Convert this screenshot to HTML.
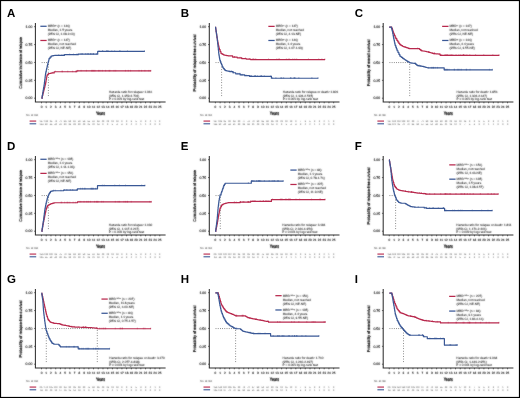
<!DOCTYPE html>
<html><head><meta charset="utf-8"><title>Figure</title>
<style>
html,body{margin:0;padding:0;background:#fff;}
body{width:520px;height:398px;overflow:hidden;font-family:"Liberation Sans",sans-serif;}
svg{display:block;}
</style></head><body>
<svg width="520" height="398" viewBox="0 0 520 398" font-family="Liberation Sans, sans-serif" text-rendering="geometricPrecision">
<defs><filter id="nf"><feOffset dx="0" dy="0"/></filter><filter id="tb" x="-5%" y="-20%" width="110%" height="140%"><feConvolveMatrix order="3" kernelMatrix="1 2 1 2 20 2 1 2 1" divisor="32" edgeMode="none" preserveAlpha="false"/></filter></defs>
<rect x="0" y="0" width="520" height="398" fill="#fff"/>
<text x="6.9" y="16.85" font-size="11.5" font-weight="bold" fill="#000" filter="url(#nf)">A</text>
<line x1="34.1" y1="98.2" x2="35.4" y2="98.2" stroke="#303030" stroke-width="0.7"/>
<line x1="34.1" y1="80.33" x2="35.4" y2="80.33" stroke="#303030" stroke-width="0.7"/>
<line x1="34.1" y1="62.45" x2="35.4" y2="62.45" stroke="#303030" stroke-width="0.7"/>
<line x1="34.1" y1="44.58" x2="35.4" y2="44.58" stroke="#303030" stroke-width="0.7"/>
<line x1="34.1" y1="26.7" x2="35.4" y2="26.7" stroke="#303030" stroke-width="0.7"/>
<path d="M35.4 23 V101.9 H165.6" fill="none" stroke="#303030" stroke-width="1.05"/>
<line x1="41.5" y1="101.9" x2="41.5" y2="103.3" stroke="#303030" stroke-width="0.7"/>
<line x1="46.23" y1="101.9" x2="46.23" y2="103.3" stroke="#303030" stroke-width="0.7"/>
<line x1="50.96" y1="101.9" x2="50.96" y2="103.3" stroke="#303030" stroke-width="0.7"/>
<line x1="55.69" y1="101.9" x2="55.69" y2="103.3" stroke="#303030" stroke-width="0.7"/>
<line x1="60.42" y1="101.9" x2="60.42" y2="103.3" stroke="#303030" stroke-width="0.7"/>
<line x1="65.15" y1="101.9" x2="65.15" y2="103.3" stroke="#303030" stroke-width="0.7"/>
<line x1="69.88" y1="101.9" x2="69.88" y2="103.3" stroke="#303030" stroke-width="0.7"/>
<line x1="74.61" y1="101.9" x2="74.61" y2="103.3" stroke="#303030" stroke-width="0.7"/>
<line x1="79.34" y1="101.9" x2="79.34" y2="103.3" stroke="#303030" stroke-width="0.7"/>
<line x1="84.07" y1="101.9" x2="84.07" y2="103.3" stroke="#303030" stroke-width="0.7"/>
<line x1="88.8" y1="101.9" x2="88.8" y2="103.3" stroke="#303030" stroke-width="0.7"/>
<line x1="93.53" y1="101.9" x2="93.53" y2="103.3" stroke="#303030" stroke-width="0.7"/>
<line x1="98.26" y1="101.9" x2="98.26" y2="103.3" stroke="#303030" stroke-width="0.7"/>
<line x1="102.99" y1="101.9" x2="102.99" y2="103.3" stroke="#303030" stroke-width="0.7"/>
<line x1="107.72" y1="101.9" x2="107.72" y2="103.3" stroke="#303030" stroke-width="0.7"/>
<line x1="112.45" y1="101.9" x2="112.45" y2="103.3" stroke="#303030" stroke-width="0.7"/>
<line x1="117.18" y1="101.9" x2="117.18" y2="103.3" stroke="#303030" stroke-width="0.7"/>
<line x1="121.91" y1="101.9" x2="121.91" y2="103.3" stroke="#303030" stroke-width="0.7"/>
<line x1="126.64" y1="101.9" x2="126.64" y2="103.3" stroke="#303030" stroke-width="0.7"/>
<line x1="131.37" y1="101.9" x2="131.37" y2="103.3" stroke="#303030" stroke-width="0.7"/>
<line x1="136.1" y1="101.9" x2="136.1" y2="103.3" stroke="#303030" stroke-width="0.7"/>
<line x1="140.83" y1="101.9" x2="140.83" y2="103.3" stroke="#303030" stroke-width="0.7"/>
<line x1="145.56" y1="101.9" x2="145.56" y2="103.3" stroke="#303030" stroke-width="0.7"/>
<line x1="150.29" y1="101.9" x2="150.29" y2="103.3" stroke="#303030" stroke-width="0.7"/>
<line x1="155.02" y1="101.9" x2="155.02" y2="103.3" stroke="#303030" stroke-width="0.7"/>
<line x1="159.75" y1="101.9" x2="159.75" y2="103.3" stroke="#303030" stroke-width="0.7"/>
<rect x="29.6" y="120.35" width="6.6" height="1.5" fill="#b8294d" fill-opacity="0.75"/>
<rect x="29.6" y="122.95" width="6.6" height="1.5" fill="#3a5896" fill-opacity="0.75"/>
<line x1="41.7" y1="62.55" x2="48.4" y2="62.55" stroke="#444" stroke-width="0.75" stroke-dasharray="0.8 1.4"/>
<line x1="48.4" y1="64.05" x2="48.4" y2="97.4" stroke="#444" stroke-width="0.75" stroke-dasharray="0.8 1.8"/>
<path d="M41.7 98.45 L42.06 98.45 L42.06 96.95 L42.42 96.95 L42.42 95.45 L42.78 95.45 L42.78 93.95 L43.14 93.95 L43.14 92.45 L43.5 92.45 L43.5 90.95 L43.92 90.95 L43.92 89.29 L44.34 89.29 L44.34 87.63 L44.76 87.63 L44.76 85.97 L45.18 85.97 L45.18 84.31 L45.6 84.31 L45.6 82.65 L45.88 82.65 L45.88 81.13 L46.16 81.13 L46.16 79.61 L46.44 79.61 L46.44 78.09 L46.72 78.09 L46.72 76.57 L47 76.57 L47 75.05 L47.7 75.05 L47.7 74.35 L48.4 74.35 L48.4 73.65 L49.25 73.65 L49.25 73.48 L50.1 73.48 L50.1 73.3 L50.95 73.3 L50.95 73.12 L51.8 73.12 L51.8 72.95 L54.2 72.95 L54.2 71.75 L76.8 71.75 L76.8 70.95 L151.1 70.95" fill="none" stroke="#b8294d" stroke-width="1.2" stroke-linejoin="round" />
<path d="M52.67 71.9v1.5M55.31 70.7v1.5M62.14 70.7v1.5M62.28 70.7v1.5M67.76 70.7v1.5M72.63 70.7v1.5M75.53 70.7v1.5M76.37 70.7v1.5M77.81 69.9v1.5M81.1 69.9v1.5M86.38 69.9v1.5M91.76 69.9v1.5M92.18 69.9v1.5M93.19 69.9v1.5M94.02 69.9v1.5M95.02 69.9v1.5M98.54 69.9v1.5M99.89 69.9v1.5M102.34 69.9v1.5M105.61 69.9v1.5M109.05 69.9v1.5M109.9 69.9v1.5M114.02 69.9v1.5M115.72 69.9v1.5M125.46 69.9v1.5M128.29 69.9v1.5M130.57 69.9v1.5M138.99 69.9v1.5M141.55 69.9v1.5M144.86 69.9v1.5M148.89 69.9v1.5M150.8 69.9v1.5" stroke="#b8294d" stroke-width="0.5" fill="none"/>
<path d="M41.7 98.45 L41.98 98.45 L41.98 96.85 L42.26 96.85 L42.26 95.25 L42.53 95.25 L42.53 93.65 L42.81 93.65 L42.81 92.05 L43.09 92.05 L43.09 90.45 L43.37 90.45 L43.37 88.85 L43.64 88.85 L43.64 87.25 L43.92 87.25 L43.92 85.65 L44.2 85.65 L44.2 84.05 L44.4 84.05 L44.4 82.46 L44.6 82.46 L44.6 80.88 L44.8 80.88 L44.8 79.29 L45 79.29 L45 77.71 L45.2 77.71 L45.2 76.12 L45.4 76.12 L45.4 74.54 L45.6 74.54 L45.6 72.95 L45.95 72.95 L45.95 71.4 L46.3 71.4 L46.3 69.85 L46.65 69.85 L46.65 68.3 L47 68.3 L47 66.75 L47.33 66.75 L47.33 65.35 L47.67 65.35 L47.67 63.95 L48 63.95 L48 62.55 L48.37 62.55 L48.37 61.15 L48.73 61.15 L48.73 59.75 L49.1 59.75 L49.1 58.35 L50.1 58.35 L50.1 57.2 L51.1 57.2 L51.1 56.05 L51.98 56.05 L51.98 55.88 L52.85 55.88 L52.85 55.7 L53.73 55.7 L53.73 55.52 L54.6 55.52 L54.6 55.35 L64.5 55.35 L64.5 54.65 L78.3 54.65 L78.3 54.15 L97.7 54.15 L97.7 51.45 L144.8 51.45" fill="none" stroke="#3a5896" stroke-width="1.2" stroke-linejoin="round" />
<path d="M58.73 54.3v1.5M61.89 54.3v1.5M63.78 54.3v1.5M69.68 53.6v1.5M73.47 53.6v1.5M76.71 53.6v1.5M77.81 53.6v1.5M81.13 53.1v1.5M82.4 53.1v1.5M85.64 53.1v1.5M87.38 53.1v1.5M88.53 53.1v1.5M90.43 53.1v1.5M91.05 53.1v1.5M93.17 53.1v1.5M93.48 53.1v1.5M96.47 53.1v1.5M99.07 50.4v1.5M102.58 50.4v1.5M102.71 50.4v1.5M106.59 50.4v1.5M106.88 50.4v1.5M107.97 50.4v1.5M107.98 50.4v1.5M111.82 50.4v1.5M114.67 50.4v1.5M119.66 50.4v1.5M120.09 50.4v1.5M127.48 50.4v1.5M144.5 50.4v1.5" stroke="#3a5896" stroke-width="0.5" fill="none"/>
<rect x="40.35" y="25.65" width="6.3" height="1.25" fill="#3a5896"/>
<rect x="40.35" y="39.85" width="6.3" height="1.25" fill="#b8294d"/>
<text x="180.8" y="16.85" font-size="11.5" font-weight="bold" fill="#000" filter="url(#nf)">B</text>
<line x1="208" y1="98.2" x2="209.3" y2="98.2" stroke="#303030" stroke-width="0.7"/>
<line x1="208" y1="80.33" x2="209.3" y2="80.33" stroke="#303030" stroke-width="0.7"/>
<line x1="208" y1="62.45" x2="209.3" y2="62.45" stroke="#303030" stroke-width="0.7"/>
<line x1="208" y1="44.58" x2="209.3" y2="44.58" stroke="#303030" stroke-width="0.7"/>
<line x1="208" y1="26.7" x2="209.3" y2="26.7" stroke="#303030" stroke-width="0.7"/>
<path d="M209.3 23 V101.9 H339.5" fill="none" stroke="#303030" stroke-width="1.05"/>
<line x1="215.4" y1="101.9" x2="215.4" y2="103.3" stroke="#303030" stroke-width="0.7"/>
<line x1="220.13" y1="101.9" x2="220.13" y2="103.3" stroke="#303030" stroke-width="0.7"/>
<line x1="224.86" y1="101.9" x2="224.86" y2="103.3" stroke="#303030" stroke-width="0.7"/>
<line x1="229.59" y1="101.9" x2="229.59" y2="103.3" stroke="#303030" stroke-width="0.7"/>
<line x1="234.32" y1="101.9" x2="234.32" y2="103.3" stroke="#303030" stroke-width="0.7"/>
<line x1="239.05" y1="101.9" x2="239.05" y2="103.3" stroke="#303030" stroke-width="0.7"/>
<line x1="243.78" y1="101.9" x2="243.78" y2="103.3" stroke="#303030" stroke-width="0.7"/>
<line x1="248.51" y1="101.9" x2="248.51" y2="103.3" stroke="#303030" stroke-width="0.7"/>
<line x1="253.24" y1="101.9" x2="253.24" y2="103.3" stroke="#303030" stroke-width="0.7"/>
<line x1="257.97" y1="101.9" x2="257.97" y2="103.3" stroke="#303030" stroke-width="0.7"/>
<line x1="262.7" y1="101.9" x2="262.7" y2="103.3" stroke="#303030" stroke-width="0.7"/>
<line x1="267.43" y1="101.9" x2="267.43" y2="103.3" stroke="#303030" stroke-width="0.7"/>
<line x1="272.16" y1="101.9" x2="272.16" y2="103.3" stroke="#303030" stroke-width="0.7"/>
<line x1="276.89" y1="101.9" x2="276.89" y2="103.3" stroke="#303030" stroke-width="0.7"/>
<line x1="281.62" y1="101.9" x2="281.62" y2="103.3" stroke="#303030" stroke-width="0.7"/>
<line x1="286.35" y1="101.9" x2="286.35" y2="103.3" stroke="#303030" stroke-width="0.7"/>
<line x1="291.08" y1="101.9" x2="291.08" y2="103.3" stroke="#303030" stroke-width="0.7"/>
<line x1="295.81" y1="101.9" x2="295.81" y2="103.3" stroke="#303030" stroke-width="0.7"/>
<line x1="300.54" y1="101.9" x2="300.54" y2="103.3" stroke="#303030" stroke-width="0.7"/>
<line x1="305.27" y1="101.9" x2="305.27" y2="103.3" stroke="#303030" stroke-width="0.7"/>
<line x1="310" y1="101.9" x2="310" y2="103.3" stroke="#303030" stroke-width="0.7"/>
<line x1="314.73" y1="101.9" x2="314.73" y2="103.3" stroke="#303030" stroke-width="0.7"/>
<line x1="319.46" y1="101.9" x2="319.46" y2="103.3" stroke="#303030" stroke-width="0.7"/>
<line x1="324.19" y1="101.9" x2="324.19" y2="103.3" stroke="#303030" stroke-width="0.7"/>
<line x1="328.92" y1="101.9" x2="328.92" y2="103.3" stroke="#303030" stroke-width="0.7"/>
<line x1="333.65" y1="101.9" x2="333.65" y2="103.3" stroke="#303030" stroke-width="0.7"/>
<rect x="203.5" y="120.35" width="6.6" height="1.5" fill="#b8294d" fill-opacity="0.75"/>
<rect x="203.5" y="122.95" width="6.6" height="1.5" fill="#3a5896" fill-opacity="0.75"/>
<line x1="215.6" y1="62.55" x2="221.6" y2="62.55" stroke="#444" stroke-width="0.75" stroke-dasharray="0.8 1.4"/>
<line x1="221.6" y1="64.05" x2="221.6" y2="97.4" stroke="#444" stroke-width="0.75" stroke-dasharray="0.8 1.8"/>
<path d="M215.4 27.05 L215.62 27.05 L215.62 28.55 L215.85 28.55 L215.85 30.05 L216.07 30.05 L216.07 31.55 L216.3 31.55 L216.3 33.05 L216.53 33.05 L216.53 34.55 L216.75 34.55 L216.75 36.05 L216.97 36.05 L216.97 37.55 L217.2 37.55 L217.2 39.05 L217.47 39.05 L217.47 40.55 L217.75 40.55 L217.75 42.05 L218.03 42.05 L218.03 43.55 L218.3 43.55 L218.3 45.05 L218.67 45.05 L218.67 46.58 L219.03 46.58 L219.03 48.12 L219.4 48.12 L219.4 49.65 L220.15 49.65 L220.15 51.5 L220.9 51.5 L220.9 53.35 L221.8 53.35 L221.8 53.88 L222.7 53.88 L222.7 54.42 L223.6 54.42 L223.6 54.95 L224.35 54.95 L224.35 55.1 L225.1 55.1 L225.1 55.25 L225.85 55.25 L225.85 55.4 L226.6 55.4 L226.6 55.55 L227.35 55.55 L227.35 55.7 L228.1 55.7 L228.1 55.85 L232.6 55.85 L232.6 57.05 L237.2 57.05 L237.2 57.85 L241.7 57.85 L241.7 58.55 L246.2 58.55 L246.2 59.05 L250.5 59.05 L250.5 59.55 L325.1 59.55" fill="none" stroke="#b8294d" stroke-width="1.2" stroke-linejoin="round" />
<path d="M234.21 56v1.5M234.64 56v1.5M240.01 56.8v1.5M241.77 57.5v1.5M245.45 57.5v1.5M249.35 58v1.5M252.21 58.5v1.5M253.19 58.5v1.5M253.41 58.5v1.5M254.94 58.5v1.5M255.84 58.5v1.5M268.56 58.5v1.5M276.84 58.5v1.5M279.04 58.5v1.5M279.13 58.5v1.5M286.35 58.5v1.5M288.31 58.5v1.5M289.62 58.5v1.5M292.77 58.5v1.5M294.8 58.5v1.5M296.67 58.5v1.5M308.46 58.5v1.5M318.73 58.5v1.5M321.91 58.5v1.5M324.8 58.5v1.5" stroke="#b8294d" stroke-width="0.5" fill="none"/>
<path d="M215.4 27.05 L215.62 27.05 L215.62 28.55 L215.85 28.55 L215.85 30.05 L216.07 30.05 L216.07 31.55 L216.3 31.55 L216.3 33.05 L216.53 33.05 L216.53 34.55 L216.75 34.55 L216.75 36.05 L216.97 36.05 L216.97 37.55 L217.2 37.55 L217.2 39.05 L217.35 39.05 L217.35 40.55 L217.5 40.55 L217.5 42.05 L217.65 42.05 L217.65 43.55 L217.8 43.55 L217.8 45.05 L217.97 45.05 L217.97 46.57 L218.13 46.57 L218.13 48.08 L218.3 48.08 L218.3 49.6 L218.47 49.6 L218.47 51.12 L218.63 51.12 L218.63 52.63 L218.8 52.63 L218.8 54.15 L219.05 54.15 L219.05 55.65 L219.3 55.65 L219.3 57.15 L219.55 57.15 L219.55 58.65 L219.8 58.65 L219.8 60.15 L220.35 60.15 L220.35 61.7 L220.9 61.7 L220.9 63.25 L221.53 63.25 L221.53 64.75 L222.17 64.75 L222.17 66.25 L222.8 66.25 L222.8 67.75 L223.57 67.75 L223.57 68.65 L224.33 68.65 L224.33 69.55 L225.1 69.55 L225.1 70.45 L225.85 70.45 L225.85 70.63 L226.6 70.63 L226.6 70.82 L227.35 70.82 L227.35 71 L228.1 71 L228.1 71.18 L228.85 71.18 L228.85 71.37 L229.6 71.37 L229.6 71.55 L233 71.55 L233 72.75 L235.7 72.75 L235.7 73.85 L240.2 73.85 L240.2 74.95 L244.7 74.95 L244.7 75.65 L249.5 75.65 L249.5 76.35 L271.4 76.35 L271.4 78.25 L318.3 78.25" fill="none" stroke="#3a5896" stroke-width="1.2" stroke-linejoin="round" />
<path d="M229.64 70.5v1.5M230.91 70.5v1.5M231.62 70.5v1.5M233.21 71.7v1.5M233.6 71.7v1.5M237.77 72.8v1.5M239.79 72.8v1.5M241.46 73.9v1.5M242.57 73.9v1.5M246.06 74.6v1.5M250.83 75.3v1.5M250.85 75.3v1.5M251.38 75.3v1.5M254.61 75.3v1.5M255.18 75.3v1.5M255.47 75.3v1.5M257.4 75.3v1.5M260.38 75.3v1.5M261.43 75.3v1.5M261.63 75.3v1.5M264.28 75.3v1.5M270.88 75.3v1.5M272.63 77.2v1.5M275.9 77.2v1.5M280.87 77.2v1.5M281.72 77.2v1.5M283.64 77.2v1.5M290.44 77.2v1.5M291.03 77.2v1.5M294 77.2v1.5M294.36 77.2v1.5M295.14 77.2v1.5M298.83 77.2v1.5M311.88 77.2v1.5M318 77.2v1.5" stroke="#3a5896" stroke-width="0.5" fill="none"/>
<rect x="268.35" y="25.75" width="6.3" height="1.25" fill="#b8294d"/>
<rect x="268.35" y="39.85" width="6.3" height="1.25" fill="#3a5896"/>
<text x="354.7" y="16.85" font-size="11.5" font-weight="bold" fill="#000" filter="url(#nf)">C</text>
<line x1="381.9" y1="98.2" x2="383.2" y2="98.2" stroke="#303030" stroke-width="0.7"/>
<line x1="381.9" y1="80.33" x2="383.2" y2="80.33" stroke="#303030" stroke-width="0.7"/>
<line x1="381.9" y1="62.45" x2="383.2" y2="62.45" stroke="#303030" stroke-width="0.7"/>
<line x1="381.9" y1="44.58" x2="383.2" y2="44.58" stroke="#303030" stroke-width="0.7"/>
<line x1="381.9" y1="26.7" x2="383.2" y2="26.7" stroke="#303030" stroke-width="0.7"/>
<path d="M383.2 23 V101.9 H513.4" fill="none" stroke="#303030" stroke-width="1.05"/>
<line x1="389.3" y1="101.9" x2="389.3" y2="103.3" stroke="#303030" stroke-width="0.7"/>
<line x1="394.03" y1="101.9" x2="394.03" y2="103.3" stroke="#303030" stroke-width="0.7"/>
<line x1="398.76" y1="101.9" x2="398.76" y2="103.3" stroke="#303030" stroke-width="0.7"/>
<line x1="403.49" y1="101.9" x2="403.49" y2="103.3" stroke="#303030" stroke-width="0.7"/>
<line x1="408.22" y1="101.9" x2="408.22" y2="103.3" stroke="#303030" stroke-width="0.7"/>
<line x1="412.95" y1="101.9" x2="412.95" y2="103.3" stroke="#303030" stroke-width="0.7"/>
<line x1="417.68" y1="101.9" x2="417.68" y2="103.3" stroke="#303030" stroke-width="0.7"/>
<line x1="422.41" y1="101.9" x2="422.41" y2="103.3" stroke="#303030" stroke-width="0.7"/>
<line x1="427.14" y1="101.9" x2="427.14" y2="103.3" stroke="#303030" stroke-width="0.7"/>
<line x1="431.87" y1="101.9" x2="431.87" y2="103.3" stroke="#303030" stroke-width="0.7"/>
<line x1="436.6" y1="101.9" x2="436.6" y2="103.3" stroke="#303030" stroke-width="0.7"/>
<line x1="441.33" y1="101.9" x2="441.33" y2="103.3" stroke="#303030" stroke-width="0.7"/>
<line x1="446.06" y1="101.9" x2="446.06" y2="103.3" stroke="#303030" stroke-width="0.7"/>
<line x1="450.79" y1="101.9" x2="450.79" y2="103.3" stroke="#303030" stroke-width="0.7"/>
<line x1="455.52" y1="101.9" x2="455.52" y2="103.3" stroke="#303030" stroke-width="0.7"/>
<line x1="460.25" y1="101.9" x2="460.25" y2="103.3" stroke="#303030" stroke-width="0.7"/>
<line x1="464.98" y1="101.9" x2="464.98" y2="103.3" stroke="#303030" stroke-width="0.7"/>
<line x1="469.71" y1="101.9" x2="469.71" y2="103.3" stroke="#303030" stroke-width="0.7"/>
<line x1="474.44" y1="101.9" x2="474.44" y2="103.3" stroke="#303030" stroke-width="0.7"/>
<line x1="479.17" y1="101.9" x2="479.17" y2="103.3" stroke="#303030" stroke-width="0.7"/>
<line x1="483.9" y1="101.9" x2="483.9" y2="103.3" stroke="#303030" stroke-width="0.7"/>
<line x1="488.63" y1="101.9" x2="488.63" y2="103.3" stroke="#303030" stroke-width="0.7"/>
<line x1="493.36" y1="101.9" x2="493.36" y2="103.3" stroke="#303030" stroke-width="0.7"/>
<line x1="498.09" y1="101.9" x2="498.09" y2="103.3" stroke="#303030" stroke-width="0.7"/>
<line x1="502.82" y1="101.9" x2="502.82" y2="103.3" stroke="#303030" stroke-width="0.7"/>
<line x1="507.55" y1="101.9" x2="507.55" y2="103.3" stroke="#303030" stroke-width="0.7"/>
<rect x="377.4" y="120.35" width="6.6" height="1.5" fill="#b8294d" fill-opacity="0.75"/>
<rect x="377.4" y="122.95" width="6.6" height="1.5" fill="#3a5896" fill-opacity="0.75"/>
<line x1="389.5" y1="62.55" x2="409.7" y2="62.55" stroke="#444" stroke-width="0.75" stroke-dasharray="0.8 1.4"/>
<line x1="409.7" y1="64.05" x2="409.7" y2="97.4" stroke="#444" stroke-width="0.75" stroke-dasharray="0.8 1.8"/>
<path d="M389.2 27.05 L391.1 27.05 L391.75 27.05 L391.75 28.45 L392.4 28.45 L392.4 29.85 L392.83 29.85 L392.83 31.18 L393.27 31.18 L393.27 32.52 L393.7 32.52 L393.7 33.85 L394.4 33.85 L394.4 35.45 L395.1 35.45 L395.1 37.05 L395.8 37.05 L395.8 38.65 L396.8 38.65 L396.8 40.3 L397.8 40.3 L397.8 41.95 L398.8 41.95 L398.8 43.3 L399.8 43.3 L399.8 44.65 L400.7 44.65 L400.7 45.18 L401.6 45.18 L401.6 45.72 L402.5 45.72 L402.5 46.25 L403.3 46.25 L403.3 46.53 L404.1 46.53 L404.1 46.81 L404.9 46.81 L404.9 47.09 L405.7 47.09 L405.7 47.37 L406.5 47.37 L406.5 47.65 L407.4 47.65 L407.4 47.98 L408.3 47.98 L408.3 48.32 L409.2 48.32 L409.2 48.65 L418.6 48.65 L419.5 48.65 L419.5 49.35 L420.4 49.35 L420.4 50.05 L421.3 50.05 L421.3 50.75 L422.12 50.75 L422.12 50.87 L422.94 50.87 L422.94 50.99 L423.76 50.99 L423.76 51.11 L424.58 51.11 L424.58 51.23 L425.4 51.23 L425.4 51.35 L426.17 51.35 L426.17 51.55 L426.94 51.55 L426.94 51.75 L427.71 51.75 L427.71 51.95 L428.49 51.95 L428.49 52.15 L429.26 52.15 L429.26 52.35 L430.03 52.35 L430.03 52.55 L430.8 52.55 L430.8 52.75 L431.7 52.75 L431.7 53.05 L432.6 53.05 L432.6 53.35 L433.5 53.35 L433.5 53.65 L434.26 53.65 L434.26 53.71 L435.01 53.71 L435.01 53.76 L435.77 53.76 L435.77 53.82 L436.53 53.82 L436.53 53.88 L437.29 53.88 L437.29 53.94 L438.04 53.94 L438.04 53.99 L438.8 53.99 L438.8 54.05 L440.2 54.05 L440.2 55.35 L499.3 55.35" fill="none" stroke="#b8294d" stroke-width="1.2" stroke-linejoin="round" />
<path d="M405.19 46.04v1.5M408.77 47.27v1.5M417.66 47.6v1.5M421.43 49.7v1.5M421.69 49.7v1.5M428.63 51.1v1.5M428.86 51.1v1.5M432.68 52.3v1.5M434.35 52.66v1.5M434.61 52.66v1.5M434.66 52.66v1.5M439.14 53v1.5M441.62 54.3v1.5M444.84 54.3v1.5M445.71 54.3v1.5M446.31 54.3v1.5M447.14 54.3v1.5M447.58 54.3v1.5M449.07 54.3v1.5M450.9 54.3v1.5M451.29 54.3v1.5M452.78 54.3v1.5M456.05 54.3v1.5M458.9 54.3v1.5M460.75 54.3v1.5M462.98 54.3v1.5M463.44 54.3v1.5M463.51 54.3v1.5M464.82 54.3v1.5M466.86 54.3v1.5M469.82 54.3v1.5M475.59 54.3v1.5M483.78 54.3v1.5M492.84 54.3v1.5M499 54.3v1.5" stroke="#b8294d" stroke-width="0.5" fill="none"/>
<path d="M389.2 27.05 L391.1 27.05 L391.53 27.05 L391.53 28.65 L391.97 28.65 L391.97 30.25 L392.4 30.25 L392.4 31.85 L392.72 31.85 L392.72 33.55 L393.05 33.55 L393.05 35.25 L393.38 35.25 L393.38 36.95 L393.7 36.95 L393.7 38.65 L394.05 38.65 L394.05 40.33 L394.4 40.33 L394.4 42 L394.75 42 L394.75 43.68 L395.1 43.68 L395.1 45.35 L395.77 45.35 L395.77 47.15 L396.43 47.15 L396.43 48.95 L397.1 48.95 L397.1 50.75 L398 50.75 L398 52.52 L398.9 52.52 L398.9 54.28 L399.8 54.28 L399.8 56.05 L400.7 56.05 L400.7 56.75 L401.6 56.75 L401.6 57.45 L402.5 57.45 L402.5 58.15 L403.3 58.15 L403.3 58.69 L404.1 58.69 L404.1 59.23 L404.9 59.23 L404.9 59.77 L405.7 59.77 L405.7 60.31 L406.5 60.31 L406.5 60.85 L407.35 60.85 L407.35 61.35 L408.2 61.35 L408.2 61.85 L409.05 61.85 L409.05 62.35 L409.9 62.35 L409.9 62.85 L410.68 62.85 L410.68 62.95 L411.47 62.95 L411.47 63.05 L412.25 63.05 L412.25 63.15 L413.03 63.15 L413.03 63.25 L413.82 63.25 L413.82 63.35 L414.6 63.35 L414.6 63.45 L415.5 63.45 L415.5 64.15 L416.4 64.15 L416.4 64.85 L417.3 64.85 L417.3 65.55 L418.07 65.55 L418.07 65.68 L418.84 65.68 L418.84 65.81 L419.61 65.81 L419.61 65.94 L420.39 65.94 L420.39 66.06 L421.16 66.06 L421.16 66.19 L421.93 66.19 L421.93 66.32 L422.7 66.32 L422.7 66.45 L423.47 66.45 L423.47 66.66 L424.24 66.66 L424.24 66.88 L425.01 66.88 L425.01 67.09 L425.79 67.09 L425.79 67.31 L426.56 67.31 L426.56 67.52 L427.33 67.52 L427.33 67.74 L428.1 67.74 L428.1 67.95 L444.2 67.95 L444.2 69.85 L492.7 69.85" fill="none" stroke="#3a5896" stroke-width="1.2" stroke-linejoin="round" />
<path d="M415.12 62.4v1.5M416.53 63.8v1.5M418.99 64.76v1.5M419.16 64.76v1.5M420.61 65.01v1.5M428.47 66.9v1.5M431.35 66.9v1.5M432.22 66.9v1.5M433.39 66.9v1.5M433.45 66.9v1.5M435.23 66.9v1.5M437.52 66.9v1.5M444.3 68.8v1.5M445.01 68.8v1.5M445.83 68.8v1.5M446.62 68.8v1.5M447.52 68.8v1.5M449.02 68.8v1.5M454.15 68.8v1.5M454.5 68.8v1.5M457.36 68.8v1.5M458.46 68.8v1.5M459.88 68.8v1.5M461.44 68.8v1.5M466.15 68.8v1.5M466.59 68.8v1.5M470.02 68.8v1.5M489.41 68.8v1.5M492.4 68.8v1.5" stroke="#3a5896" stroke-width="0.5" fill="none"/>
<rect x="442.15" y="25.75" width="6.3" height="1.25" fill="#b8294d"/>
<rect x="442.15" y="39.85" width="6.3" height="1.25" fill="#3a5896"/>
<text x="6.9" y="149.85" font-size="11.5" font-weight="bold" fill="#000" filter="url(#nf)">D</text>
<line x1="34.1" y1="231.2" x2="35.4" y2="231.2" stroke="#303030" stroke-width="0.7"/>
<line x1="34.1" y1="213.32" x2="35.4" y2="213.32" stroke="#303030" stroke-width="0.7"/>
<line x1="34.1" y1="195.45" x2="35.4" y2="195.45" stroke="#303030" stroke-width="0.7"/>
<line x1="34.1" y1="177.57" x2="35.4" y2="177.57" stroke="#303030" stroke-width="0.7"/>
<line x1="34.1" y1="159.7" x2="35.4" y2="159.7" stroke="#303030" stroke-width="0.7"/>
<path d="M35.4 156 V234.9 H165.6" fill="none" stroke="#303030" stroke-width="1.05"/>
<line x1="41.5" y1="234.9" x2="41.5" y2="236.3" stroke="#303030" stroke-width="0.7"/>
<line x1="46.23" y1="234.9" x2="46.23" y2="236.3" stroke="#303030" stroke-width="0.7"/>
<line x1="50.96" y1="234.9" x2="50.96" y2="236.3" stroke="#303030" stroke-width="0.7"/>
<line x1="55.69" y1="234.9" x2="55.69" y2="236.3" stroke="#303030" stroke-width="0.7"/>
<line x1="60.42" y1="234.9" x2="60.42" y2="236.3" stroke="#303030" stroke-width="0.7"/>
<line x1="65.15" y1="234.9" x2="65.15" y2="236.3" stroke="#303030" stroke-width="0.7"/>
<line x1="69.88" y1="234.9" x2="69.88" y2="236.3" stroke="#303030" stroke-width="0.7"/>
<line x1="74.61" y1="234.9" x2="74.61" y2="236.3" stroke="#303030" stroke-width="0.7"/>
<line x1="79.34" y1="234.9" x2="79.34" y2="236.3" stroke="#303030" stroke-width="0.7"/>
<line x1="84.07" y1="234.9" x2="84.07" y2="236.3" stroke="#303030" stroke-width="0.7"/>
<line x1="88.8" y1="234.9" x2="88.8" y2="236.3" stroke="#303030" stroke-width="0.7"/>
<line x1="93.53" y1="234.9" x2="93.53" y2="236.3" stroke="#303030" stroke-width="0.7"/>
<line x1="98.26" y1="234.9" x2="98.26" y2="236.3" stroke="#303030" stroke-width="0.7"/>
<line x1="102.99" y1="234.9" x2="102.99" y2="236.3" stroke="#303030" stroke-width="0.7"/>
<line x1="107.72" y1="234.9" x2="107.72" y2="236.3" stroke="#303030" stroke-width="0.7"/>
<line x1="112.45" y1="234.9" x2="112.45" y2="236.3" stroke="#303030" stroke-width="0.7"/>
<line x1="117.18" y1="234.9" x2="117.18" y2="236.3" stroke="#303030" stroke-width="0.7"/>
<line x1="121.91" y1="234.9" x2="121.91" y2="236.3" stroke="#303030" stroke-width="0.7"/>
<line x1="126.64" y1="234.9" x2="126.64" y2="236.3" stroke="#303030" stroke-width="0.7"/>
<line x1="131.37" y1="234.9" x2="131.37" y2="236.3" stroke="#303030" stroke-width="0.7"/>
<line x1="136.1" y1="234.9" x2="136.1" y2="236.3" stroke="#303030" stroke-width="0.7"/>
<line x1="140.83" y1="234.9" x2="140.83" y2="236.3" stroke="#303030" stroke-width="0.7"/>
<line x1="145.56" y1="234.9" x2="145.56" y2="236.3" stroke="#303030" stroke-width="0.7"/>
<line x1="150.29" y1="234.9" x2="150.29" y2="236.3" stroke="#303030" stroke-width="0.7"/>
<line x1="155.02" y1="234.9" x2="155.02" y2="236.3" stroke="#303030" stroke-width="0.7"/>
<line x1="159.75" y1="234.9" x2="159.75" y2="236.3" stroke="#303030" stroke-width="0.7"/>
<rect x="29.6" y="253.35" width="6.6" height="1.5" fill="#b8294d" fill-opacity="0.75"/>
<rect x="29.6" y="255.95" width="6.6" height="1.5" fill="#3a5896" fill-opacity="0.75"/>
<line x1="41.7" y1="195.55" x2="48.4" y2="195.55" stroke="#444" stroke-width="0.75" stroke-dasharray="0.8 1.4"/>
<line x1="48.4" y1="197.05" x2="48.4" y2="230.4" stroke="#444" stroke-width="0.75" stroke-dasharray="0.8 1.8"/>
<path d="M41.7 231.45 L42 231.45 L42 229.73 L42.3 229.73 L42.3 228.02 L42.6 228.02 L42.6 226.3 L42.9 226.3 L42.9 224.58 L43.2 224.58 L43.2 222.87 L43.5 222.87 L43.5 221.15 L43.85 221.15 L43.85 219.43 L44.2 219.43 L44.2 217.7 L44.55 217.7 L44.55 215.97 L44.9 215.97 L44.9 214.25 L45.25 214.25 L45.25 212.7 L45.6 212.7 L45.6 211.15 L45.95 211.15 L45.95 209.6 L46.3 209.6 L46.3 208.05 L47 208.05 L47 206.65 L47.7 206.65 L47.7 205.25 L48.63 205.25 L48.63 204.78 L49.57 204.78 L49.57 204.32 L50.5 204.32 L50.5 203.85 L51.32 203.85 L51.32 203.63 L52.14 203.63 L52.14 203.41 L52.96 203.41 L52.96 203.19 L53.78 203.19 L53.78 202.97 L54.6 202.97 L54.6 202.75 L77.4 202.75 L77.4 201.95 L151.6 201.95" fill="none" stroke="#b8294d" stroke-width="1.2" stroke-linejoin="round" />
<path d="M61.11 201.7v1.5M61.82 201.7v1.5M64.71 201.7v1.5M67.02 201.7v1.5M67.92 201.7v1.5M69.84 201.7v1.5M73.11 201.7v1.5M75.3 201.7v1.5M79.13 200.9v1.5M80.77 200.9v1.5M84.01 200.9v1.5M86.78 200.9v1.5M88.3 200.9v1.5M90.38 200.9v1.5M94.68 200.9v1.5M96.82 200.9v1.5M96.97 200.9v1.5M98.07 200.9v1.5M101.64 200.9v1.5M103.27 200.9v1.5M115.3 200.9v1.5M118.14 200.9v1.5M119.61 200.9v1.5M123.94 200.9v1.5M125.54 200.9v1.5M127.08 200.9v1.5M127.63 200.9v1.5M131.24 200.9v1.5M149.78 200.9v1.5M151.3 200.9v1.5" stroke="#b8294d" stroke-width="0.5" fill="none"/>
<path d="M41.7 231.45 L41.96 231.45 L41.96 229.78 L42.21 229.78 L42.21 228.11 L42.47 228.11 L42.47 226.44 L42.73 226.44 L42.73 224.76 L42.99 224.76 L42.99 223.09 L43.24 223.09 L43.24 221.42 L43.5 221.42 L43.5 219.75 L43.7 219.75 L43.7 218.16 L43.9 218.16 L43.9 216.58 L44.1 216.58 L44.1 214.99 L44.3 214.99 L44.3 213.41 L44.5 213.41 L44.5 211.82 L44.7 211.82 L44.7 210.24 L44.9 210.24 L44.9 208.65 L45.25 208.65 L45.25 206.93 L45.6 206.93 L45.6 205.2 L45.95 205.2 L45.95 203.47 L46.3 203.47 L46.3 201.75 L46.77 201.75 L46.77 199.92 L47.23 199.92 L47.23 198.08 L47.7 198.08 L47.7 196.25 L48.4 196.25 L48.4 194.85 L49.1 194.85 L49.1 193.45 L49.8 193.45 L49.8 192.4 L50.5 192.4 L50.5 191.35 L51.4 191.35 L51.4 191.15 L52.3 191.15 L52.3 190.95 L53.2 190.95 L53.2 190.75 L63.6 190.75 L63.6 190.05 L77.4 190.05 L77.4 188.85 L97.5 188.85 L97.5 185.65 L145.2 185.65" fill="none" stroke="#3a5896" stroke-width="1.2" stroke-linejoin="round" />
<path d="M53.57 189.7v1.5M55.24 189.7v1.5M60.94 189.7v1.5M64.32 189v1.5M66.83 189v1.5M70.29 189v1.5M72.7 189v1.5M76.86 189v1.5M80.63 187.8v1.5M82.5 187.8v1.5M84.41 187.8v1.5M85.21 187.8v1.5M90.88 187.8v1.5M91.65 187.8v1.5M92.03 187.8v1.5M92.93 187.8v1.5M93.22 187.8v1.5M95.58 187.8v1.5M102.35 184.6v1.5M104.22 184.6v1.5M114.74 184.6v1.5M119.4 184.6v1.5M125.51 184.6v1.5M141.66 184.6v1.5M144.9 184.6v1.5" stroke="#3a5896" stroke-width="0.5" fill="none"/>
<rect x="40.35" y="158.65" width="6.3" height="1.25" fill="#3a5896"/>
<rect x="40.35" y="172.75" width="6.3" height="1.25" fill="#b8294d"/>
<text x="180.8" y="149.85" font-size="11.5" font-weight="bold" fill="#000" filter="url(#nf)">E</text>
<line x1="208" y1="231.2" x2="209.3" y2="231.2" stroke="#303030" stroke-width="0.7"/>
<line x1="208" y1="213.32" x2="209.3" y2="213.32" stroke="#303030" stroke-width="0.7"/>
<line x1="208" y1="195.45" x2="209.3" y2="195.45" stroke="#303030" stroke-width="0.7"/>
<line x1="208" y1="177.57" x2="209.3" y2="177.57" stroke="#303030" stroke-width="0.7"/>
<line x1="208" y1="159.7" x2="209.3" y2="159.7" stroke="#303030" stroke-width="0.7"/>
<path d="M209.3 156 V234.9 H339.5" fill="none" stroke="#303030" stroke-width="1.05"/>
<line x1="215.4" y1="234.9" x2="215.4" y2="236.3" stroke="#303030" stroke-width="0.7"/>
<line x1="220.13" y1="234.9" x2="220.13" y2="236.3" stroke="#303030" stroke-width="0.7"/>
<line x1="224.86" y1="234.9" x2="224.86" y2="236.3" stroke="#303030" stroke-width="0.7"/>
<line x1="229.59" y1="234.9" x2="229.59" y2="236.3" stroke="#303030" stroke-width="0.7"/>
<line x1="234.32" y1="234.9" x2="234.32" y2="236.3" stroke="#303030" stroke-width="0.7"/>
<line x1="239.05" y1="234.9" x2="239.05" y2="236.3" stroke="#303030" stroke-width="0.7"/>
<line x1="243.78" y1="234.9" x2="243.78" y2="236.3" stroke="#303030" stroke-width="0.7"/>
<line x1="248.51" y1="234.9" x2="248.51" y2="236.3" stroke="#303030" stroke-width="0.7"/>
<line x1="253.24" y1="234.9" x2="253.24" y2="236.3" stroke="#303030" stroke-width="0.7"/>
<line x1="257.97" y1="234.9" x2="257.97" y2="236.3" stroke="#303030" stroke-width="0.7"/>
<line x1="262.7" y1="234.9" x2="262.7" y2="236.3" stroke="#303030" stroke-width="0.7"/>
<line x1="267.43" y1="234.9" x2="267.43" y2="236.3" stroke="#303030" stroke-width="0.7"/>
<line x1="272.16" y1="234.9" x2="272.16" y2="236.3" stroke="#303030" stroke-width="0.7"/>
<line x1="276.89" y1="234.9" x2="276.89" y2="236.3" stroke="#303030" stroke-width="0.7"/>
<line x1="281.62" y1="234.9" x2="281.62" y2="236.3" stroke="#303030" stroke-width="0.7"/>
<line x1="286.35" y1="234.9" x2="286.35" y2="236.3" stroke="#303030" stroke-width="0.7"/>
<line x1="291.08" y1="234.9" x2="291.08" y2="236.3" stroke="#303030" stroke-width="0.7"/>
<line x1="295.81" y1="234.9" x2="295.81" y2="236.3" stroke="#303030" stroke-width="0.7"/>
<line x1="300.54" y1="234.9" x2="300.54" y2="236.3" stroke="#303030" stroke-width="0.7"/>
<line x1="305.27" y1="234.9" x2="305.27" y2="236.3" stroke="#303030" stroke-width="0.7"/>
<line x1="310" y1="234.9" x2="310" y2="236.3" stroke="#303030" stroke-width="0.7"/>
<line x1="314.73" y1="234.9" x2="314.73" y2="236.3" stroke="#303030" stroke-width="0.7"/>
<line x1="319.46" y1="234.9" x2="319.46" y2="236.3" stroke="#303030" stroke-width="0.7"/>
<line x1="324.19" y1="234.9" x2="324.19" y2="236.3" stroke="#303030" stroke-width="0.7"/>
<line x1="328.92" y1="234.9" x2="328.92" y2="236.3" stroke="#303030" stroke-width="0.7"/>
<line x1="333.65" y1="234.9" x2="333.65" y2="236.3" stroke="#303030" stroke-width="0.7"/>
<rect x="203.5" y="253.35" width="6.6" height="1.5" fill="#b8294d" fill-opacity="0.75"/>
<rect x="203.5" y="255.95" width="6.6" height="1.5" fill="#3a5896" fill-opacity="0.75"/>
<line x1="215.6" y1="195.55" x2="220.3" y2="195.55" stroke="#444" stroke-width="0.75" stroke-dasharray="0.8 1.4"/>
<line x1="220.3" y1="197.05" x2="220.3" y2="230.4" stroke="#444" stroke-width="0.75" stroke-dasharray="0.8 1.8"/>
<path d="M215.5 231.45 L215.82 231.45 L215.82 229.85 L216.14 229.85 L216.14 228.25 L216.46 228.25 L216.46 226.65 L216.78 226.65 L216.78 225.05 L217.1 225.05 L217.1 223.45 L217.4 223.45 L217.4 221.69 L217.7 221.69 L217.7 219.93 L218 219.93 L218 218.17 L218.3 218.17 L218.3 216.41 L218.6 216.41 L218.6 214.65 L218.95 214.65 L218.95 213 L219.3 213 L219.3 211.35 L219.65 211.35 L219.65 209.7 L220 209.7 L220 208.05 L220.75 208.05 L220.75 206.6 L221.5 206.6 L221.5 205.15 L222.23 205.15 L222.23 204.68 L222.97 204.68 L222.97 204.22 L223.7 204.22 L223.7 203.75 L224.43 203.75 L224.43 203.57 L225.17 203.57 L225.17 203.38 L225.9 203.38 L225.9 203.2 L226.63 203.2 L226.63 203.02 L227.37 203.02 L227.37 202.83 L228.1 202.83 L228.1 202.65 L240 202.65 L240 202.05 L250.7 202.05 L250.7 201.45 L271.4 201.45 L271.4 199.65 L325.3 199.65" fill="none" stroke="#b8294d" stroke-width="1.2" stroke-linejoin="round" />
<path d="M234.22 201.6v1.5M234.68 201.6v1.5M236.37 201.6v1.5M240.37 201v1.5M240.42 201v1.5M242.99 201v1.5M243.91 201v1.5M247.78 201v1.5M248.39 201v1.5M248.59 201v1.5M250 201v1.5M250.7 200.4v1.5M252.41 200.4v1.5M253.61 200.4v1.5M254.83 200.4v1.5M255.13 200.4v1.5M260.17 200.4v1.5M263.27 200.4v1.5M263.34 200.4v1.5M265.74 200.4v1.5M266.27 200.4v1.5M267.85 200.4v1.5M268.94 200.4v1.5M272.55 198.6v1.5M280.37 198.6v1.5M281.32 198.6v1.5M282.21 198.6v1.5M285.45 198.6v1.5M286.69 198.6v1.5M288.43 198.6v1.5M289.06 198.6v1.5M289.84 198.6v1.5M290.29 198.6v1.5M295.97 198.6v1.5M299.64 198.6v1.5M311.57 198.6v1.5M319.98 198.6v1.5M320.29 198.6v1.5M325 198.6v1.5" stroke="#b8294d" stroke-width="0.5" fill="none"/>
<path d="M215.5 231.45 L215.7 231.45 L215.7 229.9 L215.9 229.9 L215.9 228.35 L216.1 228.35 L216.1 226.8 L216.3 226.8 L216.3 225.25 L216.5 225.25 L216.5 223.7 L216.7 223.7 L216.7 222.15 L216.9 222.15 L216.9 220.6 L217.1 220.6 L217.1 219.05 L217.24 219.05 L217.24 217.38 L217.39 217.38 L217.39 215.71 L217.53 215.71 L217.53 214.04 L217.67 214.04 L217.67 212.36 L217.81 212.36 L217.81 210.69 L217.96 210.69 L217.96 209.02 L218.1 209.02 L218.1 207.35 L218.28 207.35 L218.28 205.89 L218.46 205.89 L218.46 204.43 L218.64 204.43 L218.64 202.97 L218.82 202.97 L218.82 201.51 L219 201.51 L219 200.05 L219.33 200.05 L219.33 198.35 L219.67 198.35 L219.67 196.65 L220 196.65 L220 194.95 L221.1 194.95 L221.1 192.75 L221.65 192.75 L221.65 191.3 L222.2 191.3 L222.2 189.85 L222.7 189.85 L222.7 188.38 L223.2 188.38 L223.2 186.92 L223.7 186.92 L223.7 185.45 L224.4 185.45 L224.4 184.35 L225.1 184.35 L225.1 183.25 L251.3 183.25 L251.3 181.15 L283.5 181.15" fill="none" stroke="#3a5896" stroke-width="1.2" stroke-linejoin="round" />
<path d="M248.36 182.2v1.5M251.56 180.1v1.5M252.05 180.1v1.5M252.76 180.1v1.5M253.95 180.1v1.5M256.55 180.1v1.5M258.13 180.1v1.5M258.77 180.1v1.5M259.1 180.1v1.5M259.57 180.1v1.5M260.72 180.1v1.5M264.39 180.1v1.5M269.18 180.1v1.5M272.23 180.1v1.5M273.84 180.1v1.5M274.62 180.1v1.5M277.58 180.1v1.5M278.57 180.1v1.5M283.2 180.1v1.5" stroke="#3a5896" stroke-width="0.5" fill="none"/>
<rect x="290.35" y="169.45" width="6.3" height="1.25" fill="#3a5896"/>
<rect x="290.35" y="183.85" width="6.3" height="1.25" fill="#b8294d"/>
<text x="354.7" y="149.85" font-size="11.5" font-weight="bold" fill="#000" filter="url(#nf)">F</text>
<line x1="381.9" y1="231.2" x2="383.2" y2="231.2" stroke="#303030" stroke-width="0.7"/>
<line x1="381.9" y1="213.32" x2="383.2" y2="213.32" stroke="#303030" stroke-width="0.7"/>
<line x1="381.9" y1="195.45" x2="383.2" y2="195.45" stroke="#303030" stroke-width="0.7"/>
<line x1="381.9" y1="177.57" x2="383.2" y2="177.57" stroke="#303030" stroke-width="0.7"/>
<line x1="381.9" y1="159.7" x2="383.2" y2="159.7" stroke="#303030" stroke-width="0.7"/>
<path d="M383.2 156 V234.9 H513.4" fill="none" stroke="#303030" stroke-width="1.05"/>
<line x1="389.3" y1="234.9" x2="389.3" y2="236.3" stroke="#303030" stroke-width="0.7"/>
<line x1="394.03" y1="234.9" x2="394.03" y2="236.3" stroke="#303030" stroke-width="0.7"/>
<line x1="398.76" y1="234.9" x2="398.76" y2="236.3" stroke="#303030" stroke-width="0.7"/>
<line x1="403.49" y1="234.9" x2="403.49" y2="236.3" stroke="#303030" stroke-width="0.7"/>
<line x1="408.22" y1="234.9" x2="408.22" y2="236.3" stroke="#303030" stroke-width="0.7"/>
<line x1="412.95" y1="234.9" x2="412.95" y2="236.3" stroke="#303030" stroke-width="0.7"/>
<line x1="417.68" y1="234.9" x2="417.68" y2="236.3" stroke="#303030" stroke-width="0.7"/>
<line x1="422.41" y1="234.9" x2="422.41" y2="236.3" stroke="#303030" stroke-width="0.7"/>
<line x1="427.14" y1="234.9" x2="427.14" y2="236.3" stroke="#303030" stroke-width="0.7"/>
<line x1="431.87" y1="234.9" x2="431.87" y2="236.3" stroke="#303030" stroke-width="0.7"/>
<line x1="436.6" y1="234.9" x2="436.6" y2="236.3" stroke="#303030" stroke-width="0.7"/>
<line x1="441.33" y1="234.9" x2="441.33" y2="236.3" stroke="#303030" stroke-width="0.7"/>
<line x1="446.06" y1="234.9" x2="446.06" y2="236.3" stroke="#303030" stroke-width="0.7"/>
<line x1="450.79" y1="234.9" x2="450.79" y2="236.3" stroke="#303030" stroke-width="0.7"/>
<line x1="455.52" y1="234.9" x2="455.52" y2="236.3" stroke="#303030" stroke-width="0.7"/>
<line x1="460.25" y1="234.9" x2="460.25" y2="236.3" stroke="#303030" stroke-width="0.7"/>
<line x1="464.98" y1="234.9" x2="464.98" y2="236.3" stroke="#303030" stroke-width="0.7"/>
<line x1="469.71" y1="234.9" x2="469.71" y2="236.3" stroke="#303030" stroke-width="0.7"/>
<line x1="474.44" y1="234.9" x2="474.44" y2="236.3" stroke="#303030" stroke-width="0.7"/>
<line x1="479.17" y1="234.9" x2="479.17" y2="236.3" stroke="#303030" stroke-width="0.7"/>
<line x1="483.9" y1="234.9" x2="483.9" y2="236.3" stroke="#303030" stroke-width="0.7"/>
<line x1="488.63" y1="234.9" x2="488.63" y2="236.3" stroke="#303030" stroke-width="0.7"/>
<line x1="493.36" y1="234.9" x2="493.36" y2="236.3" stroke="#303030" stroke-width="0.7"/>
<line x1="498.09" y1="234.9" x2="498.09" y2="236.3" stroke="#303030" stroke-width="0.7"/>
<line x1="502.82" y1="234.9" x2="502.82" y2="236.3" stroke="#303030" stroke-width="0.7"/>
<line x1="507.55" y1="234.9" x2="507.55" y2="236.3" stroke="#303030" stroke-width="0.7"/>
<rect x="377.4" y="253.35" width="6.6" height="1.5" fill="#b8294d" fill-opacity="0.75"/>
<rect x="377.4" y="255.95" width="6.6" height="1.5" fill="#3a5896" fill-opacity="0.75"/>
<line x1="389.5" y1="195.55" x2="395.6" y2="195.55" stroke="#444" stroke-width="0.75" stroke-dasharray="0.8 1.4"/>
<line x1="395.6" y1="197.05" x2="395.6" y2="230.4" stroke="#444" stroke-width="0.75" stroke-dasharray="0.8 1.8"/>
<path d="M389.2 159.85 L389.45 159.85 L389.45 161.35 L389.7 161.35 L389.7 162.85 L389.95 162.85 L389.95 164.35 L390.2 164.35 L390.2 165.85 L390.45 165.85 L390.45 167.35 L390.7 167.35 L390.7 168.85 L390.98 168.85 L390.98 170.35 L391.25 170.35 L391.25 171.85 L391.52 171.85 L391.52 173.35 L391.8 173.35 L391.8 174.85 L392.05 174.85 L392.05 176.35 L392.3 176.35 L392.3 177.85 L392.55 177.85 L392.55 179.35 L392.8 179.35 L392.8 180.85 L393.33 180.85 L393.33 182.62 L393.87 182.62 L393.87 184.38 L394.4 184.38 L394.4 186.15 L395.35 186.15 L395.35 187.45 L396.3 187.45 L396.3 188.75 L397.05 188.75 L397.05 189.12 L397.8 189.12 L397.8 189.5 L398.55 189.5 L398.55 189.88 L399.3 189.88 L399.3 190.25 L400.06 190.25 L400.06 190.39 L400.82 190.39 L400.82 190.53 L401.58 190.53 L401.58 190.67 L402.34 190.67 L402.34 190.81 L403.1 190.81 L403.1 190.95 L403.85 190.95 L403.85 191.08 L404.6 191.08 L404.6 191.22 L405.35 191.22 L405.35 191.35 L406.1 191.35 L406.1 191.48 L406.85 191.48 L406.85 191.62 L407.6 191.62 L407.6 191.75 L408.35 191.75 L408.35 191.83 L409.1 191.83 L409.1 191.92 L409.85 191.92 L409.85 192 L410.6 192 L410.6 192.08 L411.35 192.08 L411.35 192.17 L412.1 192.17 L412.1 192.25 L412.87 192.25 L412.87 192.37 L413.63 192.37 L413.63 192.48 L414.4 192.48 L414.4 192.6 L415.17 192.6 L415.17 192.72 L415.93 192.72 L415.93 192.83 L416.7 192.83 L416.7 192.95 L417.46 192.95 L417.46 193.03 L418.21 193.03 L418.21 193.11 L418.97 193.11 L418.97 193.18 L419.72 193.18 L419.72 193.26 L420.48 193.26 L420.48 193.34 L421.23 193.34 L421.23 193.42 L421.99 193.42 L421.99 193.49 L422.74 193.49 L422.74 193.57 L423.5 193.57 L423.5 193.65 L425.7 193.65 L425.7 194.15 L498.5 194.15" fill="none" stroke="#b8294d" stroke-width="1.2" stroke-linejoin="round" />
<path d="M405.52 190.3v1.5M408.41 190.78v1.5M411.03 191.03v1.5M411.49 191.12v1.5M411.52 191.12v1.5M412.29 191.2v1.5M413.85 191.43v1.5M419.77 192.21v1.5M421.49 192.37v1.5M424.01 192.6v1.5M426.72 193.1v1.5M429.71 193.1v1.5M434.68 193.1v1.5M440.72 193.1v1.5M444.94 193.1v1.5M445.39 193.1v1.5M445.93 193.1v1.5M447.09 193.1v1.5M449.21 193.1v1.5M450.62 193.1v1.5M455.97 193.1v1.5M460.98 193.1v1.5M462.04 193.1v1.5M464.22 193.1v1.5M464.76 193.1v1.5M467.29 193.1v1.5M470.05 193.1v1.5M473.23 193.1v1.5M480.38 193.1v1.5M488 193.1v1.5M491.38 193.1v1.5M494.13 193.1v1.5M498.2 193.1v1.5" stroke="#b8294d" stroke-width="0.5" fill="none"/>
<path d="M389.2 159.85 L389.45 159.85 L389.45 161.35 L389.7 161.35 L389.7 162.85 L389.95 162.85 L389.95 164.35 L390.2 164.35 L390.2 165.85 L390.45 165.85 L390.45 167.35 L390.7 167.35 L390.7 168.85 L390.84 168.85 L390.84 170.35 L390.98 170.35 L390.98 171.85 L391.11 171.85 L391.11 173.35 L391.25 173.35 L391.25 174.85 L391.39 174.85 L391.39 176.35 L391.52 176.35 L391.52 177.85 L391.66 177.85 L391.66 179.35 L391.8 179.35 L391.8 180.85 L392.05 180.85 L392.05 182.37 L392.3 182.37 L392.3 183.88 L392.55 183.88 L392.55 185.4 L392.8 185.4 L392.8 186.92 L393.05 186.92 L393.05 188.43 L393.3 188.43 L393.3 189.95 L393.68 189.95 L393.68 191.45 L394.05 191.45 L394.05 192.95 L394.43 192.95 L394.43 194.45 L394.8 194.45 L394.8 195.95 L395.55 195.95 L395.55 197.85 L396.3 197.85 L396.3 199.75 L397.07 199.75 L397.07 200.62 L397.83 200.62 L397.83 201.48 L398.6 201.48 L398.6 202.35 L399.35 202.35 L399.35 202.57 L400.1 202.57 L400.1 202.8 L400.85 202.8 L400.85 203.03 L401.6 203.03 L401.6 203.25 L404.6 203.25 L405.35 203.25 L405.35 203.7 L406.1 203.7 L406.1 204.15 L406.85 204.15 L406.85 204.6 L407.6 204.6 L407.6 205.05 L408.35 205.05 L408.35 205.43 L409.1 205.43 L409.1 205.8 L409.85 205.8 L409.85 206.18 L410.6 206.18 L410.6 206.55 L411.37 206.55 L411.37 206.67 L412.13 206.67 L412.13 206.78 L412.9 206.78 L412.9 206.9 L413.67 206.9 L413.67 207.02 L414.43 207.02 L414.43 207.13 L415.2 207.13 L415.2 207.25 L424.2 207.25 L424.2 207.85 L426.5 207.85 L426.5 208.35 L444.6 208.35 L444.6 210.65 L492.5 210.65" fill="none" stroke="#3a5896" stroke-width="1.2" stroke-linejoin="round" />
<path d="M414.88 206.08v1.5M418.22 206.2v1.5M424.35 206.8v1.5M426.16 206.8v1.5M429.58 207.3v1.5M433.1 207.3v1.5M433.13 207.3v1.5M438.31 207.3v1.5M443.24 207.3v1.5M443.34 207.3v1.5M443.55 207.3v1.5M444.76 209.6v1.5M444.85 209.6v1.5M446.16 209.6v1.5M452.69 209.6v1.5M454.61 209.6v1.5M458.28 209.6v1.5M460.33 209.6v1.5M462.05 209.6v1.5M472.26 209.6v1.5M481.65 209.6v1.5M487.97 209.6v1.5M492.2 209.6v1.5" stroke="#3a5896" stroke-width="0.5" fill="none"/>
<rect x="449.25" y="164.25" width="6.3" height="1.25" fill="#b8294d"/>
<rect x="449.25" y="178.55" width="6.3" height="1.25" fill="#3a5896"/>
<text x="6.9" y="282.85" font-size="11.5" font-weight="bold" fill="#000" filter="url(#nf)">G</text>
<line x1="34.1" y1="364.2" x2="35.4" y2="364.2" stroke="#303030" stroke-width="0.7"/>
<line x1="34.1" y1="346.32" x2="35.4" y2="346.32" stroke="#303030" stroke-width="0.7"/>
<line x1="34.1" y1="328.45" x2="35.4" y2="328.45" stroke="#303030" stroke-width="0.7"/>
<line x1="34.1" y1="310.57" x2="35.4" y2="310.57" stroke="#303030" stroke-width="0.7"/>
<line x1="34.1" y1="292.7" x2="35.4" y2="292.7" stroke="#303030" stroke-width="0.7"/>
<path d="M35.4 289 V367.9 H165.6" fill="none" stroke="#303030" stroke-width="1.05"/>
<line x1="41.5" y1="367.9" x2="41.5" y2="369.3" stroke="#303030" stroke-width="0.7"/>
<line x1="46.23" y1="367.9" x2="46.23" y2="369.3" stroke="#303030" stroke-width="0.7"/>
<line x1="50.96" y1="367.9" x2="50.96" y2="369.3" stroke="#303030" stroke-width="0.7"/>
<line x1="55.69" y1="367.9" x2="55.69" y2="369.3" stroke="#303030" stroke-width="0.7"/>
<line x1="60.42" y1="367.9" x2="60.42" y2="369.3" stroke="#303030" stroke-width="0.7"/>
<line x1="65.15" y1="367.9" x2="65.15" y2="369.3" stroke="#303030" stroke-width="0.7"/>
<line x1="69.88" y1="367.9" x2="69.88" y2="369.3" stroke="#303030" stroke-width="0.7"/>
<line x1="74.61" y1="367.9" x2="74.61" y2="369.3" stroke="#303030" stroke-width="0.7"/>
<line x1="79.34" y1="367.9" x2="79.34" y2="369.3" stroke="#303030" stroke-width="0.7"/>
<line x1="84.07" y1="367.9" x2="84.07" y2="369.3" stroke="#303030" stroke-width="0.7"/>
<line x1="88.8" y1="367.9" x2="88.8" y2="369.3" stroke="#303030" stroke-width="0.7"/>
<line x1="93.53" y1="367.9" x2="93.53" y2="369.3" stroke="#303030" stroke-width="0.7"/>
<line x1="98.26" y1="367.9" x2="98.26" y2="369.3" stroke="#303030" stroke-width="0.7"/>
<line x1="102.99" y1="367.9" x2="102.99" y2="369.3" stroke="#303030" stroke-width="0.7"/>
<line x1="107.72" y1="367.9" x2="107.72" y2="369.3" stroke="#303030" stroke-width="0.7"/>
<line x1="112.45" y1="367.9" x2="112.45" y2="369.3" stroke="#303030" stroke-width="0.7"/>
<line x1="117.18" y1="367.9" x2="117.18" y2="369.3" stroke="#303030" stroke-width="0.7"/>
<line x1="121.91" y1="367.9" x2="121.91" y2="369.3" stroke="#303030" stroke-width="0.7"/>
<line x1="126.64" y1="367.9" x2="126.64" y2="369.3" stroke="#303030" stroke-width="0.7"/>
<line x1="131.37" y1="367.9" x2="131.37" y2="369.3" stroke="#303030" stroke-width="0.7"/>
<line x1="136.1" y1="367.9" x2="136.1" y2="369.3" stroke="#303030" stroke-width="0.7"/>
<line x1="140.83" y1="367.9" x2="140.83" y2="369.3" stroke="#303030" stroke-width="0.7"/>
<line x1="145.56" y1="367.9" x2="145.56" y2="369.3" stroke="#303030" stroke-width="0.7"/>
<line x1="150.29" y1="367.9" x2="150.29" y2="369.3" stroke="#303030" stroke-width="0.7"/>
<line x1="155.02" y1="367.9" x2="155.02" y2="369.3" stroke="#303030" stroke-width="0.7"/>
<line x1="159.75" y1="367.9" x2="159.75" y2="369.3" stroke="#303030" stroke-width="0.7"/>
<rect x="29.6" y="386.35" width="6.6" height="1.5" fill="#b8294d" fill-opacity="0.75"/>
<rect x="29.6" y="388.95" width="6.6" height="1.5" fill="#3a5896" fill-opacity="0.75"/>
<line x1="41.7" y1="328.55" x2="97.3" y2="328.55" stroke="#444" stroke-width="0.75" stroke-dasharray="0.8 1.4"/>
<line x1="46.3" y1="330.05" x2="46.3" y2="363.4" stroke="#444" stroke-width="0.75" stroke-dasharray="0.8 1.8"/>
<line x1="97.3" y1="330.05" x2="97.3" y2="363.4" stroke="#444" stroke-width="0.75" stroke-dasharray="0.8 1.8"/>
<path d="M41.6 293.05 L41.98 293.05 L41.98 294.68 L42.35 294.68 L42.35 296.3 L42.73 296.3 L42.73 297.93 L43.1 297.93 L43.1 299.55 L43.44 299.55 L43.44 301.15 L43.78 301.15 L43.78 302.75 L44.12 302.75 L44.12 304.35 L44.46 304.35 L44.46 305.95 L44.8 305.95 L44.8 307.55 L45.2 307.55 L45.2 309.35 L45.6 309.35 L45.6 311.15 L46 311.15 L46 312.95 L46.4 312.95 L46.4 314.75 L46.93 314.75 L46.93 316.38 L47.47 316.38 L47.47 318.02 L48 318.02 L48 319.65 L48.7 319.65 L48.7 320.45 L49.4 320.45 L49.4 321.25 L50.1 321.25 L50.1 322.05 L50.9 322.05 L50.9 322.31 L51.7 322.31 L51.7 322.57 L52.5 322.57 L52.5 322.83 L53.3 322.83 L53.3 323.09 L54.1 323.09 L54.1 323.35 L54.9 323.35 L54.9 323.4 L55.7 323.4 L55.7 323.45 L56.5 323.45 L56.5 323.5 L57.3 323.5 L57.3 323.55 L58.1 323.55 L58.1 323.6 L58.9 323.6 L58.9 323.65 L59.7 323.65 L59.7 323.97 L60.5 323.97 L60.5 324.3 L61.3 324.3 L61.3 324.62 L62.1 324.62 L62.1 324.95 L62.92 324.95 L62.92 325.08 L63.73 325.08 L63.73 325.22 L64.55 325.22 L64.55 325.35 L65.37 325.35 L65.37 325.48 L66.18 325.48 L66.18 325.62 L67 325.62 L67 325.75 L67.8 325.75 L67.8 325.93 L68.6 325.93 L68.6 326.12 L69.4 326.12 L69.4 326.3 L70.2 326.3 L70.2 326.48 L71 326.48 L71 326.67 L71.8 326.67 L71.8 326.85 L72.6 326.85 L72.6 326.9 L73.4 326.9 L73.4 326.95 L74.2 326.95 L74.2 327 L75 327 L75 327.05 L75.8 327.05 L75.8 327.1 L76.6 327.1 L76.6 327.15 L77.4 327.15 L77.4 327.17 L78.2 327.17 L78.2 327.2 L79 327.2 L79 327.23 L79.8 327.23 L79.8 327.25 L80.6 327.25 L80.6 327.27 L81.4 327.27 L81.4 327.3 L82.2 327.3 L82.2 327.33 L83 327.33 L83 327.35 L83.81 327.35 L83.81 327.38 L84.62 327.38 L84.62 327.41 L85.43 327.41 L85.43 327.44 L86.24 327.44 L86.24 327.47 L87.05 327.47 L87.05 327.5 L87.86 327.5 L87.86 327.53 L88.67 327.53 L88.67 327.56 L89.48 327.56 L89.48 327.59 L90.29 327.59 L90.29 327.62 L91.1 327.62 L91.1 327.65 L91.9 327.65 L91.9 327.73 L92.7 327.73 L92.7 327.82 L93.5 327.82 L93.5 327.9 L94.3 327.9 L94.3 327.98 L95.1 327.98 L95.1 328.07 L95.9 328.07 L95.9 328.15 L97.3 328.15 L97.3 328.75 L151 328.75" fill="none" stroke="#b8294d" stroke-width="1.2" stroke-linejoin="round" />
<path d="M53.61 322.04v1.5M61.74 323.57v1.5M65.53 324.43v1.5M69.01 325.07v1.5M71.22 325.62v1.5M72.85 325.85v1.5M74.53 325.95v1.5M79.05 326.18v1.5M83.25 326.3v1.5M83.37 326.3v1.5M85.46 326.39v1.5M85.58 326.39v1.5M96.41 327.1v1.5M99.57 327.7v1.5M101.11 327.7v1.5M102.94 327.7v1.5M103.76 327.7v1.5M105.13 327.7v1.5M105.72 327.7v1.5M115.29 327.7v1.5M120.04 327.7v1.5M120.72 327.7v1.5M122.23 327.7v1.5M122.37 327.7v1.5M137.32 327.7v1.5M143.37 327.7v1.5M144.93 327.7v1.5M150.7 327.7v1.5" stroke="#b8294d" stroke-width="0.5" fill="none"/>
<path d="M41.6 293.05 L41.84 293.05 L41.84 294.67 L42.08 294.67 L42.08 296.29 L42.32 296.29 L42.32 297.91 L42.56 297.91 L42.56 299.53 L42.8 299.53 L42.8 301.15 L42.91 301.15 L42.91 302.75 L43.03 302.75 L43.03 304.35 L43.14 304.35 L43.14 305.95 L43.26 305.95 L43.26 307.55 L43.37 307.55 L43.37 309.15 L43.49 309.15 L43.49 310.75 L43.6 310.75 L43.6 312.35 L43.8 312.35 L43.8 313.97 L44 313.97 L44 315.58 L44.2 315.58 L44.2 317.2 L44.4 317.2 L44.4 318.82 L44.6 318.82 L44.6 320.43 L44.8 320.43 L44.8 322.05 L45.04 322.05 L45.04 323.65 L45.28 323.65 L45.28 325.25 L45.52 325.25 L45.52 326.85 L45.76 326.85 L45.76 328.45 L46 328.45 L46 330.05 L46.57 330.05 L46.57 331.65 L47.13 331.65 L47.13 333.25 L47.7 333.25 L47.7 334.85 L48.23 334.85 L48.23 336.22 L48.77 336.22 L48.77 337.58 L49.3 337.58 L49.3 338.95 L50.1 338.95 L50.1 340.28 L50.9 340.28 L50.9 341.62 L51.7 341.62 L51.7 342.95 L52.5 342.95 L52.5 343.38 L53.3 343.38 L53.3 343.82 L54.1 343.82 L54.1 344.25 L58.1 344.25 L58.9 344.25 L58.9 345.15 L59.7 345.15 L59.7 346.05 L60.5 346.05 L60.5 346.95 L78.2 346.95 L78.2 348.85 L109.9 348.85" fill="none" stroke="#3a5896" stroke-width="1.2" stroke-linejoin="round" />
<path d="M66.35 345.9v1.5M69.07 345.9v1.5M73.66 345.9v1.5M74.37 345.9v1.5M77.86 345.9v1.5M79.21 347.8v1.5M79.56 347.8v1.5M81.85 347.8v1.5M83.35 347.8v1.5M85.96 347.8v1.5M87.18 347.8v1.5M88.07 347.8v1.5M88.79 347.8v1.5M93.42 347.8v1.5M95.63 347.8v1.5M96.01 347.8v1.5M98.59 347.8v1.5M109.6 347.8v1.5" stroke="#3a5896" stroke-width="0.5" fill="none"/>
<rect x="101.45" y="298.45" width="6.3" height="1.25" fill="#b8294d"/>
<rect x="101.45" y="312.65" width="6.3" height="1.25" fill="#3a5896"/>
<text x="180.8" y="282.85" font-size="11.5" font-weight="bold" fill="#000" filter="url(#nf)">H</text>
<line x1="208" y1="364.2" x2="209.3" y2="364.2" stroke="#303030" stroke-width="0.7"/>
<line x1="208" y1="346.32" x2="209.3" y2="346.32" stroke="#303030" stroke-width="0.7"/>
<line x1="208" y1="328.45" x2="209.3" y2="328.45" stroke="#303030" stroke-width="0.7"/>
<line x1="208" y1="310.57" x2="209.3" y2="310.57" stroke="#303030" stroke-width="0.7"/>
<line x1="208" y1="292.7" x2="209.3" y2="292.7" stroke="#303030" stroke-width="0.7"/>
<path d="M209.3 289 V367.9 H339.5" fill="none" stroke="#303030" stroke-width="1.05"/>
<line x1="215.4" y1="367.9" x2="215.4" y2="369.3" stroke="#303030" stroke-width="0.7"/>
<line x1="220.13" y1="367.9" x2="220.13" y2="369.3" stroke="#303030" stroke-width="0.7"/>
<line x1="224.86" y1="367.9" x2="224.86" y2="369.3" stroke="#303030" stroke-width="0.7"/>
<line x1="229.59" y1="367.9" x2="229.59" y2="369.3" stroke="#303030" stroke-width="0.7"/>
<line x1="234.32" y1="367.9" x2="234.32" y2="369.3" stroke="#303030" stroke-width="0.7"/>
<line x1="239.05" y1="367.9" x2="239.05" y2="369.3" stroke="#303030" stroke-width="0.7"/>
<line x1="243.78" y1="367.9" x2="243.78" y2="369.3" stroke="#303030" stroke-width="0.7"/>
<line x1="248.51" y1="367.9" x2="248.51" y2="369.3" stroke="#303030" stroke-width="0.7"/>
<line x1="253.24" y1="367.9" x2="253.24" y2="369.3" stroke="#303030" stroke-width="0.7"/>
<line x1="257.97" y1="367.9" x2="257.97" y2="369.3" stroke="#303030" stroke-width="0.7"/>
<line x1="262.7" y1="367.9" x2="262.7" y2="369.3" stroke="#303030" stroke-width="0.7"/>
<line x1="267.43" y1="367.9" x2="267.43" y2="369.3" stroke="#303030" stroke-width="0.7"/>
<line x1="272.16" y1="367.9" x2="272.16" y2="369.3" stroke="#303030" stroke-width="0.7"/>
<line x1="276.89" y1="367.9" x2="276.89" y2="369.3" stroke="#303030" stroke-width="0.7"/>
<line x1="281.62" y1="367.9" x2="281.62" y2="369.3" stroke="#303030" stroke-width="0.7"/>
<line x1="286.35" y1="367.9" x2="286.35" y2="369.3" stroke="#303030" stroke-width="0.7"/>
<line x1="291.08" y1="367.9" x2="291.08" y2="369.3" stroke="#303030" stroke-width="0.7"/>
<line x1="295.81" y1="367.9" x2="295.81" y2="369.3" stroke="#303030" stroke-width="0.7"/>
<line x1="300.54" y1="367.9" x2="300.54" y2="369.3" stroke="#303030" stroke-width="0.7"/>
<line x1="305.27" y1="367.9" x2="305.27" y2="369.3" stroke="#303030" stroke-width="0.7"/>
<line x1="310" y1="367.9" x2="310" y2="369.3" stroke="#303030" stroke-width="0.7"/>
<line x1="314.73" y1="367.9" x2="314.73" y2="369.3" stroke="#303030" stroke-width="0.7"/>
<line x1="319.46" y1="367.9" x2="319.46" y2="369.3" stroke="#303030" stroke-width="0.7"/>
<line x1="324.19" y1="367.9" x2="324.19" y2="369.3" stroke="#303030" stroke-width="0.7"/>
<line x1="328.92" y1="367.9" x2="328.92" y2="369.3" stroke="#303030" stroke-width="0.7"/>
<line x1="333.65" y1="367.9" x2="333.65" y2="369.3" stroke="#303030" stroke-width="0.7"/>
<rect x="203.5" y="386.35" width="6.6" height="1.5" fill="#b8294d" fill-opacity="0.75"/>
<rect x="203.5" y="388.95" width="6.6" height="1.5" fill="#3a5896" fill-opacity="0.75"/>
<line x1="215.6" y1="328.55" x2="235.6" y2="328.55" stroke="#444" stroke-width="0.75" stroke-dasharray="0.8 1.4"/>
<line x1="235.6" y1="330.05" x2="235.6" y2="363.4" stroke="#444" stroke-width="0.75" stroke-dasharray="0.8 1.8"/>
<path d="M215.4 292.85 L217.4 292.85 L218.4 292.85 L218.4 294.65 L218.9 294.65 L218.9 296.35 L219.4 296.35 L219.4 298.05 L219.9 298.05 L219.9 299.75 L220.37 299.75 L220.37 301.42 L220.83 301.42 L220.83 303.08 L221.3 303.08 L221.3 304.75 L222.03 304.75 L222.03 305.92 L222.77 305.92 L222.77 307.08 L223.5 307.08 L223.5 308.25 L224.2 308.25 L224.2 309.15 L224.9 309.15 L224.9 310.05 L225.6 310.05 L225.6 310.95 L226.3 310.95 L226.3 311.85 L227.2 311.85 L227.2 312.23 L228.1 312.23 L228.1 312.6 L229 312.6 L229 312.98 L229.9 312.98 L229.9 313.35 L230.8 313.35 L230.8 313.7 L231.7 313.7 L231.7 314.05 L232.6 314.05 L232.6 314.4 L233.5 314.4 L233.5 314.75 L234.2 314.75 L234.2 315.12 L234.9 315.12 L234.9 315.48 L235.6 315.48 L235.6 315.85 L244.9 315.85 L245.62 315.85 L245.62 316.3 L246.35 316.3 L246.35 316.75 L247.08 316.75 L247.08 317.2 L247.8 317.2 L247.8 317.65 L248.66 317.65 L248.66 317.85 L249.52 317.85 L249.52 318.05 L250.38 318.05 L250.38 318.25 L251.24 318.25 L251.24 318.45 L252.1 318.45 L252.1 318.65 L252.91 318.65 L252.91 318.81 L253.73 318.81 L253.73 318.96 L254.54 318.96 L254.54 319.12 L255.36 319.12 L255.36 319.28 L256.17 319.28 L256.17 319.44 L256.99 319.44 L256.99 319.59 L257.8 319.59 L257.8 319.75 L258.66 319.75 L258.66 319.89 L259.52 319.89 L259.52 320.03 L260.38 320.03 L260.38 320.17 L261.24 320.17 L261.24 320.31 L262.1 320.31 L262.1 320.45 L262.96 320.45 L262.96 320.65 L263.82 320.65 L263.82 320.85 L264.68 320.85 L264.68 321.05 L265.54 321.05 L265.54 321.25 L266.4 321.25 L266.4 321.45 L268.5 321.45 L268.5 322.15 L325.6 322.15" fill="none" stroke="#b8294d" stroke-width="1.2" stroke-linejoin="round" />
<path d="M227.47 311.18v1.5M235.81 314.8v1.5M236.55 314.8v1.5M236.73 314.8v1.5M242.25 314.8v1.5M242.26 314.8v1.5M243.36 314.8v1.5M249.79 317v1.5M250.03 317v1.5M255.75 318.23v1.5M256.39 318.39v1.5M260.4 319.12v1.5M267.89 320.4v1.5M277.58 321.1v1.5M279.93 321.1v1.5M291.7 321.1v1.5M294.19 321.1v1.5M298.86 321.1v1.5M306.82 321.1v1.5M312.13 321.1v1.5M313.68 321.1v1.5M315.07 321.1v1.5M324.08 321.1v1.5M325.3 321.1v1.5" stroke="#b8294d" stroke-width="0.5" fill="none"/>
<path d="M215.4 292.85 L217.4 292.85 L217.9 292.85 L217.9 294.85 L218.4 294.85 L218.4 296.85 L218.7 296.85 L218.7 298.57 L219 298.57 L219 300.29 L219.3 300.29 L219.3 302.01 L219.6 302.01 L219.6 303.73 L219.9 303.73 L219.9 305.45 L220.25 305.45 L220.25 307.05 L220.6 307.05 L220.6 308.65 L220.95 308.65 L220.95 310.25 L221.3 310.25 L221.3 311.85 L221.85 311.85 L221.85 313.3 L222.4 313.3 L222.4 314.75 L222.95 314.75 L222.95 316.2 L223.5 316.2 L223.5 317.65 L224.2 317.65 L224.2 318.9 L224.9 318.9 L224.9 320.15 L225.6 320.15 L225.6 321.4 L226.3 321.4 L226.3 322.65 L227.2 322.65 L227.2 323.42 L228.1 323.42 L228.1 324.2 L229 324.2 L229 324.98 L229.9 324.98 L229.9 325.75 L230.8 325.75 L230.8 326.23 L231.7 326.23 L231.7 326.7 L232.6 326.7 L232.6 327.17 L233.5 327.17 L233.5 327.65 L234.2 327.65 L234.2 328.02 L234.9 328.02 L234.9 328.38 L235.6 328.38 L235.6 328.75 L239.9 328.75 L240.62 328.75 L240.62 329.38 L241.35 329.38 L241.35 330 L242.08 330 L242.08 330.62 L242.8 330.62 L242.8 331.25 L243.63 331.25 L243.63 331.43 L244.47 331.43 L244.47 331.62 L245.3 331.62 L245.3 331.8 L246.13 331.8 L246.13 331.98 L246.97 331.98 L246.97 332.17 L247.8 332.17 L247.8 332.35 L248.61 332.35 L248.61 332.54 L249.43 332.54 L249.43 332.72 L250.24 332.72 L250.24 332.91 L251.06 332.91 L251.06 333.09 L251.87 333.09 L251.87 333.28 L252.69 333.28 L252.69 333.46 L253.5 333.46 L253.5 333.65 L270.6 333.65 L270.6 336.05 L319.2 336.05" fill="none" stroke="#3a5896" stroke-width="1.2" stroke-linejoin="round" />
<path d="M231.78 325.65v1.5M236.38 327.7v1.5M236.76 327.7v1.5M249.78 331.67v1.5M250.57 331.86v1.5M252.91 332.41v1.5M253.89 332.6v1.5M258.16 332.6v1.5M259.93 332.6v1.5M265.05 332.6v1.5M273.19 335v1.5M277.71 335v1.5M278.09 335v1.5M279.42 335v1.5M282.01 335v1.5M282.83 335v1.5M283.93 335v1.5M288.36 335v1.5M289.51 335v1.5M292.27 335v1.5M294.53 335v1.5M294.58 335v1.5M296.75 335v1.5M296.78 335v1.5M301.93 335v1.5M305.85 335v1.5M318.9 335v1.5" stroke="#3a5896" stroke-width="0.5" fill="none"/>
<rect x="275.35" y="295.05" width="6.3" height="1.25" fill="#b8294d"/>
<rect x="275.35" y="309.35" width="6.3" height="1.25" fill="#3a5896"/>
<text x="354.7" y="282.85" font-size="11.5" font-weight="bold" fill="#000" filter="url(#nf)">I</text>
<line x1="381.9" y1="364.2" x2="383.2" y2="364.2" stroke="#303030" stroke-width="0.7"/>
<line x1="381.9" y1="346.32" x2="383.2" y2="346.32" stroke="#303030" stroke-width="0.7"/>
<line x1="381.9" y1="328.45" x2="383.2" y2="328.45" stroke="#303030" stroke-width="0.7"/>
<line x1="381.9" y1="310.57" x2="383.2" y2="310.57" stroke="#303030" stroke-width="0.7"/>
<line x1="381.9" y1="292.7" x2="383.2" y2="292.7" stroke="#303030" stroke-width="0.7"/>
<path d="M383.2 289 V367.9 H513.4" fill="none" stroke="#303030" stroke-width="1.05"/>
<line x1="389.3" y1="367.9" x2="389.3" y2="369.3" stroke="#303030" stroke-width="0.7"/>
<line x1="394.03" y1="367.9" x2="394.03" y2="369.3" stroke="#303030" stroke-width="0.7"/>
<line x1="398.76" y1="367.9" x2="398.76" y2="369.3" stroke="#303030" stroke-width="0.7"/>
<line x1="403.49" y1="367.9" x2="403.49" y2="369.3" stroke="#303030" stroke-width="0.7"/>
<line x1="408.22" y1="367.9" x2="408.22" y2="369.3" stroke="#303030" stroke-width="0.7"/>
<line x1="412.95" y1="367.9" x2="412.95" y2="369.3" stroke="#303030" stroke-width="0.7"/>
<line x1="417.68" y1="367.9" x2="417.68" y2="369.3" stroke="#303030" stroke-width="0.7"/>
<line x1="422.41" y1="367.9" x2="422.41" y2="369.3" stroke="#303030" stroke-width="0.7"/>
<line x1="427.14" y1="367.9" x2="427.14" y2="369.3" stroke="#303030" stroke-width="0.7"/>
<line x1="431.87" y1="367.9" x2="431.87" y2="369.3" stroke="#303030" stroke-width="0.7"/>
<line x1="436.6" y1="367.9" x2="436.6" y2="369.3" stroke="#303030" stroke-width="0.7"/>
<line x1="441.33" y1="367.9" x2="441.33" y2="369.3" stroke="#303030" stroke-width="0.7"/>
<line x1="446.06" y1="367.9" x2="446.06" y2="369.3" stroke="#303030" stroke-width="0.7"/>
<line x1="450.79" y1="367.9" x2="450.79" y2="369.3" stroke="#303030" stroke-width="0.7"/>
<line x1="455.52" y1="367.9" x2="455.52" y2="369.3" stroke="#303030" stroke-width="0.7"/>
<line x1="460.25" y1="367.9" x2="460.25" y2="369.3" stroke="#303030" stroke-width="0.7"/>
<line x1="464.98" y1="367.9" x2="464.98" y2="369.3" stroke="#303030" stroke-width="0.7"/>
<line x1="469.71" y1="367.9" x2="469.71" y2="369.3" stroke="#303030" stroke-width="0.7"/>
<line x1="474.44" y1="367.9" x2="474.44" y2="369.3" stroke="#303030" stroke-width="0.7"/>
<line x1="479.17" y1="367.9" x2="479.17" y2="369.3" stroke="#303030" stroke-width="0.7"/>
<line x1="483.9" y1="367.9" x2="483.9" y2="369.3" stroke="#303030" stroke-width="0.7"/>
<line x1="488.63" y1="367.9" x2="488.63" y2="369.3" stroke="#303030" stroke-width="0.7"/>
<line x1="493.36" y1="367.9" x2="493.36" y2="369.3" stroke="#303030" stroke-width="0.7"/>
<line x1="498.09" y1="367.9" x2="498.09" y2="369.3" stroke="#303030" stroke-width="0.7"/>
<line x1="502.82" y1="367.9" x2="502.82" y2="369.3" stroke="#303030" stroke-width="0.7"/>
<line x1="507.55" y1="367.9" x2="507.55" y2="369.3" stroke="#303030" stroke-width="0.7"/>
<rect x="377.4" y="386.35" width="6.6" height="1.5" fill="#b8294d" fill-opacity="0.75"/>
<rect x="377.4" y="388.95" width="6.6" height="1.5" fill="#3a5896" fill-opacity="0.75"/>
<line x1="389.5" y1="328.55" x2="403.5" y2="328.55" stroke="#444" stroke-width="0.75" stroke-dasharray="0.8 1.4"/>
<line x1="403.5" y1="330.05" x2="403.5" y2="363.4" stroke="#444" stroke-width="0.75" stroke-dasharray="0.8 1.8"/>
<path d="M389.4 293.15 L391.5 293.15 L392 293.15 L392 294.72 L392.5 294.72 L392.5 296.28 L393 296.28 L393 297.85 L393.53 297.85 L393.53 299.65 L394.07 299.65 L394.07 301.45 L394.6 301.45 L394.6 303.25 L395.37 303.25 L395.37 305.08 L396.13 305.08 L396.13 306.92 L396.9 306.92 L396.9 308.75 L397.67 308.75 L397.67 309.73 L398.45 309.73 L398.45 310.7 L399.23 310.7 L399.23 311.67 L400 311.67 L400 312.65 L400.77 312.65 L400.77 312.9 L401.55 312.9 L401.55 313.15 L402.33 313.15 L402.33 313.4 L403.1 313.4 L403.1 313.65 L403.88 313.65 L403.88 314 L404.67 314 L404.67 314.35 L405.45 314.35 L405.45 314.7 L406.23 314.7 L406.23 315.05 L407.02 315.05 L407.02 315.4 L407.8 315.4 L407.8 315.75 L408.57 315.75 L408.57 315.89 L409.35 315.89 L409.35 316.02 L410.12 316.02 L410.12 316.16 L410.9 316.16 L410.9 316.3 L411.68 316.3 L411.68 316.44 L412.45 316.44 L412.45 316.57 L413.23 316.57 L413.23 316.71 L414 316.71 L414 316.85 L414.78 316.85 L414.78 317.18 L415.57 317.18 L415.57 317.52 L416.35 317.52 L416.35 317.85 L417.13 317.85 L417.13 318.18 L417.92 318.18 L417.92 318.52 L418.7 318.52 L418.7 318.85 L419.48 318.85 L419.48 319.12 L420.27 319.12 L420.27 319.38 L421.05 319.38 L421.05 319.65 L421.83 319.65 L421.83 319.92 L422.62 319.92 L422.62 320.18 L423.4 320.18 L423.4 320.45 L424.17 320.45 L424.17 320.54 L424.95 320.54 L424.95 320.62 L425.73 320.62 L425.73 320.71 L426.5 320.71 L426.5 320.8 L427.27 320.8 L427.27 320.89 L428.05 320.89 L428.05 320.97 L428.83 320.97 L428.83 321.06 L429.6 321.06 L429.6 321.15 L430.39 321.15 L430.39 321.25 L431.18 321.25 L431.18 321.35 L431.96 321.35 L431.96 321.45 L432.75 321.45 L432.75 321.55 L433.54 321.55 L433.54 321.65 L434.32 321.65 L434.32 321.75 L435.11 321.75 L435.11 321.85 L435.9 321.85 L435.9 321.95 L440.5 321.95 L440.5 322.85 L499.2 322.85" fill="none" stroke="#b8294d" stroke-width="1.2" stroke-linejoin="round" />
<path d="M410.49 315.11v1.5M411.01 315.25v1.5M414.47 315.8v1.5M415.6 316.47v1.5M416 316.47v1.5M422.66 319.13v1.5M426.11 319.66v1.5M429.04 320.01v1.5M432.33 320.4v1.5M437.29 320.9v1.5M440.54 321.8v1.5M448.29 321.8v1.5M455.89 321.8v1.5M456.57 321.8v1.5M463.08 321.8v1.5M464.06 321.8v1.5M468 321.8v1.5M469.14 321.8v1.5M469.64 321.8v1.5M469.95 321.8v1.5M475.78 321.8v1.5M480.59 321.8v1.5M486.2 321.8v1.5M489.12 321.8v1.5M498.9 321.8v1.5" stroke="#b8294d" stroke-width="0.5" fill="none"/>
<path d="M389.4 293.15 L391.5 293.15 L391.85 293.15 L391.85 294.7 L392.2 294.7 L392.2 296.25 L392.47 296.25 L392.47 297.8 L392.73 297.8 L392.73 299.35 L393 299.35 L393 300.9 L393.27 300.9 L393.27 302.45 L393.53 302.45 L393.53 304 L393.8 304 L393.8 305.55 L394.07 305.55 L394.07 307.12 L394.33 307.12 L394.33 308.68 L394.6 308.68 L394.6 310.25 L394.87 310.25 L394.87 311.82 L395.13 311.82 L395.13 313.38 L395.4 313.38 L395.4 314.95 L396 314.95 L396 316.78 L396.6 316.78 L396.6 318.62 L397.2 318.62 L397.2 320.45 L397.9 320.45 L397.9 321.8 L398.6 321.8 L398.6 323.15 L399.3 323.15 L399.3 324.5 L400 324.5 L400 325.85 L400.8 325.85 L400.8 326.78 L401.6 326.78 L401.6 327.72 L402.4 327.72 L402.4 328.65 L403.17 328.65 L403.17 329.55 L403.93 329.55 L403.93 330.45 L404.7 330.45 L404.7 331.35 L405.47 331.35 L405.47 332.12 L406.23 332.12 L406.23 332.88 L407 332.88 L407 333.65 L407.8 333.65 L407.8 334.18 L408.6 334.18 L408.6 334.72 L409.4 334.72 L409.4 335.25 L423.4 335.25 L423.4 336.75 L427.3 336.75 L427.3 338.65 L444.4 338.65 L444.4 345.05 L457.6 345.05" fill="none" stroke="#3a5896" stroke-width="1.2" stroke-linejoin="round" />
<path d="M404.72 330.3v1.5M409.61 334.2v1.5M410.42 334.2v1.5M418.6 334.2v1.5M419.47 334.2v1.5M422.53 334.2v1.5M422.58 334.2v1.5M424.59 335.7v1.5M429.81 337.6v1.5M434.49 337.6v1.5M435.5 337.6v1.5M436.66 337.6v1.5M440.5 337.6v1.5M443.17 337.6v1.5M444.51 344v1.5M449.89 344v1.5M450.71 344v1.5M456.08 344v1.5M457.3 344v1.5" stroke="#3a5896" stroke-width="0.5" fill="none"/>
<rect x="449.15" y="295.75" width="6.3" height="1.25" fill="#b8294d"/>
<rect x="449.15" y="310.45" width="6.3" height="1.25" fill="#3a5896"/>
<g filter="url(#tb)" fill="#111" stroke="#000" stroke-width="0.05"><text x="0" y="0" font-size="4.0" text-anchor="middle" fill="#2a2a2a" stroke-width="0.22" textLength="51.4" lengthAdjust="spacingAndGlyphs" transform="translate(21.8 63) rotate(-90)">Cumulative incidence of relapse</text>
<text x="32.3" y="99.4" font-size="3.5" text-anchor="end" fill="#000" stroke-width="0.12" textLength="6.7" lengthAdjust="spacingAndGlyphs">0.00</text>
<text x="32.3" y="81.53" font-size="3.5" text-anchor="end" fill="#000" stroke-width="0.12" textLength="6.7" lengthAdjust="spacingAndGlyphs">0.25</text>
<text x="32.3" y="63.65" font-size="3.5" text-anchor="end" fill="#000" stroke-width="0.12" textLength="6.7" lengthAdjust="spacingAndGlyphs">0.50</text>
<text x="32.3" y="45.78" font-size="3.5" text-anchor="end" fill="#000" stroke-width="0.12" textLength="6.7" lengthAdjust="spacingAndGlyphs">0.75</text>
<text x="32.3" y="27.9" font-size="3.5" text-anchor="end" fill="#000" stroke-width="0.12" textLength="6.7" lengthAdjust="spacingAndGlyphs">1.00</text>
<text x="41.5" y="108.15" font-size="3.1" text-anchor="middle" fill="#000" stroke-width="0.08">0</text>
<text x="46.23" y="108.15" font-size="3.1" text-anchor="middle" fill="#000" stroke-width="0.08">1</text>
<text x="50.96" y="108.15" font-size="3.1" text-anchor="middle" fill="#000" stroke-width="0.08">2</text>
<text x="55.69" y="108.15" font-size="3.1" text-anchor="middle" fill="#000" stroke-width="0.08">3</text>
<text x="60.42" y="108.15" font-size="3.1" text-anchor="middle" fill="#000" stroke-width="0.08">4</text>
<text x="65.15" y="108.15" font-size="3.1" text-anchor="middle" fill="#000" stroke-width="0.08">5</text>
<text x="69.88" y="108.15" font-size="3.1" text-anchor="middle" fill="#000" stroke-width="0.08">6</text>
<text x="74.61" y="108.15" font-size="3.1" text-anchor="middle" fill="#000" stroke-width="0.08">7</text>
<text x="79.34" y="108.15" font-size="3.1" text-anchor="middle" fill="#000" stroke-width="0.08">8</text>
<text x="84.07" y="108.15" font-size="3.1" text-anchor="middle" fill="#000" stroke-width="0.08">9</text>
<text x="88.8" y="108.15" font-size="3.1" text-anchor="middle" fill="#000" stroke-width="0.08">10</text>
<text x="93.53" y="108.15" font-size="3.1" text-anchor="middle" fill="#000" stroke-width="0.08">11</text>
<text x="98.26" y="108.15" font-size="3.1" text-anchor="middle" fill="#000" stroke-width="0.08">12</text>
<text x="102.99" y="108.15" font-size="3.1" text-anchor="middle" fill="#000" stroke-width="0.08">13</text>
<text x="107.72" y="108.15" font-size="3.1" text-anchor="middle" fill="#000" stroke-width="0.08">14</text>
<text x="112.45" y="108.15" font-size="3.1" text-anchor="middle" fill="#000" stroke-width="0.08">15</text>
<text x="117.18" y="108.15" font-size="3.1" text-anchor="middle" fill="#000" stroke-width="0.08">16</text>
<text x="121.91" y="108.15" font-size="3.1" text-anchor="middle" fill="#000" stroke-width="0.08">17</text>
<text x="126.64" y="108.15" font-size="3.1" text-anchor="middle" fill="#000" stroke-width="0.08">18</text>
<text x="131.37" y="108.15" font-size="3.1" text-anchor="middle" fill="#000" stroke-width="0.08">19</text>
<text x="136.1" y="108.15" font-size="3.1" text-anchor="middle" fill="#000" stroke-width="0.08">20</text>
<text x="140.83" y="108.15" font-size="3.1" text-anchor="middle" fill="#000" stroke-width="0.08">21</text>
<text x="145.56" y="108.15" font-size="3.1" text-anchor="middle" fill="#000" stroke-width="0.08">22</text>
<text x="150.29" y="108.15" font-size="3.1" text-anchor="middle" fill="#000" stroke-width="0.08">23</text>
<text x="155.02" y="108.15" font-size="3.1" text-anchor="middle" fill="#000" stroke-width="0.08">24</text>
<text x="159.75" y="108.15" font-size="3.1" text-anchor="middle" fill="#000" stroke-width="0.08">25</text>
<text x="100.5" y="114.7" font-size="5.0" text-anchor="middle" fill="#000" stroke-width="0.24" textLength="9.1" lengthAdjust="spacingAndGlyphs">Years</text>
<text x="26.1" y="115.9" font-size="2.9" fill="#666" stroke="#666" textLength="12.0" lengthAdjust="spacingAndGlyphs">No. at risk</text>
<text x="41.5" y="121.95" font-size="2.3" text-anchor="middle" fill="#7a7a7a" stroke="#7a7a7a" stroke-width="0.05">147</text>
<text x="46.23" y="121.95" font-size="2.3" text-anchor="middle" fill="#7a7a7a" stroke="#7a7a7a" stroke-width="0.05">133</text>
<text x="50.96" y="121.95" font-size="2.3" text-anchor="middle" fill="#7a7a7a" stroke="#7a7a7a" stroke-width="0.05">95</text>
<text x="55.69" y="121.95" font-size="2.3" text-anchor="middle" fill="#7a7a7a" stroke="#7a7a7a" stroke-width="0.05">79</text>
<text x="60.42" y="121.95" font-size="2.3" text-anchor="middle" fill="#7a7a7a" stroke="#7a7a7a" stroke-width="0.05">71</text>
<text x="65.15" y="121.95" font-size="2.3" text-anchor="middle" fill="#7a7a7a" stroke="#7a7a7a" stroke-width="0.05">66</text>
<text x="69.88" y="121.95" font-size="2.3" text-anchor="middle" fill="#7a7a7a" stroke="#7a7a7a" stroke-width="0.05">63</text>
<text x="74.61" y="121.95" font-size="2.3" text-anchor="middle" fill="#7a7a7a" stroke="#7a7a7a" stroke-width="0.05">61</text>
<text x="79.34" y="121.95" font-size="2.3" text-anchor="middle" fill="#7a7a7a" stroke="#7a7a7a" stroke-width="0.05">58</text>
<text x="84.07" y="121.95" font-size="2.3" text-anchor="middle" fill="#7a7a7a" stroke="#7a7a7a" stroke-width="0.05">56</text>
<text x="88.8" y="121.95" font-size="2.3" text-anchor="middle" fill="#7a7a7a" stroke="#7a7a7a" stroke-width="0.05">55</text>
<text x="93.53" y="121.95" font-size="2.3" text-anchor="middle" fill="#7a7a7a" stroke="#7a7a7a" stroke-width="0.05">51</text>
<text x="98.26" y="121.95" font-size="2.3" text-anchor="middle" fill="#7a7a7a" stroke="#7a7a7a" stroke-width="0.05">34</text>
<text x="102.99" y="121.95" font-size="2.3" text-anchor="middle" fill="#7a7a7a" stroke="#7a7a7a" stroke-width="0.05">28</text>
<text x="107.72" y="121.95" font-size="2.3" text-anchor="middle" fill="#7a7a7a" stroke="#7a7a7a" stroke-width="0.05">23</text>
<text x="112.45" y="121.95" font-size="2.3" text-anchor="middle" fill="#7a7a7a" stroke="#7a7a7a" stroke-width="0.05">19</text>
<text x="117.18" y="121.95" font-size="2.3" text-anchor="middle" fill="#7a7a7a" stroke="#7a7a7a" stroke-width="0.05">13</text>
<text x="121.91" y="121.95" font-size="2.3" text-anchor="middle" fill="#7a7a7a" stroke="#7a7a7a" stroke-width="0.05">8</text>
<text x="126.64" y="121.95" font-size="2.3" text-anchor="middle" fill="#7a7a7a" stroke="#7a7a7a" stroke-width="0.05">8</text>
<text x="131.37" y="121.95" font-size="2.3" text-anchor="middle" fill="#7a7a7a" stroke="#7a7a7a" stroke-width="0.05">6</text>
<text x="136.1" y="121.95" font-size="2.3" text-anchor="middle" fill="#7a7a7a" stroke="#7a7a7a" stroke-width="0.05">5</text>
<text x="140.83" y="121.95" font-size="2.3" text-anchor="middle" fill="#7a7a7a" stroke="#7a7a7a" stroke-width="0.05">3</text>
<text x="145.56" y="121.95" font-size="2.3" text-anchor="middle" fill="#7a7a7a" stroke="#7a7a7a" stroke-width="0.05">3</text>
<text x="150.29" y="121.95" font-size="2.3" text-anchor="middle" fill="#7a7a7a" stroke="#7a7a7a" stroke-width="0.05">2</text>
<text x="155.02" y="121.95" font-size="2.3" text-anchor="middle" fill="#7a7a7a" stroke="#7a7a7a" stroke-width="0.05">1</text>
<text x="159.75" y="121.95" font-size="2.3" text-anchor="middle" fill="#7a7a7a" stroke="#7a7a7a" stroke-width="0.05">0</text>
<text x="41.5" y="124.55" font-size="2.3" text-anchor="middle" fill="#7a7a7a" stroke="#7a7a7a" stroke-width="0.05">144</text>
<text x="46.23" y="124.55" font-size="2.3" text-anchor="middle" fill="#7a7a7a" stroke="#7a7a7a" stroke-width="0.05">60</text>
<text x="50.96" y="124.55" font-size="2.3" text-anchor="middle" fill="#7a7a7a" stroke="#7a7a7a" stroke-width="0.05">45</text>
<text x="55.69" y="124.55" font-size="2.3" text-anchor="middle" fill="#7a7a7a" stroke="#7a7a7a" stroke-width="0.05">42</text>
<text x="60.42" y="124.55" font-size="2.3" text-anchor="middle" fill="#7a7a7a" stroke="#7a7a7a" stroke-width="0.05">41</text>
<text x="65.15" y="124.55" font-size="2.3" text-anchor="middle" fill="#7a7a7a" stroke="#7a7a7a" stroke-width="0.05">38</text>
<text x="69.88" y="124.55" font-size="2.3" text-anchor="middle" fill="#7a7a7a" stroke="#7a7a7a" stroke-width="0.05">34</text>
<text x="74.61" y="124.55" font-size="2.3" text-anchor="middle" fill="#7a7a7a" stroke="#7a7a7a" stroke-width="0.05">33</text>
<text x="79.34" y="124.55" font-size="2.3" text-anchor="middle" fill="#7a7a7a" stroke="#7a7a7a" stroke-width="0.05">30</text>
<text x="84.07" y="124.55" font-size="2.3" text-anchor="middle" fill="#7a7a7a" stroke="#7a7a7a" stroke-width="0.05">28</text>
<text x="88.8" y="124.55" font-size="2.3" text-anchor="middle" fill="#7a7a7a" stroke="#7a7a7a" stroke-width="0.05">25</text>
<text x="93.53" y="124.55" font-size="2.3" text-anchor="middle" fill="#7a7a7a" stroke="#7a7a7a" stroke-width="0.05">22</text>
<text x="98.26" y="124.55" font-size="2.3" text-anchor="middle" fill="#7a7a7a" stroke="#7a7a7a" stroke-width="0.05">14</text>
<text x="102.99" y="124.55" font-size="2.3" text-anchor="middle" fill="#7a7a7a" stroke="#7a7a7a" stroke-width="0.05">9</text>
<text x="107.72" y="124.55" font-size="2.3" text-anchor="middle" fill="#7a7a7a" stroke="#7a7a7a" stroke-width="0.05">8</text>
<text x="112.45" y="124.55" font-size="2.3" text-anchor="middle" fill="#7a7a7a" stroke="#7a7a7a" stroke-width="0.05">5</text>
<text x="117.18" y="124.55" font-size="2.3" text-anchor="middle" fill="#7a7a7a" stroke="#7a7a7a" stroke-width="0.05">4</text>
<text x="121.91" y="124.55" font-size="2.3" text-anchor="middle" fill="#7a7a7a" stroke="#7a7a7a" stroke-width="0.05">4</text>
<text x="126.64" y="124.55" font-size="2.3" text-anchor="middle" fill="#7a7a7a" stroke="#7a7a7a" stroke-width="0.05">3</text>
<text x="131.37" y="124.55" font-size="2.3" text-anchor="middle" fill="#7a7a7a" stroke="#7a7a7a" stroke-width="0.05">2</text>
<text x="136.1" y="124.55" font-size="2.3" text-anchor="middle" fill="#7a7a7a" stroke="#7a7a7a" stroke-width="0.05">2</text>
<text x="140.83" y="124.55" font-size="2.3" text-anchor="middle" fill="#7a7a7a" stroke="#7a7a7a" stroke-width="0.05">1</text>
<text x="145.56" y="124.55" font-size="2.3" text-anchor="middle" fill="#7a7a7a" stroke="#7a7a7a" stroke-width="0.05">1</text>
<text x="150.29" y="124.55" font-size="2.3" text-anchor="middle" fill="#7a7a7a" stroke="#7a7a7a" stroke-width="0.05">0</text>
<text x="155.02" y="124.55" font-size="2.3" text-anchor="middle" fill="#7a7a7a" stroke="#7a7a7a" stroke-width="0.05">0</text>
<text x="159.75" y="124.55" font-size="2.3" text-anchor="middle" fill="#7a7a7a" stroke="#7a7a7a" stroke-width="0.05">0</text>
<text x="47.7" y="27.15" font-size="3.1" text-anchor="start" fill="#2a2a2a" font-weight="normal" >MRD+ (n = 144)</text>
<text x="47.7" y="31.15" font-size="3.1" text-anchor="start" fill="#2a2a2a" font-weight="normal" >Median, 1.5 years</text>
<text x="47.7" y="35.15" font-size="3.1" text-anchor="start" fill="#2a2a2a" font-weight="normal" >(95% CI, 1.08-2.60)</text>
<text x="47.7" y="41.35" font-size="3.1" text-anchor="start" fill="#2a2a2a" font-weight="normal" >MRD− (n = 147)</text>
<text x="47.7" y="45.35" font-size="3.1" text-anchor="start" fill="#2a2a2a" font-weight="normal" >Median, not reached</text>
<text x="47.7" y="49.35" font-size="3.1" text-anchor="start" fill="#2a2a2a" font-weight="normal" >(95% CI, NE-NE)</text>
<text x="108.9" y="92.75" font-size="3.1" text-anchor="start" fill="#2a2a2a" font-weight="normal" >Hazards ratio for relapse: 1.916</text>
<text x="108.9" y="96.55" font-size="3.1" text-anchor="start" fill="#2a2a2a" font-weight="normal" >(95% CI, 1.359-2.702)</text>
<text x="108.9" y="100.35" font-size="3.1" text-anchor="start" fill="#2a2a2a" font-weight="normal" >P &lt; 0.001 by log-rank test</text>
<text x="0" y="0" font-size="4.0" text-anchor="middle" fill="#2a2a2a" stroke-width="0.22" textLength="56.8" lengthAdjust="spacingAndGlyphs" transform="translate(195.7 63) rotate(-90)">Probability of relapse-free survival</text>
<text x="206.2" y="99.4" font-size="3.5" text-anchor="end" fill="#000" stroke-width="0.12" textLength="6.7" lengthAdjust="spacingAndGlyphs">0.00</text>
<text x="206.2" y="81.53" font-size="3.5" text-anchor="end" fill="#000" stroke-width="0.12" textLength="6.7" lengthAdjust="spacingAndGlyphs">0.25</text>
<text x="206.2" y="63.65" font-size="3.5" text-anchor="end" fill="#000" stroke-width="0.12" textLength="6.7" lengthAdjust="spacingAndGlyphs">0.50</text>
<text x="206.2" y="45.78" font-size="3.5" text-anchor="end" fill="#000" stroke-width="0.12" textLength="6.7" lengthAdjust="spacingAndGlyphs">0.75</text>
<text x="206.2" y="27.9" font-size="3.5" text-anchor="end" fill="#000" stroke-width="0.12" textLength="6.7" lengthAdjust="spacingAndGlyphs">1.00</text>
<text x="215.4" y="108.15" font-size="3.1" text-anchor="middle" fill="#000" stroke-width="0.08">0</text>
<text x="220.13" y="108.15" font-size="3.1" text-anchor="middle" fill="#000" stroke-width="0.08">1</text>
<text x="224.86" y="108.15" font-size="3.1" text-anchor="middle" fill="#000" stroke-width="0.08">2</text>
<text x="229.59" y="108.15" font-size="3.1" text-anchor="middle" fill="#000" stroke-width="0.08">3</text>
<text x="234.32" y="108.15" font-size="3.1" text-anchor="middle" fill="#000" stroke-width="0.08">4</text>
<text x="239.05" y="108.15" font-size="3.1" text-anchor="middle" fill="#000" stroke-width="0.08">5</text>
<text x="243.78" y="108.15" font-size="3.1" text-anchor="middle" fill="#000" stroke-width="0.08">6</text>
<text x="248.51" y="108.15" font-size="3.1" text-anchor="middle" fill="#000" stroke-width="0.08">7</text>
<text x="253.24" y="108.15" font-size="3.1" text-anchor="middle" fill="#000" stroke-width="0.08">8</text>
<text x="257.97" y="108.15" font-size="3.1" text-anchor="middle" fill="#000" stroke-width="0.08">9</text>
<text x="262.7" y="108.15" font-size="3.1" text-anchor="middle" fill="#000" stroke-width="0.08">10</text>
<text x="267.43" y="108.15" font-size="3.1" text-anchor="middle" fill="#000" stroke-width="0.08">11</text>
<text x="272.16" y="108.15" font-size="3.1" text-anchor="middle" fill="#000" stroke-width="0.08">12</text>
<text x="276.89" y="108.15" font-size="3.1" text-anchor="middle" fill="#000" stroke-width="0.08">13</text>
<text x="281.62" y="108.15" font-size="3.1" text-anchor="middle" fill="#000" stroke-width="0.08">14</text>
<text x="286.35" y="108.15" font-size="3.1" text-anchor="middle" fill="#000" stroke-width="0.08">15</text>
<text x="291.08" y="108.15" font-size="3.1" text-anchor="middle" fill="#000" stroke-width="0.08">16</text>
<text x="295.81" y="108.15" font-size="3.1" text-anchor="middle" fill="#000" stroke-width="0.08">17</text>
<text x="300.54" y="108.15" font-size="3.1" text-anchor="middle" fill="#000" stroke-width="0.08">18</text>
<text x="305.27" y="108.15" font-size="3.1" text-anchor="middle" fill="#000" stroke-width="0.08">19</text>
<text x="310" y="108.15" font-size="3.1" text-anchor="middle" fill="#000" stroke-width="0.08">20</text>
<text x="314.73" y="108.15" font-size="3.1" text-anchor="middle" fill="#000" stroke-width="0.08">21</text>
<text x="319.46" y="108.15" font-size="3.1" text-anchor="middle" fill="#000" stroke-width="0.08">22</text>
<text x="324.19" y="108.15" font-size="3.1" text-anchor="middle" fill="#000" stroke-width="0.08">23</text>
<text x="328.92" y="108.15" font-size="3.1" text-anchor="middle" fill="#000" stroke-width="0.08">24</text>
<text x="333.65" y="108.15" font-size="3.1" text-anchor="middle" fill="#000" stroke-width="0.08">25</text>
<text x="274.4" y="114.7" font-size="5.0" text-anchor="middle" fill="#000" stroke-width="0.24" textLength="9.1" lengthAdjust="spacingAndGlyphs">Years</text>
<text x="200" y="115.9" font-size="2.9" fill="#666" stroke="#666" textLength="12.0" lengthAdjust="spacingAndGlyphs">No. at risk</text>
<text x="215.4" y="121.95" font-size="2.3" text-anchor="middle" fill="#7a7a7a" stroke="#7a7a7a" stroke-width="0.05">147</text>
<text x="220.13" y="121.95" font-size="2.3" text-anchor="middle" fill="#7a7a7a" stroke="#7a7a7a" stroke-width="0.05">106</text>
<text x="224.86" y="121.95" font-size="2.3" text-anchor="middle" fill="#7a7a7a" stroke="#7a7a7a" stroke-width="0.05">95</text>
<text x="229.59" y="121.95" font-size="2.3" text-anchor="middle" fill="#7a7a7a" stroke="#7a7a7a" stroke-width="0.05">88</text>
<text x="234.32" y="121.95" font-size="2.3" text-anchor="middle" fill="#7a7a7a" stroke="#7a7a7a" stroke-width="0.05">84</text>
<text x="239.05" y="121.95" font-size="2.3" text-anchor="middle" fill="#7a7a7a" stroke="#7a7a7a" stroke-width="0.05">80</text>
<text x="243.78" y="121.95" font-size="2.3" text-anchor="middle" fill="#7a7a7a" stroke="#7a7a7a" stroke-width="0.05">77</text>
<text x="248.51" y="121.95" font-size="2.3" text-anchor="middle" fill="#7a7a7a" stroke="#7a7a7a" stroke-width="0.05">74</text>
<text x="253.24" y="121.95" font-size="2.3" text-anchor="middle" fill="#7a7a7a" stroke="#7a7a7a" stroke-width="0.05">70</text>
<text x="257.97" y="121.95" font-size="2.3" text-anchor="middle" fill="#7a7a7a" stroke="#7a7a7a" stroke-width="0.05">68</text>
<text x="262.7" y="121.95" font-size="2.3" text-anchor="middle" fill="#7a7a7a" stroke="#7a7a7a" stroke-width="0.05">65</text>
<text x="267.43" y="121.95" font-size="2.3" text-anchor="middle" fill="#7a7a7a" stroke="#7a7a7a" stroke-width="0.05">60</text>
<text x="272.16" y="121.95" font-size="2.3" text-anchor="middle" fill="#7a7a7a" stroke="#7a7a7a" stroke-width="0.05">36</text>
<text x="276.89" y="121.95" font-size="2.3" text-anchor="middle" fill="#7a7a7a" stroke="#7a7a7a" stroke-width="0.05">28</text>
<text x="281.62" y="121.95" font-size="2.3" text-anchor="middle" fill="#7a7a7a" stroke="#7a7a7a" stroke-width="0.05">23</text>
<text x="286.35" y="121.95" font-size="2.3" text-anchor="middle" fill="#7a7a7a" stroke="#7a7a7a" stroke-width="0.05">19</text>
<text x="291.08" y="121.95" font-size="2.3" text-anchor="middle" fill="#7a7a7a" stroke="#7a7a7a" stroke-width="0.05">13</text>
<text x="295.81" y="121.95" font-size="2.3" text-anchor="middle" fill="#7a7a7a" stroke="#7a7a7a" stroke-width="0.05">8</text>
<text x="300.54" y="121.95" font-size="2.3" text-anchor="middle" fill="#7a7a7a" stroke="#7a7a7a" stroke-width="0.05">7</text>
<text x="305.27" y="121.95" font-size="2.3" text-anchor="middle" fill="#7a7a7a" stroke="#7a7a7a" stroke-width="0.05">6</text>
<text x="310" y="121.95" font-size="2.3" text-anchor="middle" fill="#7a7a7a" stroke="#7a7a7a" stroke-width="0.05">5</text>
<text x="314.73" y="121.95" font-size="2.3" text-anchor="middle" fill="#7a7a7a" stroke="#7a7a7a" stroke-width="0.05">3</text>
<text x="319.46" y="121.95" font-size="2.3" text-anchor="middle" fill="#7a7a7a" stroke="#7a7a7a" stroke-width="0.05">3</text>
<text x="324.19" y="121.95" font-size="2.3" text-anchor="middle" fill="#7a7a7a" stroke="#7a7a7a" stroke-width="0.05">2</text>
<text x="328.92" y="121.95" font-size="2.3" text-anchor="middle" fill="#7a7a7a" stroke="#7a7a7a" stroke-width="0.05">1</text>
<text x="333.65" y="121.95" font-size="2.3" text-anchor="middle" fill="#7a7a7a" stroke="#7a7a7a" stroke-width="0.05">0</text>
<text x="215.4" y="124.55" font-size="2.3" text-anchor="middle" fill="#7a7a7a" stroke="#7a7a7a" stroke-width="0.05">144</text>
<text x="220.13" y="124.55" font-size="2.3" text-anchor="middle" fill="#7a7a7a" stroke="#7a7a7a" stroke-width="0.05">62</text>
<text x="224.86" y="124.55" font-size="2.3" text-anchor="middle" fill="#7a7a7a" stroke="#7a7a7a" stroke-width="0.05">48</text>
<text x="229.59" y="124.55" font-size="2.3" text-anchor="middle" fill="#7a7a7a" stroke="#7a7a7a" stroke-width="0.05">44</text>
<text x="234.32" y="124.55" font-size="2.3" text-anchor="middle" fill="#7a7a7a" stroke="#7a7a7a" stroke-width="0.05">41</text>
<text x="239.05" y="124.55" font-size="2.3" text-anchor="middle" fill="#7a7a7a" stroke="#7a7a7a" stroke-width="0.05">39</text>
<text x="243.78" y="124.55" font-size="2.3" text-anchor="middle" fill="#7a7a7a" stroke="#7a7a7a" stroke-width="0.05">36</text>
<text x="248.51" y="124.55" font-size="2.3" text-anchor="middle" fill="#7a7a7a" stroke="#7a7a7a" stroke-width="0.05">34</text>
<text x="253.24" y="124.55" font-size="2.3" text-anchor="middle" fill="#7a7a7a" stroke="#7a7a7a" stroke-width="0.05">31</text>
<text x="257.97" y="124.55" font-size="2.3" text-anchor="middle" fill="#7a7a7a" stroke="#7a7a7a" stroke-width="0.05">29</text>
<text x="262.7" y="124.55" font-size="2.3" text-anchor="middle" fill="#7a7a7a" stroke="#7a7a7a" stroke-width="0.05">26</text>
<text x="267.43" y="124.55" font-size="2.3" text-anchor="middle" fill="#7a7a7a" stroke="#7a7a7a" stroke-width="0.05">23</text>
<text x="272.16" y="124.55" font-size="2.3" text-anchor="middle" fill="#7a7a7a" stroke="#7a7a7a" stroke-width="0.05">14</text>
<text x="276.89" y="124.55" font-size="2.3" text-anchor="middle" fill="#7a7a7a" stroke="#7a7a7a" stroke-width="0.05">9</text>
<text x="281.62" y="124.55" font-size="2.3" text-anchor="middle" fill="#7a7a7a" stroke="#7a7a7a" stroke-width="0.05">8</text>
<text x="286.35" y="124.55" font-size="2.3" text-anchor="middle" fill="#7a7a7a" stroke="#7a7a7a" stroke-width="0.05">5</text>
<text x="291.08" y="124.55" font-size="2.3" text-anchor="middle" fill="#7a7a7a" stroke="#7a7a7a" stroke-width="0.05">4</text>
<text x="295.81" y="124.55" font-size="2.3" text-anchor="middle" fill="#7a7a7a" stroke="#7a7a7a" stroke-width="0.05">4</text>
<text x="300.54" y="124.55" font-size="2.3" text-anchor="middle" fill="#7a7a7a" stroke="#7a7a7a" stroke-width="0.05">3</text>
<text x="305.27" y="124.55" font-size="2.3" text-anchor="middle" fill="#7a7a7a" stroke="#7a7a7a" stroke-width="0.05">2</text>
<text x="310" y="124.55" font-size="2.3" text-anchor="middle" fill="#7a7a7a" stroke="#7a7a7a" stroke-width="0.05">2</text>
<text x="314.73" y="124.55" font-size="2.3" text-anchor="middle" fill="#7a7a7a" stroke="#7a7a7a" stroke-width="0.05">1</text>
<text x="319.46" y="124.55" font-size="2.3" text-anchor="middle" fill="#7a7a7a" stroke="#7a7a7a" stroke-width="0.05">1</text>
<text x="324.19" y="124.55" font-size="2.3" text-anchor="middle" fill="#7a7a7a" stroke="#7a7a7a" stroke-width="0.05">0</text>
<text x="328.92" y="124.55" font-size="2.3" text-anchor="middle" fill="#7a7a7a" stroke="#7a7a7a" stroke-width="0.05">0</text>
<text x="333.65" y="124.55" font-size="2.3" text-anchor="middle" fill="#7a7a7a" stroke="#7a7a7a" stroke-width="0.05">0</text>
<text x="275.7" y="27.25" font-size="3.1" text-anchor="start" fill="#2a2a2a" font-weight="normal" >MRD− (n = 147)</text>
<text x="275.7" y="31.25" font-size="3.1" text-anchor="start" fill="#2a2a2a" font-weight="normal" >Median, not reached</text>
<text x="275.7" y="35.25" font-size="3.1" text-anchor="start" fill="#2a2a2a" font-weight="normal" >(95% CI, 4.13-NE)</text>
<text x="275.7" y="41.35" font-size="3.1" text-anchor="start" fill="#2a2a2a" font-weight="normal" >MRD+ (n = 144)</text>
<text x="275.7" y="45.35" font-size="3.1" text-anchor="start" fill="#2a2a2a" font-weight="normal" >Median, 1.4 years</text>
<text x="275.7" y="49.35" font-size="3.1" text-anchor="start" fill="#2a2a2a" font-weight="normal" >(95% CI, 1.07-1.99)</text>
<text x="282.7" y="92.75" font-size="3.1" text-anchor="start" fill="#2a2a2a" font-weight="normal" >Hazards ratio for relapse or death: 1.801</text>
<text x="282.7" y="96.55" font-size="3.1" text-anchor="start" fill="#2a2a2a" font-weight="normal" >(95% CI, 1.324-2.515)</text>
<text x="282.7" y="100.35" font-size="3.1" text-anchor="start" fill="#2a2a2a" font-weight="normal" >P &lt; 0.001 by log-rank test</text>
<text x="0" y="0" font-size="4.0" text-anchor="middle" fill="#2a2a2a" stroke-width="0.22" textLength="46.5" lengthAdjust="spacingAndGlyphs" transform="translate(369.6 63) rotate(-90)">Probability of overall survival</text>
<text x="380.1" y="99.4" font-size="3.5" text-anchor="end" fill="#000" stroke-width="0.12" textLength="6.7" lengthAdjust="spacingAndGlyphs">0.00</text>
<text x="380.1" y="81.53" font-size="3.5" text-anchor="end" fill="#000" stroke-width="0.12" textLength="6.7" lengthAdjust="spacingAndGlyphs">0.25</text>
<text x="380.1" y="63.65" font-size="3.5" text-anchor="end" fill="#000" stroke-width="0.12" textLength="6.7" lengthAdjust="spacingAndGlyphs">0.50</text>
<text x="380.1" y="45.78" font-size="3.5" text-anchor="end" fill="#000" stroke-width="0.12" textLength="6.7" lengthAdjust="spacingAndGlyphs">0.75</text>
<text x="380.1" y="27.9" font-size="3.5" text-anchor="end" fill="#000" stroke-width="0.12" textLength="6.7" lengthAdjust="spacingAndGlyphs">1.00</text>
<text x="389.3" y="108.15" font-size="3.1" text-anchor="middle" fill="#000" stroke-width="0.08">0</text>
<text x="394.03" y="108.15" font-size="3.1" text-anchor="middle" fill="#000" stroke-width="0.08">1</text>
<text x="398.76" y="108.15" font-size="3.1" text-anchor="middle" fill="#000" stroke-width="0.08">2</text>
<text x="403.49" y="108.15" font-size="3.1" text-anchor="middle" fill="#000" stroke-width="0.08">3</text>
<text x="408.22" y="108.15" font-size="3.1" text-anchor="middle" fill="#000" stroke-width="0.08">4</text>
<text x="412.95" y="108.15" font-size="3.1" text-anchor="middle" fill="#000" stroke-width="0.08">5</text>
<text x="417.68" y="108.15" font-size="3.1" text-anchor="middle" fill="#000" stroke-width="0.08">6</text>
<text x="422.41" y="108.15" font-size="3.1" text-anchor="middle" fill="#000" stroke-width="0.08">7</text>
<text x="427.14" y="108.15" font-size="3.1" text-anchor="middle" fill="#000" stroke-width="0.08">8</text>
<text x="431.87" y="108.15" font-size="3.1" text-anchor="middle" fill="#000" stroke-width="0.08">9</text>
<text x="436.6" y="108.15" font-size="3.1" text-anchor="middle" fill="#000" stroke-width="0.08">10</text>
<text x="441.33" y="108.15" font-size="3.1" text-anchor="middle" fill="#000" stroke-width="0.08">11</text>
<text x="446.06" y="108.15" font-size="3.1" text-anchor="middle" fill="#000" stroke-width="0.08">12</text>
<text x="450.79" y="108.15" font-size="3.1" text-anchor="middle" fill="#000" stroke-width="0.08">13</text>
<text x="455.52" y="108.15" font-size="3.1" text-anchor="middle" fill="#000" stroke-width="0.08">14</text>
<text x="460.25" y="108.15" font-size="3.1" text-anchor="middle" fill="#000" stroke-width="0.08">15</text>
<text x="464.98" y="108.15" font-size="3.1" text-anchor="middle" fill="#000" stroke-width="0.08">16</text>
<text x="469.71" y="108.15" font-size="3.1" text-anchor="middle" fill="#000" stroke-width="0.08">17</text>
<text x="474.44" y="108.15" font-size="3.1" text-anchor="middle" fill="#000" stroke-width="0.08">18</text>
<text x="479.17" y="108.15" font-size="3.1" text-anchor="middle" fill="#000" stroke-width="0.08">19</text>
<text x="483.9" y="108.15" font-size="3.1" text-anchor="middle" fill="#000" stroke-width="0.08">20</text>
<text x="488.63" y="108.15" font-size="3.1" text-anchor="middle" fill="#000" stroke-width="0.08">21</text>
<text x="493.36" y="108.15" font-size="3.1" text-anchor="middle" fill="#000" stroke-width="0.08">22</text>
<text x="498.09" y="108.15" font-size="3.1" text-anchor="middle" fill="#000" stroke-width="0.08">23</text>
<text x="502.82" y="108.15" font-size="3.1" text-anchor="middle" fill="#000" stroke-width="0.08">24</text>
<text x="507.55" y="108.15" font-size="3.1" text-anchor="middle" fill="#000" stroke-width="0.08">25</text>
<text x="448.3" y="114.7" font-size="5.0" text-anchor="middle" fill="#000" stroke-width="0.24" textLength="9.1" lengthAdjust="spacingAndGlyphs">Years</text>
<text x="373.9" y="115.9" font-size="2.9" fill="#666" stroke="#666" textLength="12.0" lengthAdjust="spacingAndGlyphs">No. at risk</text>
<text x="389.3" y="121.95" font-size="2.3" text-anchor="middle" fill="#7a7a7a" stroke="#7a7a7a" stroke-width="0.05">147</text>
<text x="394.03" y="121.95" font-size="2.3" text-anchor="middle" fill="#7a7a7a" stroke="#7a7a7a" stroke-width="0.05">138</text>
<text x="398.76" y="121.95" font-size="2.3" text-anchor="middle" fill="#7a7a7a" stroke="#7a7a7a" stroke-width="0.05">113</text>
<text x="403.49" y="121.95" font-size="2.3" text-anchor="middle" fill="#7a7a7a" stroke="#7a7a7a" stroke-width="0.05">103</text>
<text x="408.22" y="121.95" font-size="2.3" text-anchor="middle" fill="#7a7a7a" stroke="#7a7a7a" stroke-width="0.05">92</text>
<text x="412.95" y="121.95" font-size="2.3" text-anchor="middle" fill="#7a7a7a" stroke="#7a7a7a" stroke-width="0.05">88</text>
<text x="417.68" y="121.95" font-size="2.3" text-anchor="middle" fill="#7a7a7a" stroke="#7a7a7a" stroke-width="0.05">77</text>
<text x="422.41" y="121.95" font-size="2.3" text-anchor="middle" fill="#7a7a7a" stroke="#7a7a7a" stroke-width="0.05">71</text>
<text x="427.14" y="121.95" font-size="2.3" text-anchor="middle" fill="#7a7a7a" stroke="#7a7a7a" stroke-width="0.05">68</text>
<text x="431.87" y="121.95" font-size="2.3" text-anchor="middle" fill="#7a7a7a" stroke="#7a7a7a" stroke-width="0.05">66</text>
<text x="436.6" y="121.95" font-size="2.3" text-anchor="middle" fill="#7a7a7a" stroke="#7a7a7a" stroke-width="0.05">63</text>
<text x="441.33" y="121.95" font-size="2.3" text-anchor="middle" fill="#7a7a7a" stroke="#7a7a7a" stroke-width="0.05">60</text>
<text x="446.06" y="121.95" font-size="2.3" text-anchor="middle" fill="#7a7a7a" stroke="#7a7a7a" stroke-width="0.05">38</text>
<text x="450.79" y="121.95" font-size="2.3" text-anchor="middle" fill="#7a7a7a" stroke="#7a7a7a" stroke-width="0.05">29</text>
<text x="455.52" y="121.95" font-size="2.3" text-anchor="middle" fill="#7a7a7a" stroke="#7a7a7a" stroke-width="0.05">24</text>
<text x="460.25" y="121.95" font-size="2.3" text-anchor="middle" fill="#7a7a7a" stroke="#7a7a7a" stroke-width="0.05">19</text>
<text x="464.98" y="121.95" font-size="2.3" text-anchor="middle" fill="#7a7a7a" stroke="#7a7a7a" stroke-width="0.05">14</text>
<text x="469.71" y="121.95" font-size="2.3" text-anchor="middle" fill="#7a7a7a" stroke="#7a7a7a" stroke-width="0.05">9</text>
<text x="474.44" y="121.95" font-size="2.3" text-anchor="middle" fill="#7a7a7a" stroke="#7a7a7a" stroke-width="0.05">8</text>
<text x="479.17" y="121.95" font-size="2.3" text-anchor="middle" fill="#7a7a7a" stroke="#7a7a7a" stroke-width="0.05">6</text>
<text x="483.9" y="121.95" font-size="2.3" text-anchor="middle" fill="#7a7a7a" stroke="#7a7a7a" stroke-width="0.05">5</text>
<text x="488.63" y="121.95" font-size="2.3" text-anchor="middle" fill="#7a7a7a" stroke="#7a7a7a" stroke-width="0.05">3</text>
<text x="493.36" y="121.95" font-size="2.3" text-anchor="middle" fill="#7a7a7a" stroke="#7a7a7a" stroke-width="0.05">3</text>
<text x="498.09" y="121.95" font-size="2.3" text-anchor="middle" fill="#7a7a7a" stroke="#7a7a7a" stroke-width="0.05">2</text>
<text x="502.82" y="121.95" font-size="2.3" text-anchor="middle" fill="#7a7a7a" stroke="#7a7a7a" stroke-width="0.05">1</text>
<text x="507.55" y="121.95" font-size="2.3" text-anchor="middle" fill="#7a7a7a" stroke="#7a7a7a" stroke-width="0.05">0</text>
<text x="389.3" y="124.55" font-size="2.3" text-anchor="middle" fill="#7a7a7a" stroke="#7a7a7a" stroke-width="0.05">144</text>
<text x="394.03" y="124.55" font-size="2.3" text-anchor="middle" fill="#7a7a7a" stroke="#7a7a7a" stroke-width="0.05">121</text>
<text x="398.76" y="124.55" font-size="2.3" text-anchor="middle" fill="#7a7a7a" stroke="#7a7a7a" stroke-width="0.05">95</text>
<text x="403.49" y="124.55" font-size="2.3" text-anchor="middle" fill="#7a7a7a" stroke="#7a7a7a" stroke-width="0.05">78</text>
<text x="408.22" y="124.55" font-size="2.3" text-anchor="middle" fill="#7a7a7a" stroke="#7a7a7a" stroke-width="0.05">70</text>
<text x="412.95" y="124.55" font-size="2.3" text-anchor="middle" fill="#7a7a7a" stroke="#7a7a7a" stroke-width="0.05">64</text>
<text x="417.68" y="124.55" font-size="2.3" text-anchor="middle" fill="#7a7a7a" stroke="#7a7a7a" stroke-width="0.05">60</text>
<text x="422.41" y="124.55" font-size="2.3" text-anchor="middle" fill="#7a7a7a" stroke="#7a7a7a" stroke-width="0.05">57</text>
<text x="427.14" y="124.55" font-size="2.3" text-anchor="middle" fill="#7a7a7a" stroke="#7a7a7a" stroke-width="0.05">54</text>
<text x="431.87" y="124.55" font-size="2.3" text-anchor="middle" fill="#7a7a7a" stroke="#7a7a7a" stroke-width="0.05">51</text>
<text x="436.6" y="124.55" font-size="2.3" text-anchor="middle" fill="#7a7a7a" stroke="#7a7a7a" stroke-width="0.05">48</text>
<text x="441.33" y="124.55" font-size="2.3" text-anchor="middle" fill="#7a7a7a" stroke="#7a7a7a" stroke-width="0.05">45</text>
<text x="446.06" y="124.55" font-size="2.3" text-anchor="middle" fill="#7a7a7a" stroke="#7a7a7a" stroke-width="0.05">21</text>
<text x="450.79" y="124.55" font-size="2.3" text-anchor="middle" fill="#7a7a7a" stroke="#7a7a7a" stroke-width="0.05">16</text>
<text x="455.52" y="124.55" font-size="2.3" text-anchor="middle" fill="#7a7a7a" stroke="#7a7a7a" stroke-width="0.05">12</text>
<text x="460.25" y="124.55" font-size="2.3" text-anchor="middle" fill="#7a7a7a" stroke="#7a7a7a" stroke-width="0.05">9</text>
<text x="464.98" y="124.55" font-size="2.3" text-anchor="middle" fill="#7a7a7a" stroke="#7a7a7a" stroke-width="0.05">7</text>
<text x="469.71" y="124.55" font-size="2.3" text-anchor="middle" fill="#7a7a7a" stroke="#7a7a7a" stroke-width="0.05">5</text>
<text x="474.44" y="124.55" font-size="2.3" text-anchor="middle" fill="#7a7a7a" stroke="#7a7a7a" stroke-width="0.05">4</text>
<text x="479.17" y="124.55" font-size="2.3" text-anchor="middle" fill="#7a7a7a" stroke="#7a7a7a" stroke-width="0.05">3</text>
<text x="483.9" y="124.55" font-size="2.3" text-anchor="middle" fill="#7a7a7a" stroke="#7a7a7a" stroke-width="0.05">2</text>
<text x="488.63" y="124.55" font-size="2.3" text-anchor="middle" fill="#7a7a7a" stroke="#7a7a7a" stroke-width="0.05">1</text>
<text x="493.36" y="124.55" font-size="2.3" text-anchor="middle" fill="#7a7a7a" stroke="#7a7a7a" stroke-width="0.05">1</text>
<text x="498.09" y="124.55" font-size="2.3" text-anchor="middle" fill="#7a7a7a" stroke="#7a7a7a" stroke-width="0.05">0</text>
<text x="502.82" y="124.55" font-size="2.3" text-anchor="middle" fill="#7a7a7a" stroke="#7a7a7a" stroke-width="0.05">0</text>
<text x="507.55" y="124.55" font-size="2.3" text-anchor="middle" fill="#7a7a7a" stroke="#7a7a7a" stroke-width="0.05">0</text>
<text x="449.5" y="27.25" font-size="3.1" text-anchor="start" fill="#2a2a2a" font-weight="normal" >MRD− (n = 147)</text>
<text x="449.5" y="31.25" font-size="3.1" text-anchor="start" fill="#2a2a2a" font-weight="normal" >Median, not reached</text>
<text x="449.5" y="35.25" font-size="3.1" text-anchor="start" fill="#2a2a2a" font-weight="normal" >(95% CI, NE-NE)</text>
<text x="449.5" y="41.35" font-size="3.1" text-anchor="start" fill="#2a2a2a" font-weight="normal" >MRD+ (n = 144)</text>
<text x="449.5" y="45.35" font-size="3.1" text-anchor="start" fill="#2a2a2a" font-weight="normal" >Median, 4.4 years</text>
<text x="449.5" y="49.35" font-size="3.1" text-anchor="start" fill="#2a2a2a" font-weight="normal" >(95% CI, 3.55-NE)</text>
<text x="456.6" y="92.75" font-size="3.1" text-anchor="start" fill="#2a2a2a" font-weight="normal" >Hazards ratio for death: 1.856</text>
<text x="456.6" y="96.55" font-size="3.1" text-anchor="start" fill="#2a2a2a" font-weight="normal" >(95% CI, 1.302-2.647)</text>
<text x="456.6" y="100.35" font-size="3.1" text-anchor="start" fill="#2a2a2a" font-weight="normal" >P &lt; 0.001 by log-rank test</text>
<text x="0" y="0" font-size="4.0" text-anchor="middle" fill="#2a2a2a" stroke-width="0.22" textLength="51.4" lengthAdjust="spacingAndGlyphs" transform="translate(21.8 196) rotate(-90)">Cumulative incidence of relapse</text>
<text x="32.3" y="232.4" font-size="3.5" text-anchor="end" fill="#000" stroke-width="0.12" textLength="6.7" lengthAdjust="spacingAndGlyphs">0.00</text>
<text x="32.3" y="214.52" font-size="3.5" text-anchor="end" fill="#000" stroke-width="0.12" textLength="6.7" lengthAdjust="spacingAndGlyphs">0.25</text>
<text x="32.3" y="196.65" font-size="3.5" text-anchor="end" fill="#000" stroke-width="0.12" textLength="6.7" lengthAdjust="spacingAndGlyphs">0.50</text>
<text x="32.3" y="178.77" font-size="3.5" text-anchor="end" fill="#000" stroke-width="0.12" textLength="6.7" lengthAdjust="spacingAndGlyphs">0.75</text>
<text x="32.3" y="160.9" font-size="3.5" text-anchor="end" fill="#000" stroke-width="0.12" textLength="6.7" lengthAdjust="spacingAndGlyphs">1.00</text>
<text x="41.5" y="241.15" font-size="3.1" text-anchor="middle" fill="#000" stroke-width="0.08">0</text>
<text x="46.23" y="241.15" font-size="3.1" text-anchor="middle" fill="#000" stroke-width="0.08">1</text>
<text x="50.96" y="241.15" font-size="3.1" text-anchor="middle" fill="#000" stroke-width="0.08">2</text>
<text x="55.69" y="241.15" font-size="3.1" text-anchor="middle" fill="#000" stroke-width="0.08">3</text>
<text x="60.42" y="241.15" font-size="3.1" text-anchor="middle" fill="#000" stroke-width="0.08">4</text>
<text x="65.15" y="241.15" font-size="3.1" text-anchor="middle" fill="#000" stroke-width="0.08">5</text>
<text x="69.88" y="241.15" font-size="3.1" text-anchor="middle" fill="#000" stroke-width="0.08">6</text>
<text x="74.61" y="241.15" font-size="3.1" text-anchor="middle" fill="#000" stroke-width="0.08">7</text>
<text x="79.34" y="241.15" font-size="3.1" text-anchor="middle" fill="#000" stroke-width="0.08">8</text>
<text x="84.07" y="241.15" font-size="3.1" text-anchor="middle" fill="#000" stroke-width="0.08">9</text>
<text x="88.8" y="241.15" font-size="3.1" text-anchor="middle" fill="#000" stroke-width="0.08">10</text>
<text x="93.53" y="241.15" font-size="3.1" text-anchor="middle" fill="#000" stroke-width="0.08">11</text>
<text x="98.26" y="241.15" font-size="3.1" text-anchor="middle" fill="#000" stroke-width="0.08">12</text>
<text x="102.99" y="241.15" font-size="3.1" text-anchor="middle" fill="#000" stroke-width="0.08">13</text>
<text x="107.72" y="241.15" font-size="3.1" text-anchor="middle" fill="#000" stroke-width="0.08">14</text>
<text x="112.45" y="241.15" font-size="3.1" text-anchor="middle" fill="#000" stroke-width="0.08">15</text>
<text x="117.18" y="241.15" font-size="3.1" text-anchor="middle" fill="#000" stroke-width="0.08">16</text>
<text x="121.91" y="241.15" font-size="3.1" text-anchor="middle" fill="#000" stroke-width="0.08">17</text>
<text x="126.64" y="241.15" font-size="3.1" text-anchor="middle" fill="#000" stroke-width="0.08">18</text>
<text x="131.37" y="241.15" font-size="3.1" text-anchor="middle" fill="#000" stroke-width="0.08">19</text>
<text x="136.1" y="241.15" font-size="3.1" text-anchor="middle" fill="#000" stroke-width="0.08">20</text>
<text x="140.83" y="241.15" font-size="3.1" text-anchor="middle" fill="#000" stroke-width="0.08">21</text>
<text x="145.56" y="241.15" font-size="3.1" text-anchor="middle" fill="#000" stroke-width="0.08">22</text>
<text x="150.29" y="241.15" font-size="3.1" text-anchor="middle" fill="#000" stroke-width="0.08">23</text>
<text x="155.02" y="241.15" font-size="3.1" text-anchor="middle" fill="#000" stroke-width="0.08">24</text>
<text x="159.75" y="241.15" font-size="3.1" text-anchor="middle" fill="#000" stroke-width="0.08">25</text>
<text x="100.5" y="247.7" font-size="5.0" text-anchor="middle" fill="#000" stroke-width="0.24" textLength="9.1" lengthAdjust="spacingAndGlyphs">Years</text>
<text x="26.1" y="248.9" font-size="2.9" fill="#666" stroke="#666" textLength="12.0" lengthAdjust="spacingAndGlyphs">No. at risk</text>
<text x="41.5" y="254.95" font-size="2.3" text-anchor="middle" fill="#7a7a7a" stroke="#7a7a7a" stroke-width="0.05">156</text>
<text x="46.23" y="254.95" font-size="2.3" text-anchor="middle" fill="#7a7a7a" stroke="#7a7a7a" stroke-width="0.05">139</text>
<text x="50.96" y="254.95" font-size="2.3" text-anchor="middle" fill="#7a7a7a" stroke="#7a7a7a" stroke-width="0.05">100</text>
<text x="55.69" y="254.95" font-size="2.3" text-anchor="middle" fill="#7a7a7a" stroke="#7a7a7a" stroke-width="0.05">84</text>
<text x="60.42" y="254.95" font-size="2.3" text-anchor="middle" fill="#7a7a7a" stroke="#7a7a7a" stroke-width="0.05">75</text>
<text x="65.15" y="254.95" font-size="2.3" text-anchor="middle" fill="#7a7a7a" stroke="#7a7a7a" stroke-width="0.05">70</text>
<text x="69.88" y="254.95" font-size="2.3" text-anchor="middle" fill="#7a7a7a" stroke="#7a7a7a" stroke-width="0.05">66</text>
<text x="74.61" y="254.95" font-size="2.3" text-anchor="middle" fill="#7a7a7a" stroke="#7a7a7a" stroke-width="0.05">63</text>
<text x="79.34" y="254.95" font-size="2.3" text-anchor="middle" fill="#7a7a7a" stroke="#7a7a7a" stroke-width="0.05">60</text>
<text x="84.07" y="254.95" font-size="2.3" text-anchor="middle" fill="#7a7a7a" stroke="#7a7a7a" stroke-width="0.05">58</text>
<text x="88.8" y="254.95" font-size="2.3" text-anchor="middle" fill="#7a7a7a" stroke="#7a7a7a" stroke-width="0.05">55</text>
<text x="93.53" y="254.95" font-size="2.3" text-anchor="middle" fill="#7a7a7a" stroke="#7a7a7a" stroke-width="0.05">51</text>
<text x="98.26" y="254.95" font-size="2.3" text-anchor="middle" fill="#7a7a7a" stroke="#7a7a7a" stroke-width="0.05">34</text>
<text x="102.99" y="254.95" font-size="2.3" text-anchor="middle" fill="#7a7a7a" stroke="#7a7a7a" stroke-width="0.05">28</text>
<text x="107.72" y="254.95" font-size="2.3" text-anchor="middle" fill="#7a7a7a" stroke="#7a7a7a" stroke-width="0.05">23</text>
<text x="112.45" y="254.95" font-size="2.3" text-anchor="middle" fill="#7a7a7a" stroke="#7a7a7a" stroke-width="0.05">19</text>
<text x="117.18" y="254.95" font-size="2.3" text-anchor="middle" fill="#7a7a7a" stroke="#7a7a7a" stroke-width="0.05">13</text>
<text x="121.91" y="254.95" font-size="2.3" text-anchor="middle" fill="#7a7a7a" stroke="#7a7a7a" stroke-width="0.05">8</text>
<text x="126.64" y="254.95" font-size="2.3" text-anchor="middle" fill="#7a7a7a" stroke="#7a7a7a" stroke-width="0.05">8</text>
<text x="131.37" y="254.95" font-size="2.3" text-anchor="middle" fill="#7a7a7a" stroke="#7a7a7a" stroke-width="0.05">6</text>
<text x="136.1" y="254.95" font-size="2.3" text-anchor="middle" fill="#7a7a7a" stroke="#7a7a7a" stroke-width="0.05">5</text>
<text x="140.83" y="254.95" font-size="2.3" text-anchor="middle" fill="#7a7a7a" stroke="#7a7a7a" stroke-width="0.05">3</text>
<text x="145.56" y="254.95" font-size="2.3" text-anchor="middle" fill="#7a7a7a" stroke="#7a7a7a" stroke-width="0.05">3</text>
<text x="150.29" y="254.95" font-size="2.3" text-anchor="middle" fill="#7a7a7a" stroke="#7a7a7a" stroke-width="0.05">2</text>
<text x="155.02" y="254.95" font-size="2.3" text-anchor="middle" fill="#7a7a7a" stroke="#7a7a7a" stroke-width="0.05">1</text>
<text x="159.75" y="254.95" font-size="2.3" text-anchor="middle" fill="#7a7a7a" stroke="#7a7a7a" stroke-width="0.05">0</text>
<text x="41.5" y="257.55" font-size="2.3" text-anchor="middle" fill="#7a7a7a" stroke="#7a7a7a" stroke-width="0.05">135</text>
<text x="46.23" y="257.55" font-size="2.3" text-anchor="middle" fill="#7a7a7a" stroke="#7a7a7a" stroke-width="0.05">55</text>
<text x="50.96" y="257.55" font-size="2.3" text-anchor="middle" fill="#7a7a7a" stroke="#7a7a7a" stroke-width="0.05">43</text>
<text x="55.69" y="257.55" font-size="2.3" text-anchor="middle" fill="#7a7a7a" stroke="#7a7a7a" stroke-width="0.05">40</text>
<text x="60.42" y="257.55" font-size="2.3" text-anchor="middle" fill="#7a7a7a" stroke="#7a7a7a" stroke-width="0.05">38</text>
<text x="65.15" y="257.55" font-size="2.3" text-anchor="middle" fill="#7a7a7a" stroke="#7a7a7a" stroke-width="0.05">35</text>
<text x="69.88" y="257.55" font-size="2.3" text-anchor="middle" fill="#7a7a7a" stroke="#7a7a7a" stroke-width="0.05">33</text>
<text x="74.61" y="257.55" font-size="2.3" text-anchor="middle" fill="#7a7a7a" stroke="#7a7a7a" stroke-width="0.05">31</text>
<text x="79.34" y="257.55" font-size="2.3" text-anchor="middle" fill="#7a7a7a" stroke="#7a7a7a" stroke-width="0.05">29</text>
<text x="84.07" y="257.55" font-size="2.3" text-anchor="middle" fill="#7a7a7a" stroke="#7a7a7a" stroke-width="0.05">27</text>
<text x="88.8" y="257.55" font-size="2.3" text-anchor="middle" fill="#7a7a7a" stroke="#7a7a7a" stroke-width="0.05">24</text>
<text x="93.53" y="257.55" font-size="2.3" text-anchor="middle" fill="#7a7a7a" stroke="#7a7a7a" stroke-width="0.05">21</text>
<text x="98.26" y="257.55" font-size="2.3" text-anchor="middle" fill="#7a7a7a" stroke="#7a7a7a" stroke-width="0.05">13</text>
<text x="102.99" y="257.55" font-size="2.3" text-anchor="middle" fill="#7a7a7a" stroke="#7a7a7a" stroke-width="0.05">9</text>
<text x="107.72" y="257.55" font-size="2.3" text-anchor="middle" fill="#7a7a7a" stroke="#7a7a7a" stroke-width="0.05">8</text>
<text x="112.45" y="257.55" font-size="2.3" text-anchor="middle" fill="#7a7a7a" stroke="#7a7a7a" stroke-width="0.05">5</text>
<text x="117.18" y="257.55" font-size="2.3" text-anchor="middle" fill="#7a7a7a" stroke="#7a7a7a" stroke-width="0.05">4</text>
<text x="121.91" y="257.55" font-size="2.3" text-anchor="middle" fill="#7a7a7a" stroke="#7a7a7a" stroke-width="0.05">4</text>
<text x="126.64" y="257.55" font-size="2.3" text-anchor="middle" fill="#7a7a7a" stroke="#7a7a7a" stroke-width="0.05">3</text>
<text x="131.37" y="257.55" font-size="2.3" text-anchor="middle" fill="#7a7a7a" stroke="#7a7a7a" stroke-width="0.05">2</text>
<text x="136.1" y="257.55" font-size="2.3" text-anchor="middle" fill="#7a7a7a" stroke="#7a7a7a" stroke-width="0.05">2</text>
<text x="140.83" y="257.55" font-size="2.3" text-anchor="middle" fill="#7a7a7a" stroke="#7a7a7a" stroke-width="0.05">1</text>
<text x="145.56" y="257.55" font-size="2.3" text-anchor="middle" fill="#7a7a7a" stroke="#7a7a7a" stroke-width="0.05">1</text>
<text x="150.29" y="257.55" font-size="2.3" text-anchor="middle" fill="#7a7a7a" stroke="#7a7a7a" stroke-width="0.05">0</text>
<text x="155.02" y="257.55" font-size="2.3" text-anchor="middle" fill="#7a7a7a" stroke="#7a7a7a" stroke-width="0.05">0</text>
<text x="159.75" y="257.55" font-size="2.3" text-anchor="middle" fill="#7a7a7a" stroke="#7a7a7a" stroke-width="0.05">0</text>
<text x="47.7" y="160.15" font-size="3.1" text-anchor="start" fill="#2a2a2a" font-weight="normal" >MRD<tspan font-size="1.9" dy="-1">TP1</tspan><tspan dy="1">+</tspan> (n = 135)</text>
<text x="47.7" y="164.15" font-size="3.1" text-anchor="start" fill="#2a2a2a" font-weight="normal" >Median, 1.6 years</text>
<text x="47.7" y="168.15" font-size="3.1" text-anchor="start" fill="#2a2a2a" font-weight="normal" >(95% CI, 1.11-1.93)</text>
<text x="47.7" y="174.25" font-size="3.1" text-anchor="start" fill="#2a2a2a" font-weight="normal" >MRD<tspan font-size="1.9" dy="-1">TP1</tspan><tspan dy="1">−</tspan> (n = 156)</text>
<text x="47.7" y="178.25" font-size="3.1" text-anchor="start" fill="#2a2a2a" font-weight="normal" >Median, not reached</text>
<text x="47.7" y="182.25" font-size="3.1" text-anchor="start" fill="#2a2a2a" font-weight="normal" >(95% CI, NE-NE)</text>
<text x="108.8" y="225.75" font-size="3.1" text-anchor="start" fill="#2a2a2a" font-weight="normal" >Hazards ratio for relapse: 1.630</text>
<text x="108.8" y="229.55" font-size="3.1" text-anchor="start" fill="#2a2a2a" font-weight="normal" >(95% CI, 1.167-2.267)</text>
<text x="108.8" y="233.35" font-size="3.1" text-anchor="start" fill="#2a2a2a" font-weight="normal" >P = 0.004 by log-rank test</text>
<text x="0" y="0" font-size="4.0" text-anchor="middle" fill="#2a2a2a" stroke-width="0.22" textLength="51.4" lengthAdjust="spacingAndGlyphs" transform="translate(195.7 196) rotate(-90)">Cumulative incidence of relapse</text>
<text x="206.2" y="232.4" font-size="3.5" text-anchor="end" fill="#000" stroke-width="0.12" textLength="6.7" lengthAdjust="spacingAndGlyphs">0.00</text>
<text x="206.2" y="214.52" font-size="3.5" text-anchor="end" fill="#000" stroke-width="0.12" textLength="6.7" lengthAdjust="spacingAndGlyphs">0.25</text>
<text x="206.2" y="196.65" font-size="3.5" text-anchor="end" fill="#000" stroke-width="0.12" textLength="6.7" lengthAdjust="spacingAndGlyphs">0.50</text>
<text x="206.2" y="178.77" font-size="3.5" text-anchor="end" fill="#000" stroke-width="0.12" textLength="6.7" lengthAdjust="spacingAndGlyphs">0.75</text>
<text x="206.2" y="160.9" font-size="3.5" text-anchor="end" fill="#000" stroke-width="0.12" textLength="6.7" lengthAdjust="spacingAndGlyphs">1.00</text>
<text x="215.4" y="241.15" font-size="3.1" text-anchor="middle" fill="#000" stroke-width="0.08">0</text>
<text x="220.13" y="241.15" font-size="3.1" text-anchor="middle" fill="#000" stroke-width="0.08">1</text>
<text x="224.86" y="241.15" font-size="3.1" text-anchor="middle" fill="#000" stroke-width="0.08">2</text>
<text x="229.59" y="241.15" font-size="3.1" text-anchor="middle" fill="#000" stroke-width="0.08">3</text>
<text x="234.32" y="241.15" font-size="3.1" text-anchor="middle" fill="#000" stroke-width="0.08">4</text>
<text x="239.05" y="241.15" font-size="3.1" text-anchor="middle" fill="#000" stroke-width="0.08">5</text>
<text x="243.78" y="241.15" font-size="3.1" text-anchor="middle" fill="#000" stroke-width="0.08">6</text>
<text x="248.51" y="241.15" font-size="3.1" text-anchor="middle" fill="#000" stroke-width="0.08">7</text>
<text x="253.24" y="241.15" font-size="3.1" text-anchor="middle" fill="#000" stroke-width="0.08">8</text>
<text x="257.97" y="241.15" font-size="3.1" text-anchor="middle" fill="#000" stroke-width="0.08">9</text>
<text x="262.7" y="241.15" font-size="3.1" text-anchor="middle" fill="#000" stroke-width="0.08">10</text>
<text x="267.43" y="241.15" font-size="3.1" text-anchor="middle" fill="#000" stroke-width="0.08">11</text>
<text x="272.16" y="241.15" font-size="3.1" text-anchor="middle" fill="#000" stroke-width="0.08">12</text>
<text x="276.89" y="241.15" font-size="3.1" text-anchor="middle" fill="#000" stroke-width="0.08">13</text>
<text x="281.62" y="241.15" font-size="3.1" text-anchor="middle" fill="#000" stroke-width="0.08">14</text>
<text x="286.35" y="241.15" font-size="3.1" text-anchor="middle" fill="#000" stroke-width="0.08">15</text>
<text x="291.08" y="241.15" font-size="3.1" text-anchor="middle" fill="#000" stroke-width="0.08">16</text>
<text x="295.81" y="241.15" font-size="3.1" text-anchor="middle" fill="#000" stroke-width="0.08">17</text>
<text x="300.54" y="241.15" font-size="3.1" text-anchor="middle" fill="#000" stroke-width="0.08">18</text>
<text x="305.27" y="241.15" font-size="3.1" text-anchor="middle" fill="#000" stroke-width="0.08">19</text>
<text x="310" y="241.15" font-size="3.1" text-anchor="middle" fill="#000" stroke-width="0.08">20</text>
<text x="314.73" y="241.15" font-size="3.1" text-anchor="middle" fill="#000" stroke-width="0.08">21</text>
<text x="319.46" y="241.15" font-size="3.1" text-anchor="middle" fill="#000" stroke-width="0.08">22</text>
<text x="324.19" y="241.15" font-size="3.1" text-anchor="middle" fill="#000" stroke-width="0.08">23</text>
<text x="328.92" y="241.15" font-size="3.1" text-anchor="middle" fill="#000" stroke-width="0.08">24</text>
<text x="333.65" y="241.15" font-size="3.1" text-anchor="middle" fill="#000" stroke-width="0.08">25</text>
<text x="274.4" y="247.7" font-size="5.0" text-anchor="middle" fill="#000" stroke-width="0.24" textLength="9.1" lengthAdjust="spacingAndGlyphs">Years</text>
<text x="200" y="248.9" font-size="2.9" fill="#666" stroke="#666" textLength="12.0" lengthAdjust="spacingAndGlyphs">No. at risk</text>
<text x="215.4" y="254.95" font-size="2.3" text-anchor="middle" fill="#7a7a7a" stroke="#7a7a7a" stroke-width="0.05">207</text>
<text x="220.13" y="254.95" font-size="2.3" text-anchor="middle" fill="#7a7a7a" stroke="#7a7a7a" stroke-width="0.05">180</text>
<text x="224.86" y="254.95" font-size="2.3" text-anchor="middle" fill="#7a7a7a" stroke="#7a7a7a" stroke-width="0.05">128</text>
<text x="229.59" y="254.95" font-size="2.3" text-anchor="middle" fill="#7a7a7a" stroke="#7a7a7a" stroke-width="0.05">112</text>
<text x="234.32" y="254.95" font-size="2.3" text-anchor="middle" fill="#7a7a7a" stroke="#7a7a7a" stroke-width="0.05">98</text>
<text x="239.05" y="254.95" font-size="2.3" text-anchor="middle" fill="#7a7a7a" stroke="#7a7a7a" stroke-width="0.05">94</text>
<text x="243.78" y="254.95" font-size="2.3" text-anchor="middle" fill="#7a7a7a" stroke="#7a7a7a" stroke-width="0.05">90</text>
<text x="248.51" y="254.95" font-size="2.3" text-anchor="middle" fill="#7a7a7a" stroke="#7a7a7a" stroke-width="0.05">86</text>
<text x="253.24" y="254.95" font-size="2.3" text-anchor="middle" fill="#7a7a7a" stroke="#7a7a7a" stroke-width="0.05">83</text>
<text x="257.97" y="254.95" font-size="2.3" text-anchor="middle" fill="#7a7a7a" stroke="#7a7a7a" stroke-width="0.05">80</text>
<text x="262.7" y="254.95" font-size="2.3" text-anchor="middle" fill="#7a7a7a" stroke="#7a7a7a" stroke-width="0.05">75</text>
<text x="267.43" y="254.95" font-size="2.3" text-anchor="middle" fill="#7a7a7a" stroke="#7a7a7a" stroke-width="0.05">68</text>
<text x="272.16" y="254.95" font-size="2.3" text-anchor="middle" fill="#7a7a7a" stroke="#7a7a7a" stroke-width="0.05">36</text>
<text x="276.89" y="254.95" font-size="2.3" text-anchor="middle" fill="#7a7a7a" stroke="#7a7a7a" stroke-width="0.05">29</text>
<text x="281.62" y="254.95" font-size="2.3" text-anchor="middle" fill="#7a7a7a" stroke="#7a7a7a" stroke-width="0.05">24</text>
<text x="286.35" y="254.95" font-size="2.3" text-anchor="middle" fill="#7a7a7a" stroke="#7a7a7a" stroke-width="0.05">19</text>
<text x="291.08" y="254.95" font-size="2.3" text-anchor="middle" fill="#7a7a7a" stroke="#7a7a7a" stroke-width="0.05">13</text>
<text x="295.81" y="254.95" font-size="2.3" text-anchor="middle" fill="#7a7a7a" stroke="#7a7a7a" stroke-width="0.05">8</text>
<text x="300.54" y="254.95" font-size="2.3" text-anchor="middle" fill="#7a7a7a" stroke="#7a7a7a" stroke-width="0.05">8</text>
<text x="305.27" y="254.95" font-size="2.3" text-anchor="middle" fill="#7a7a7a" stroke="#7a7a7a" stroke-width="0.05">6</text>
<text x="310" y="254.95" font-size="2.3" text-anchor="middle" fill="#7a7a7a" stroke="#7a7a7a" stroke-width="0.05">5</text>
<text x="314.73" y="254.95" font-size="2.3" text-anchor="middle" fill="#7a7a7a" stroke="#7a7a7a" stroke-width="0.05">3</text>
<text x="319.46" y="254.95" font-size="2.3" text-anchor="middle" fill="#7a7a7a" stroke="#7a7a7a" stroke-width="0.05">3</text>
<text x="324.19" y="254.95" font-size="2.3" text-anchor="middle" fill="#7a7a7a" stroke="#7a7a7a" stroke-width="0.05">2</text>
<text x="328.92" y="254.95" font-size="2.3" text-anchor="middle" fill="#7a7a7a" stroke="#7a7a7a" stroke-width="0.05">1</text>
<text x="333.65" y="254.95" font-size="2.3" text-anchor="middle" fill="#7a7a7a" stroke="#7a7a7a" stroke-width="0.05">0</text>
<text x="215.4" y="257.55" font-size="2.3" text-anchor="middle" fill="#7a7a7a" stroke="#7a7a7a" stroke-width="0.05">84</text>
<text x="220.13" y="257.55" font-size="2.3" text-anchor="middle" fill="#7a7a7a" stroke="#7a7a7a" stroke-width="0.05">46</text>
<text x="224.86" y="257.55" font-size="2.3" text-anchor="middle" fill="#7a7a7a" stroke="#7a7a7a" stroke-width="0.05">28</text>
<text x="229.59" y="257.55" font-size="2.3" text-anchor="middle" fill="#7a7a7a" stroke="#7a7a7a" stroke-width="0.05">26</text>
<text x="234.32" y="257.55" font-size="2.3" text-anchor="middle" fill="#7a7a7a" stroke="#7a7a7a" stroke-width="0.05">24</text>
<text x="239.05" y="257.55" font-size="2.3" text-anchor="middle" fill="#7a7a7a" stroke="#7a7a7a" stroke-width="0.05">22</text>
<text x="243.78" y="257.55" font-size="2.3" text-anchor="middle" fill="#7a7a7a" stroke="#7a7a7a" stroke-width="0.05">20</text>
<text x="248.51" y="257.55" font-size="2.3" text-anchor="middle" fill="#7a7a7a" stroke="#7a7a7a" stroke-width="0.05">18</text>
<text x="253.24" y="257.55" font-size="2.3" text-anchor="middle" fill="#7a7a7a" stroke="#7a7a7a" stroke-width="0.05">14</text>
<text x="257.97" y="257.55" font-size="2.3" text-anchor="middle" fill="#7a7a7a" stroke="#7a7a7a" stroke-width="0.05">9</text>
<text x="262.7" y="257.55" font-size="2.3" text-anchor="middle" fill="#7a7a7a" stroke="#7a7a7a" stroke-width="0.05">8</text>
<text x="267.43" y="257.55" font-size="2.3" text-anchor="middle" fill="#7a7a7a" stroke="#7a7a7a" stroke-width="0.05">6</text>
<text x="272.16" y="257.55" font-size="2.3" text-anchor="middle" fill="#7a7a7a" stroke="#7a7a7a" stroke-width="0.05">5</text>
<text x="276.89" y="257.55" font-size="2.3" text-anchor="middle" fill="#7a7a7a" stroke="#7a7a7a" stroke-width="0.05">4</text>
<text x="281.62" y="257.55" font-size="2.3" text-anchor="middle" fill="#7a7a7a" stroke="#7a7a7a" stroke-width="0.05">3</text>
<text x="286.35" y="257.55" font-size="2.3" text-anchor="middle" fill="#7a7a7a" stroke="#7a7a7a" stroke-width="0.05">2</text>
<text x="291.08" y="257.55" font-size="2.3" text-anchor="middle" fill="#7a7a7a" stroke="#7a7a7a" stroke-width="0.05">1</text>
<text x="295.81" y="257.55" font-size="2.3" text-anchor="middle" fill="#7a7a7a" stroke="#7a7a7a" stroke-width="0.05">1</text>
<text x="300.54" y="257.55" font-size="2.3" text-anchor="middle" fill="#7a7a7a" stroke="#7a7a7a" stroke-width="0.05">1</text>
<text x="305.27" y="257.55" font-size="2.3" text-anchor="middle" fill="#7a7a7a" stroke="#7a7a7a" stroke-width="0.05">0</text>
<text x="310" y="257.55" font-size="2.3" text-anchor="middle" fill="#7a7a7a" stroke="#7a7a7a" stroke-width="0.05">0</text>
<text x="314.73" y="257.55" font-size="2.3" text-anchor="middle" fill="#7a7a7a" stroke="#7a7a7a" stroke-width="0.05">0</text>
<text x="319.46" y="257.55" font-size="2.3" text-anchor="middle" fill="#7a7a7a" stroke="#7a7a7a" stroke-width="0.05">0</text>
<text x="324.19" y="257.55" font-size="2.3" text-anchor="middle" fill="#7a7a7a" stroke="#7a7a7a" stroke-width="0.05">0</text>
<text x="328.92" y="257.55" font-size="2.3" text-anchor="middle" fill="#7a7a7a" stroke="#7a7a7a" stroke-width="0.05">0</text>
<text x="333.65" y="257.55" font-size="2.3" text-anchor="middle" fill="#7a7a7a" stroke="#7a7a7a" stroke-width="0.05">0</text>
<text x="297.7" y="170.95" font-size="3.1" text-anchor="start" fill="#2a2a2a" font-weight="normal" >MRD<tspan font-size="1.9" dy="-1">TP2</tspan><tspan dy="1">+</tspan> (n = 84)</text>
<text x="297.7" y="174.95" font-size="3.1" text-anchor="start" fill="#2a2a2a" font-weight="normal" >Median, 1.1 years</text>
<text x="297.7" y="178.95" font-size="3.1" text-anchor="start" fill="#2a2a2a" font-weight="normal" >(95% CI, 0.78-1.76)</text>
<text x="297.7" y="185.35" font-size="3.1" text-anchor="start" fill="#2a2a2a" font-weight="normal" >MRD<tspan font-size="1.9" dy="-1">TP2</tspan><tspan dy="1">−</tspan> (n = 207)</text>
<text x="297.7" y="189.35" font-size="3.1" text-anchor="start" fill="#2a2a2a" font-weight="normal" >Median, not reached</text>
<text x="297.7" y="193.35" font-size="3.1" text-anchor="start" fill="#2a2a2a" font-weight="normal" >(95% CI, 11.9-NE)</text>
<text x="282.2" y="225.75" font-size="3.1" text-anchor="start" fill="#2a2a2a" font-weight="normal" >Hazards ratio for relapse: 3.181</text>
<text x="282.2" y="229.55" font-size="3.1" text-anchor="start" fill="#2a2a2a" font-weight="normal" >(95% CI, 2.324-4.354)</text>
<text x="282.2" y="233.35" font-size="3.1" text-anchor="start" fill="#2a2a2a" font-weight="normal" >P &lt; 0.001 by log-rank test</text>
<text x="0" y="0" font-size="4.0" text-anchor="middle" fill="#2a2a2a" stroke-width="0.22" textLength="56.8" lengthAdjust="spacingAndGlyphs" transform="translate(369.6 196) rotate(-90)">Probability of relapse-free survival</text>
<text x="380.1" y="232.4" font-size="3.5" text-anchor="end" fill="#000" stroke-width="0.12" textLength="6.7" lengthAdjust="spacingAndGlyphs">0.00</text>
<text x="380.1" y="214.52" font-size="3.5" text-anchor="end" fill="#000" stroke-width="0.12" textLength="6.7" lengthAdjust="spacingAndGlyphs">0.25</text>
<text x="380.1" y="196.65" font-size="3.5" text-anchor="end" fill="#000" stroke-width="0.12" textLength="6.7" lengthAdjust="spacingAndGlyphs">0.50</text>
<text x="380.1" y="178.77" font-size="3.5" text-anchor="end" fill="#000" stroke-width="0.12" textLength="6.7" lengthAdjust="spacingAndGlyphs">0.75</text>
<text x="380.1" y="160.9" font-size="3.5" text-anchor="end" fill="#000" stroke-width="0.12" textLength="6.7" lengthAdjust="spacingAndGlyphs">1.00</text>
<text x="389.3" y="241.15" font-size="3.1" text-anchor="middle" fill="#000" stroke-width="0.08">0</text>
<text x="394.03" y="241.15" font-size="3.1" text-anchor="middle" fill="#000" stroke-width="0.08">1</text>
<text x="398.76" y="241.15" font-size="3.1" text-anchor="middle" fill="#000" stroke-width="0.08">2</text>
<text x="403.49" y="241.15" font-size="3.1" text-anchor="middle" fill="#000" stroke-width="0.08">3</text>
<text x="408.22" y="241.15" font-size="3.1" text-anchor="middle" fill="#000" stroke-width="0.08">4</text>
<text x="412.95" y="241.15" font-size="3.1" text-anchor="middle" fill="#000" stroke-width="0.08">5</text>
<text x="417.68" y="241.15" font-size="3.1" text-anchor="middle" fill="#000" stroke-width="0.08">6</text>
<text x="422.41" y="241.15" font-size="3.1" text-anchor="middle" fill="#000" stroke-width="0.08">7</text>
<text x="427.14" y="241.15" font-size="3.1" text-anchor="middle" fill="#000" stroke-width="0.08">8</text>
<text x="431.87" y="241.15" font-size="3.1" text-anchor="middle" fill="#000" stroke-width="0.08">9</text>
<text x="436.6" y="241.15" font-size="3.1" text-anchor="middle" fill="#000" stroke-width="0.08">10</text>
<text x="441.33" y="241.15" font-size="3.1" text-anchor="middle" fill="#000" stroke-width="0.08">11</text>
<text x="446.06" y="241.15" font-size="3.1" text-anchor="middle" fill="#000" stroke-width="0.08">12</text>
<text x="450.79" y="241.15" font-size="3.1" text-anchor="middle" fill="#000" stroke-width="0.08">13</text>
<text x="455.52" y="241.15" font-size="3.1" text-anchor="middle" fill="#000" stroke-width="0.08">14</text>
<text x="460.25" y="241.15" font-size="3.1" text-anchor="middle" fill="#000" stroke-width="0.08">15</text>
<text x="464.98" y="241.15" font-size="3.1" text-anchor="middle" fill="#000" stroke-width="0.08">16</text>
<text x="469.71" y="241.15" font-size="3.1" text-anchor="middle" fill="#000" stroke-width="0.08">17</text>
<text x="474.44" y="241.15" font-size="3.1" text-anchor="middle" fill="#000" stroke-width="0.08">18</text>
<text x="479.17" y="241.15" font-size="3.1" text-anchor="middle" fill="#000" stroke-width="0.08">19</text>
<text x="483.9" y="241.15" font-size="3.1" text-anchor="middle" fill="#000" stroke-width="0.08">20</text>
<text x="488.63" y="241.15" font-size="3.1" text-anchor="middle" fill="#000" stroke-width="0.08">21</text>
<text x="493.36" y="241.15" font-size="3.1" text-anchor="middle" fill="#000" stroke-width="0.08">22</text>
<text x="498.09" y="241.15" font-size="3.1" text-anchor="middle" fill="#000" stroke-width="0.08">23</text>
<text x="502.82" y="241.15" font-size="3.1" text-anchor="middle" fill="#000" stroke-width="0.08">24</text>
<text x="507.55" y="241.15" font-size="3.1" text-anchor="middle" fill="#000" stroke-width="0.08">25</text>
<text x="448.3" y="247.7" font-size="5.0" text-anchor="middle" fill="#000" stroke-width="0.24" textLength="9.1" lengthAdjust="spacingAndGlyphs">Years</text>
<text x="373.9" y="248.9" font-size="2.9" fill="#666" stroke="#666" textLength="12.0" lengthAdjust="spacingAndGlyphs">No. at risk</text>
<text x="389.3" y="254.95" font-size="2.3" text-anchor="middle" fill="#7a7a7a" stroke="#7a7a7a" stroke-width="0.05">156</text>
<text x="394.03" y="254.95" font-size="2.3" text-anchor="middle" fill="#7a7a7a" stroke="#7a7a7a" stroke-width="0.05">133</text>
<text x="398.76" y="254.95" font-size="2.3" text-anchor="middle" fill="#7a7a7a" stroke="#7a7a7a" stroke-width="0.05">110</text>
<text x="403.49" y="254.95" font-size="2.3" text-anchor="middle" fill="#7a7a7a" stroke="#7a7a7a" stroke-width="0.05">104</text>
<text x="408.22" y="254.95" font-size="2.3" text-anchor="middle" fill="#7a7a7a" stroke="#7a7a7a" stroke-width="0.05">99</text>
<text x="412.95" y="254.95" font-size="2.3" text-anchor="middle" fill="#7a7a7a" stroke="#7a7a7a" stroke-width="0.05">94</text>
<text x="417.68" y="254.95" font-size="2.3" text-anchor="middle" fill="#7a7a7a" stroke="#7a7a7a" stroke-width="0.05">90</text>
<text x="422.41" y="254.95" font-size="2.3" text-anchor="middle" fill="#7a7a7a" stroke="#7a7a7a" stroke-width="0.05">86</text>
<text x="427.14" y="254.95" font-size="2.3" text-anchor="middle" fill="#7a7a7a" stroke="#7a7a7a" stroke-width="0.05">82</text>
<text x="431.87" y="254.95" font-size="2.3" text-anchor="middle" fill="#7a7a7a" stroke="#7a7a7a" stroke-width="0.05">79</text>
<text x="436.6" y="254.95" font-size="2.3" text-anchor="middle" fill="#7a7a7a" stroke="#7a7a7a" stroke-width="0.05">76</text>
<text x="441.33" y="254.95" font-size="2.3" text-anchor="middle" fill="#7a7a7a" stroke="#7a7a7a" stroke-width="0.05">71</text>
<text x="446.06" y="254.95" font-size="2.3" text-anchor="middle" fill="#7a7a7a" stroke="#7a7a7a" stroke-width="0.05">38</text>
<text x="450.79" y="254.95" font-size="2.3" text-anchor="middle" fill="#7a7a7a" stroke="#7a7a7a" stroke-width="0.05">29</text>
<text x="455.52" y="254.95" font-size="2.3" text-anchor="middle" fill="#7a7a7a" stroke="#7a7a7a" stroke-width="0.05">24</text>
<text x="460.25" y="254.95" font-size="2.3" text-anchor="middle" fill="#7a7a7a" stroke="#7a7a7a" stroke-width="0.05">19</text>
<text x="464.98" y="254.95" font-size="2.3" text-anchor="middle" fill="#7a7a7a" stroke="#7a7a7a" stroke-width="0.05">14</text>
<text x="469.71" y="254.95" font-size="2.3" text-anchor="middle" fill="#7a7a7a" stroke="#7a7a7a" stroke-width="0.05">9</text>
<text x="474.44" y="254.95" font-size="2.3" text-anchor="middle" fill="#7a7a7a" stroke="#7a7a7a" stroke-width="0.05">8</text>
<text x="479.17" y="254.95" font-size="2.3" text-anchor="middle" fill="#7a7a7a" stroke="#7a7a7a" stroke-width="0.05">6</text>
<text x="483.9" y="254.95" font-size="2.3" text-anchor="middle" fill="#7a7a7a" stroke="#7a7a7a" stroke-width="0.05">5</text>
<text x="488.63" y="254.95" font-size="2.3" text-anchor="middle" fill="#7a7a7a" stroke="#7a7a7a" stroke-width="0.05">3</text>
<text x="493.36" y="254.95" font-size="2.3" text-anchor="middle" fill="#7a7a7a" stroke="#7a7a7a" stroke-width="0.05">3</text>
<text x="498.09" y="254.95" font-size="2.3" text-anchor="middle" fill="#7a7a7a" stroke="#7a7a7a" stroke-width="0.05">2</text>
<text x="502.82" y="254.95" font-size="2.3" text-anchor="middle" fill="#7a7a7a" stroke="#7a7a7a" stroke-width="0.05">1</text>
<text x="507.55" y="254.95" font-size="2.3" text-anchor="middle" fill="#7a7a7a" stroke="#7a7a7a" stroke-width="0.05">0</text>
<text x="389.3" y="257.55" font-size="2.3" text-anchor="middle" fill="#7a7a7a" stroke="#7a7a7a" stroke-width="0.05">135</text>
<text x="394.03" y="257.55" font-size="2.3" text-anchor="middle" fill="#7a7a7a" stroke="#7a7a7a" stroke-width="0.05">72</text>
<text x="398.76" y="257.55" font-size="2.3" text-anchor="middle" fill="#7a7a7a" stroke="#7a7a7a" stroke-width="0.05">55</text>
<text x="403.49" y="257.55" font-size="2.3" text-anchor="middle" fill="#7a7a7a" stroke="#7a7a7a" stroke-width="0.05">50</text>
<text x="408.22" y="257.55" font-size="2.3" text-anchor="middle" fill="#7a7a7a" stroke="#7a7a7a" stroke-width="0.05">46</text>
<text x="412.95" y="257.55" font-size="2.3" text-anchor="middle" fill="#7a7a7a" stroke="#7a7a7a" stroke-width="0.05">43</text>
<text x="417.68" y="257.55" font-size="2.3" text-anchor="middle" fill="#7a7a7a" stroke="#7a7a7a" stroke-width="0.05">41</text>
<text x="422.41" y="257.55" font-size="2.3" text-anchor="middle" fill="#7a7a7a" stroke="#7a7a7a" stroke-width="0.05">39</text>
<text x="427.14" y="257.55" font-size="2.3" text-anchor="middle" fill="#7a7a7a" stroke="#7a7a7a" stroke-width="0.05">36</text>
<text x="431.87" y="257.55" font-size="2.3" text-anchor="middle" fill="#7a7a7a" stroke="#7a7a7a" stroke-width="0.05">34</text>
<text x="436.6" y="257.55" font-size="2.3" text-anchor="middle" fill="#7a7a7a" stroke="#7a7a7a" stroke-width="0.05">31</text>
<text x="441.33" y="257.55" font-size="2.3" text-anchor="middle" fill="#7a7a7a" stroke="#7a7a7a" stroke-width="0.05">28</text>
<text x="446.06" y="257.55" font-size="2.3" text-anchor="middle" fill="#7a7a7a" stroke="#7a7a7a" stroke-width="0.05">14</text>
<text x="450.79" y="257.55" font-size="2.3" text-anchor="middle" fill="#7a7a7a" stroke="#7a7a7a" stroke-width="0.05">10</text>
<text x="455.52" y="257.55" font-size="2.3" text-anchor="middle" fill="#7a7a7a" stroke="#7a7a7a" stroke-width="0.05">8</text>
<text x="460.25" y="257.55" font-size="2.3" text-anchor="middle" fill="#7a7a7a" stroke="#7a7a7a" stroke-width="0.05">5</text>
<text x="464.98" y="257.55" font-size="2.3" text-anchor="middle" fill="#7a7a7a" stroke="#7a7a7a" stroke-width="0.05">4</text>
<text x="469.71" y="257.55" font-size="2.3" text-anchor="middle" fill="#7a7a7a" stroke="#7a7a7a" stroke-width="0.05">4</text>
<text x="474.44" y="257.55" font-size="2.3" text-anchor="middle" fill="#7a7a7a" stroke="#7a7a7a" stroke-width="0.05">3</text>
<text x="479.17" y="257.55" font-size="2.3" text-anchor="middle" fill="#7a7a7a" stroke="#7a7a7a" stroke-width="0.05">2</text>
<text x="483.9" y="257.55" font-size="2.3" text-anchor="middle" fill="#7a7a7a" stroke="#7a7a7a" stroke-width="0.05">2</text>
<text x="488.63" y="257.55" font-size="2.3" text-anchor="middle" fill="#7a7a7a" stroke="#7a7a7a" stroke-width="0.05">1</text>
<text x="493.36" y="257.55" font-size="2.3" text-anchor="middle" fill="#7a7a7a" stroke="#7a7a7a" stroke-width="0.05">1</text>
<text x="498.09" y="257.55" font-size="2.3" text-anchor="middle" fill="#7a7a7a" stroke="#7a7a7a" stroke-width="0.05">0</text>
<text x="502.82" y="257.55" font-size="2.3" text-anchor="middle" fill="#7a7a7a" stroke="#7a7a7a" stroke-width="0.05">0</text>
<text x="507.55" y="257.55" font-size="2.3" text-anchor="middle" fill="#7a7a7a" stroke="#7a7a7a" stroke-width="0.05">0</text>
<text x="456.6" y="165.75" font-size="3.1" text-anchor="start" fill="#2a2a2a" font-weight="normal" >MRD<tspan font-size="1.9" dy="-1">TP1</tspan><tspan dy="1">−</tspan> (n = 156)</text>
<text x="456.6" y="169.75" font-size="3.1" text-anchor="start" fill="#2a2a2a" font-weight="normal" >Median, not reached</text>
<text x="456.6" y="173.75" font-size="3.1" text-anchor="start" fill="#2a2a2a" font-weight="normal" >(95% CI, 2.43-NE)</text>
<text x="456.6" y="180.05" font-size="3.1" text-anchor="start" fill="#2a2a2a" font-weight="normal" >MRD<tspan font-size="1.9" dy="-1">TP1</tspan><tspan dy="1">+</tspan> (n = 135)</text>
<text x="456.6" y="184.05" font-size="3.1" text-anchor="start" fill="#2a2a2a" font-weight="normal" >Median, 1.5 years</text>
<text x="456.6" y="188.05" font-size="3.1" text-anchor="start" fill="#2a2a2a" font-weight="normal" >(95% CI, 1.08-2.57)</text>
<text x="456.2" y="225.75" font-size="3.1" text-anchor="start" fill="#2a2a2a" font-weight="normal" >Hazards ratio for relapse or death: 1.811</text>
<text x="456.2" y="229.55" font-size="3.1" text-anchor="start" fill="#2a2a2a" font-weight="normal" >(95% CI, 1.176-2.201)</text>
<text x="456.2" y="233.35" font-size="3.1" text-anchor="start" fill="#2a2a2a" font-weight="normal" >P = 0.002 by log-rank test</text>
<text x="0" y="0" font-size="4.0" text-anchor="middle" fill="#2a2a2a" stroke-width="0.22" textLength="56.8" lengthAdjust="spacingAndGlyphs" transform="translate(21.8 329) rotate(-90)">Probability of relapse-free survival</text>
<text x="32.3" y="365.4" font-size="3.5" text-anchor="end" fill="#000" stroke-width="0.12" textLength="6.7" lengthAdjust="spacingAndGlyphs">0.00</text>
<text x="32.3" y="347.52" font-size="3.5" text-anchor="end" fill="#000" stroke-width="0.12" textLength="6.7" lengthAdjust="spacingAndGlyphs">0.25</text>
<text x="32.3" y="329.65" font-size="3.5" text-anchor="end" fill="#000" stroke-width="0.12" textLength="6.7" lengthAdjust="spacingAndGlyphs">0.50</text>
<text x="32.3" y="311.77" font-size="3.5" text-anchor="end" fill="#000" stroke-width="0.12" textLength="6.7" lengthAdjust="spacingAndGlyphs">0.75</text>
<text x="32.3" y="293.9" font-size="3.5" text-anchor="end" fill="#000" stroke-width="0.12" textLength="6.7" lengthAdjust="spacingAndGlyphs">1.00</text>
<text x="41.5" y="374.15" font-size="3.1" text-anchor="middle" fill="#000" stroke-width="0.08">0</text>
<text x="46.23" y="374.15" font-size="3.1" text-anchor="middle" fill="#000" stroke-width="0.08">1</text>
<text x="50.96" y="374.15" font-size="3.1" text-anchor="middle" fill="#000" stroke-width="0.08">2</text>
<text x="55.69" y="374.15" font-size="3.1" text-anchor="middle" fill="#000" stroke-width="0.08">3</text>
<text x="60.42" y="374.15" font-size="3.1" text-anchor="middle" fill="#000" stroke-width="0.08">4</text>
<text x="65.15" y="374.15" font-size="3.1" text-anchor="middle" fill="#000" stroke-width="0.08">5</text>
<text x="69.88" y="374.15" font-size="3.1" text-anchor="middle" fill="#000" stroke-width="0.08">6</text>
<text x="74.61" y="374.15" font-size="3.1" text-anchor="middle" fill="#000" stroke-width="0.08">7</text>
<text x="79.34" y="374.15" font-size="3.1" text-anchor="middle" fill="#000" stroke-width="0.08">8</text>
<text x="84.07" y="374.15" font-size="3.1" text-anchor="middle" fill="#000" stroke-width="0.08">9</text>
<text x="88.8" y="374.15" font-size="3.1" text-anchor="middle" fill="#000" stroke-width="0.08">10</text>
<text x="93.53" y="374.15" font-size="3.1" text-anchor="middle" fill="#000" stroke-width="0.08">11</text>
<text x="98.26" y="374.15" font-size="3.1" text-anchor="middle" fill="#000" stroke-width="0.08">12</text>
<text x="102.99" y="374.15" font-size="3.1" text-anchor="middle" fill="#000" stroke-width="0.08">13</text>
<text x="107.72" y="374.15" font-size="3.1" text-anchor="middle" fill="#000" stroke-width="0.08">14</text>
<text x="112.45" y="374.15" font-size="3.1" text-anchor="middle" fill="#000" stroke-width="0.08">15</text>
<text x="117.18" y="374.15" font-size="3.1" text-anchor="middle" fill="#000" stroke-width="0.08">16</text>
<text x="121.91" y="374.15" font-size="3.1" text-anchor="middle" fill="#000" stroke-width="0.08">17</text>
<text x="126.64" y="374.15" font-size="3.1" text-anchor="middle" fill="#000" stroke-width="0.08">18</text>
<text x="131.37" y="374.15" font-size="3.1" text-anchor="middle" fill="#000" stroke-width="0.08">19</text>
<text x="136.1" y="374.15" font-size="3.1" text-anchor="middle" fill="#000" stroke-width="0.08">20</text>
<text x="140.83" y="374.15" font-size="3.1" text-anchor="middle" fill="#000" stroke-width="0.08">21</text>
<text x="145.56" y="374.15" font-size="3.1" text-anchor="middle" fill="#000" stroke-width="0.08">22</text>
<text x="150.29" y="374.15" font-size="3.1" text-anchor="middle" fill="#000" stroke-width="0.08">23</text>
<text x="155.02" y="374.15" font-size="3.1" text-anchor="middle" fill="#000" stroke-width="0.08">24</text>
<text x="159.75" y="374.15" font-size="3.1" text-anchor="middle" fill="#000" stroke-width="0.08">25</text>
<text x="100.5" y="380.7" font-size="5.0" text-anchor="middle" fill="#000" stroke-width="0.24" textLength="9.1" lengthAdjust="spacingAndGlyphs">Years</text>
<text x="26.1" y="381.9" font-size="2.9" fill="#666" stroke="#666" textLength="12.0" lengthAdjust="spacingAndGlyphs">No. at risk</text>
<text x="41.5" y="387.95" font-size="2.3" text-anchor="middle" fill="#7a7a7a" stroke="#7a7a7a" stroke-width="0.05">207</text>
<text x="46.23" y="387.95" font-size="2.3" text-anchor="middle" fill="#7a7a7a" stroke="#7a7a7a" stroke-width="0.05">170</text>
<text x="50.96" y="387.95" font-size="2.3" text-anchor="middle" fill="#7a7a7a" stroke="#7a7a7a" stroke-width="0.05">125</text>
<text x="55.69" y="387.95" font-size="2.3" text-anchor="middle" fill="#7a7a7a" stroke="#7a7a7a" stroke-width="0.05">110</text>
<text x="60.42" y="387.95" font-size="2.3" text-anchor="middle" fill="#7a7a7a" stroke="#7a7a7a" stroke-width="0.05">98</text>
<text x="65.15" y="387.95" font-size="2.3" text-anchor="middle" fill="#7a7a7a" stroke="#7a7a7a" stroke-width="0.05">94</text>
<text x="69.88" y="387.95" font-size="2.3" text-anchor="middle" fill="#7a7a7a" stroke="#7a7a7a" stroke-width="0.05">90</text>
<text x="74.61" y="387.95" font-size="2.3" text-anchor="middle" fill="#7a7a7a" stroke="#7a7a7a" stroke-width="0.05">86</text>
<text x="79.34" y="387.95" font-size="2.3" text-anchor="middle" fill="#7a7a7a" stroke="#7a7a7a" stroke-width="0.05">83</text>
<text x="84.07" y="387.95" font-size="2.3" text-anchor="middle" fill="#7a7a7a" stroke="#7a7a7a" stroke-width="0.05">80</text>
<text x="88.8" y="387.95" font-size="2.3" text-anchor="middle" fill="#7a7a7a" stroke="#7a7a7a" stroke-width="0.05">75</text>
<text x="93.53" y="387.95" font-size="2.3" text-anchor="middle" fill="#7a7a7a" stroke="#7a7a7a" stroke-width="0.05">68</text>
<text x="98.26" y="387.95" font-size="2.3" text-anchor="middle" fill="#7a7a7a" stroke="#7a7a7a" stroke-width="0.05">36</text>
<text x="102.99" y="387.95" font-size="2.3" text-anchor="middle" fill="#7a7a7a" stroke="#7a7a7a" stroke-width="0.05">29</text>
<text x="107.72" y="387.95" font-size="2.3" text-anchor="middle" fill="#7a7a7a" stroke="#7a7a7a" stroke-width="0.05">24</text>
<text x="112.45" y="387.95" font-size="2.3" text-anchor="middle" fill="#7a7a7a" stroke="#7a7a7a" stroke-width="0.05">19</text>
<text x="117.18" y="387.95" font-size="2.3" text-anchor="middle" fill="#7a7a7a" stroke="#7a7a7a" stroke-width="0.05">13</text>
<text x="121.91" y="387.95" font-size="2.3" text-anchor="middle" fill="#7a7a7a" stroke="#7a7a7a" stroke-width="0.05">8</text>
<text x="126.64" y="387.95" font-size="2.3" text-anchor="middle" fill="#7a7a7a" stroke="#7a7a7a" stroke-width="0.05">8</text>
<text x="131.37" y="387.95" font-size="2.3" text-anchor="middle" fill="#7a7a7a" stroke="#7a7a7a" stroke-width="0.05">6</text>
<text x="136.1" y="387.95" font-size="2.3" text-anchor="middle" fill="#7a7a7a" stroke="#7a7a7a" stroke-width="0.05">5</text>
<text x="140.83" y="387.95" font-size="2.3" text-anchor="middle" fill="#7a7a7a" stroke="#7a7a7a" stroke-width="0.05">3</text>
<text x="145.56" y="387.95" font-size="2.3" text-anchor="middle" fill="#7a7a7a" stroke="#7a7a7a" stroke-width="0.05">3</text>
<text x="150.29" y="387.95" font-size="2.3" text-anchor="middle" fill="#7a7a7a" stroke="#7a7a7a" stroke-width="0.05">2</text>
<text x="155.02" y="387.95" font-size="2.3" text-anchor="middle" fill="#7a7a7a" stroke="#7a7a7a" stroke-width="0.05">1</text>
<text x="159.75" y="387.95" font-size="2.3" text-anchor="middle" fill="#7a7a7a" stroke="#7a7a7a" stroke-width="0.05">0</text>
<text x="41.5" y="390.55" font-size="2.3" text-anchor="middle" fill="#7a7a7a" stroke="#7a7a7a" stroke-width="0.05">84</text>
<text x="46.23" y="390.55" font-size="2.3" text-anchor="middle" fill="#7a7a7a" stroke="#7a7a7a" stroke-width="0.05">28</text>
<text x="50.96" y="390.55" font-size="2.3" text-anchor="middle" fill="#7a7a7a" stroke="#7a7a7a" stroke-width="0.05">20</text>
<text x="55.69" y="390.55" font-size="2.3" text-anchor="middle" fill="#7a7a7a" stroke="#7a7a7a" stroke-width="0.05">18</text>
<text x="60.42" y="390.55" font-size="2.3" text-anchor="middle" fill="#7a7a7a" stroke="#7a7a7a" stroke-width="0.05">17</text>
<text x="65.15" y="390.55" font-size="2.3" text-anchor="middle" fill="#7a7a7a" stroke="#7a7a7a" stroke-width="0.05">16</text>
<text x="69.88" y="390.55" font-size="2.3" text-anchor="middle" fill="#7a7a7a" stroke="#7a7a7a" stroke-width="0.05">15</text>
<text x="74.61" y="390.55" font-size="2.3" text-anchor="middle" fill="#7a7a7a" stroke="#7a7a7a" stroke-width="0.05">14</text>
<text x="79.34" y="390.55" font-size="2.3" text-anchor="middle" fill="#7a7a7a" stroke="#7a7a7a" stroke-width="0.05">13</text>
<text x="84.07" y="390.55" font-size="2.3" text-anchor="middle" fill="#7a7a7a" stroke="#7a7a7a" stroke-width="0.05">9</text>
<text x="88.8" y="390.55" font-size="2.3" text-anchor="middle" fill="#7a7a7a" stroke="#7a7a7a" stroke-width="0.05">8</text>
<text x="93.53" y="390.55" font-size="2.3" text-anchor="middle" fill="#7a7a7a" stroke="#7a7a7a" stroke-width="0.05">6</text>
<text x="98.26" y="390.55" font-size="2.3" text-anchor="middle" fill="#7a7a7a" stroke="#7a7a7a" stroke-width="0.05">5</text>
<text x="102.99" y="390.55" font-size="2.3" text-anchor="middle" fill="#7a7a7a" stroke="#7a7a7a" stroke-width="0.05">4</text>
<text x="107.72" y="390.55" font-size="2.3" text-anchor="middle" fill="#7a7a7a" stroke="#7a7a7a" stroke-width="0.05">3</text>
<text x="112.45" y="390.55" font-size="2.3" text-anchor="middle" fill="#7a7a7a" stroke="#7a7a7a" stroke-width="0.05">2</text>
<text x="117.18" y="390.55" font-size="2.3" text-anchor="middle" fill="#7a7a7a" stroke="#7a7a7a" stroke-width="0.05">1</text>
<text x="121.91" y="390.55" font-size="2.3" text-anchor="middle" fill="#7a7a7a" stroke="#7a7a7a" stroke-width="0.05">1</text>
<text x="126.64" y="390.55" font-size="2.3" text-anchor="middle" fill="#7a7a7a" stroke="#7a7a7a" stroke-width="0.05">0</text>
<text x="131.37" y="390.55" font-size="2.3" text-anchor="middle" fill="#7a7a7a" stroke="#7a7a7a" stroke-width="0.05">0</text>
<text x="136.1" y="390.55" font-size="2.3" text-anchor="middle" fill="#7a7a7a" stroke="#7a7a7a" stroke-width="0.05">0</text>
<text x="140.83" y="390.55" font-size="2.3" text-anchor="middle" fill="#7a7a7a" stroke="#7a7a7a" stroke-width="0.05">0</text>
<text x="145.56" y="390.55" font-size="2.3" text-anchor="middle" fill="#7a7a7a" stroke="#7a7a7a" stroke-width="0.05">0</text>
<text x="150.29" y="390.55" font-size="2.3" text-anchor="middle" fill="#7a7a7a" stroke="#7a7a7a" stroke-width="0.05">0</text>
<text x="155.02" y="390.55" font-size="2.3" text-anchor="middle" fill="#7a7a7a" stroke="#7a7a7a" stroke-width="0.05">0</text>
<text x="159.75" y="390.55" font-size="2.3" text-anchor="middle" fill="#7a7a7a" stroke="#7a7a7a" stroke-width="0.05">0</text>
<text x="108.8" y="299.95" font-size="3.1" text-anchor="start" fill="#2a2a2a" font-weight="normal" >MRD<tspan font-size="1.9" dy="-1">TP2</tspan><tspan dy="1">−</tspan> (n = 207)</text>
<text x="108.8" y="303.95" font-size="3.1" text-anchor="start" fill="#2a2a2a" font-weight="normal" >Median, 11.8 years</text>
<text x="108.8" y="307.95" font-size="3.1" text-anchor="start" fill="#2a2a2a" font-weight="normal" >(95% CI, 6.00-NE)</text>
<text x="108.8" y="314.15" font-size="3.1" text-anchor="start" fill="#2a2a2a" font-weight="normal" >MRD<tspan font-size="1.9" dy="-1">TP2</tspan><tspan dy="1">+</tspan> (n = 84)</text>
<text x="108.8" y="318.15" font-size="3.1" text-anchor="start" fill="#2a2a2a" font-weight="normal" >Median, 1.1 years</text>
<text x="108.8" y="322.15" font-size="3.1" text-anchor="start" fill="#2a2a2a" font-weight="normal" >(95% CI, 0.75-1.57)</text>
<text x="109.2" y="358.75" font-size="3.1" text-anchor="start" fill="#2a2a2a" font-weight="normal" >Hazards ratio for relapse or death: 3.170</text>
<text x="109.2" y="362.55" font-size="3.1" text-anchor="start" fill="#2a2a2a" font-weight="normal" >(95% CI, 2.077-4.838)</text>
<text x="109.2" y="366.35" font-size="3.1" text-anchor="start" fill="#2a2a2a" font-weight="normal" >P &lt; 0.001 by log-rank test</text>
<text x="0" y="0" font-size="4.0" text-anchor="middle" fill="#2a2a2a" stroke-width="0.22" textLength="46.5" lengthAdjust="spacingAndGlyphs" transform="translate(195.7 329) rotate(-90)">Probability of overall survival</text>
<text x="206.2" y="365.4" font-size="3.5" text-anchor="end" fill="#000" stroke-width="0.12" textLength="6.7" lengthAdjust="spacingAndGlyphs">0.00</text>
<text x="206.2" y="347.52" font-size="3.5" text-anchor="end" fill="#000" stroke-width="0.12" textLength="6.7" lengthAdjust="spacingAndGlyphs">0.25</text>
<text x="206.2" y="329.65" font-size="3.5" text-anchor="end" fill="#000" stroke-width="0.12" textLength="6.7" lengthAdjust="spacingAndGlyphs">0.50</text>
<text x="206.2" y="311.77" font-size="3.5" text-anchor="end" fill="#000" stroke-width="0.12" textLength="6.7" lengthAdjust="spacingAndGlyphs">0.75</text>
<text x="206.2" y="293.9" font-size="3.5" text-anchor="end" fill="#000" stroke-width="0.12" textLength="6.7" lengthAdjust="spacingAndGlyphs">1.00</text>
<text x="215.4" y="374.15" font-size="3.1" text-anchor="middle" fill="#000" stroke-width="0.08">0</text>
<text x="220.13" y="374.15" font-size="3.1" text-anchor="middle" fill="#000" stroke-width="0.08">1</text>
<text x="224.86" y="374.15" font-size="3.1" text-anchor="middle" fill="#000" stroke-width="0.08">2</text>
<text x="229.59" y="374.15" font-size="3.1" text-anchor="middle" fill="#000" stroke-width="0.08">3</text>
<text x="234.32" y="374.15" font-size="3.1" text-anchor="middle" fill="#000" stroke-width="0.08">4</text>
<text x="239.05" y="374.15" font-size="3.1" text-anchor="middle" fill="#000" stroke-width="0.08">5</text>
<text x="243.78" y="374.15" font-size="3.1" text-anchor="middle" fill="#000" stroke-width="0.08">6</text>
<text x="248.51" y="374.15" font-size="3.1" text-anchor="middle" fill="#000" stroke-width="0.08">7</text>
<text x="253.24" y="374.15" font-size="3.1" text-anchor="middle" fill="#000" stroke-width="0.08">8</text>
<text x="257.97" y="374.15" font-size="3.1" text-anchor="middle" fill="#000" stroke-width="0.08">9</text>
<text x="262.7" y="374.15" font-size="3.1" text-anchor="middle" fill="#000" stroke-width="0.08">10</text>
<text x="267.43" y="374.15" font-size="3.1" text-anchor="middle" fill="#000" stroke-width="0.08">11</text>
<text x="272.16" y="374.15" font-size="3.1" text-anchor="middle" fill="#000" stroke-width="0.08">12</text>
<text x="276.89" y="374.15" font-size="3.1" text-anchor="middle" fill="#000" stroke-width="0.08">13</text>
<text x="281.62" y="374.15" font-size="3.1" text-anchor="middle" fill="#000" stroke-width="0.08">14</text>
<text x="286.35" y="374.15" font-size="3.1" text-anchor="middle" fill="#000" stroke-width="0.08">15</text>
<text x="291.08" y="374.15" font-size="3.1" text-anchor="middle" fill="#000" stroke-width="0.08">16</text>
<text x="295.81" y="374.15" font-size="3.1" text-anchor="middle" fill="#000" stroke-width="0.08">17</text>
<text x="300.54" y="374.15" font-size="3.1" text-anchor="middle" fill="#000" stroke-width="0.08">18</text>
<text x="305.27" y="374.15" font-size="3.1" text-anchor="middle" fill="#000" stroke-width="0.08">19</text>
<text x="310" y="374.15" font-size="3.1" text-anchor="middle" fill="#000" stroke-width="0.08">20</text>
<text x="314.73" y="374.15" font-size="3.1" text-anchor="middle" fill="#000" stroke-width="0.08">21</text>
<text x="319.46" y="374.15" font-size="3.1" text-anchor="middle" fill="#000" stroke-width="0.08">22</text>
<text x="324.19" y="374.15" font-size="3.1" text-anchor="middle" fill="#000" stroke-width="0.08">23</text>
<text x="328.92" y="374.15" font-size="3.1" text-anchor="middle" fill="#000" stroke-width="0.08">24</text>
<text x="333.65" y="374.15" font-size="3.1" text-anchor="middle" fill="#000" stroke-width="0.08">25</text>
<text x="274.4" y="380.7" font-size="5.0" text-anchor="middle" fill="#000" stroke-width="0.24" textLength="9.1" lengthAdjust="spacingAndGlyphs">Years</text>
<text x="200" y="381.9" font-size="2.9" fill="#666" stroke="#666" textLength="12.0" lengthAdjust="spacingAndGlyphs">No. at risk</text>
<text x="215.4" y="387.95" font-size="2.3" text-anchor="middle" fill="#7a7a7a" stroke="#7a7a7a" stroke-width="0.05">156</text>
<text x="220.13" y="387.95" font-size="2.3" text-anchor="middle" fill="#7a7a7a" stroke="#7a7a7a" stroke-width="0.05">143</text>
<text x="224.86" y="387.95" font-size="2.3" text-anchor="middle" fill="#7a7a7a" stroke="#7a7a7a" stroke-width="0.05">132</text>
<text x="229.59" y="387.95" font-size="2.3" text-anchor="middle" fill="#7a7a7a" stroke="#7a7a7a" stroke-width="0.05">126</text>
<text x="234.32" y="387.95" font-size="2.3" text-anchor="middle" fill="#7a7a7a" stroke="#7a7a7a" stroke-width="0.05">95</text>
<text x="239.05" y="387.95" font-size="2.3" text-anchor="middle" fill="#7a7a7a" stroke="#7a7a7a" stroke-width="0.05">88</text>
<text x="243.78" y="387.95" font-size="2.3" text-anchor="middle" fill="#7a7a7a" stroke="#7a7a7a" stroke-width="0.05">79</text>
<text x="248.51" y="387.95" font-size="2.3" text-anchor="middle" fill="#7a7a7a" stroke="#7a7a7a" stroke-width="0.05">72</text>
<text x="253.24" y="387.95" font-size="2.3" text-anchor="middle" fill="#7a7a7a" stroke="#7a7a7a" stroke-width="0.05">67</text>
<text x="257.97" y="387.95" font-size="2.3" text-anchor="middle" fill="#7a7a7a" stroke="#7a7a7a" stroke-width="0.05">63</text>
<text x="262.7" y="387.95" font-size="2.3" text-anchor="middle" fill="#7a7a7a" stroke="#7a7a7a" stroke-width="0.05">58</text>
<text x="267.43" y="387.95" font-size="2.3" text-anchor="middle" fill="#7a7a7a" stroke="#7a7a7a" stroke-width="0.05">52</text>
<text x="272.16" y="387.95" font-size="2.3" text-anchor="middle" fill="#7a7a7a" stroke="#7a7a7a" stroke-width="0.05">30</text>
<text x="276.89" y="387.95" font-size="2.3" text-anchor="middle" fill="#7a7a7a" stroke="#7a7a7a" stroke-width="0.05">24</text>
<text x="281.62" y="387.95" font-size="2.3" text-anchor="middle" fill="#7a7a7a" stroke="#7a7a7a" stroke-width="0.05">19</text>
<text x="286.35" y="387.95" font-size="2.3" text-anchor="middle" fill="#7a7a7a" stroke="#7a7a7a" stroke-width="0.05">15</text>
<text x="291.08" y="387.95" font-size="2.3" text-anchor="middle" fill="#7a7a7a" stroke="#7a7a7a" stroke-width="0.05">12</text>
<text x="295.81" y="387.95" font-size="2.3" text-anchor="middle" fill="#7a7a7a" stroke="#7a7a7a" stroke-width="0.05">8</text>
<text x="300.54" y="387.95" font-size="2.3" text-anchor="middle" fill="#7a7a7a" stroke="#7a7a7a" stroke-width="0.05">7</text>
<text x="305.27" y="387.95" font-size="2.3" text-anchor="middle" fill="#7a7a7a" stroke="#7a7a7a" stroke-width="0.05">6</text>
<text x="310" y="387.95" font-size="2.3" text-anchor="middle" fill="#7a7a7a" stroke="#7a7a7a" stroke-width="0.05">5</text>
<text x="314.73" y="387.95" font-size="2.3" text-anchor="middle" fill="#7a7a7a" stroke="#7a7a7a" stroke-width="0.05">3</text>
<text x="319.46" y="387.95" font-size="2.3" text-anchor="middle" fill="#7a7a7a" stroke="#7a7a7a" stroke-width="0.05">3</text>
<text x="324.19" y="387.95" font-size="2.3" text-anchor="middle" fill="#7a7a7a" stroke="#7a7a7a" stroke-width="0.05">2</text>
<text x="328.92" y="387.95" font-size="2.3" text-anchor="middle" fill="#7a7a7a" stroke="#7a7a7a" stroke-width="0.05">1</text>
<text x="333.65" y="387.95" font-size="2.3" text-anchor="middle" fill="#7a7a7a" stroke="#7a7a7a" stroke-width="0.05">0</text>
<text x="215.4" y="390.55" font-size="2.3" text-anchor="middle" fill="#7a7a7a" stroke="#7a7a7a" stroke-width="0.05">135</text>
<text x="220.13" y="390.55" font-size="2.3" text-anchor="middle" fill="#7a7a7a" stroke="#7a7a7a" stroke-width="0.05">113</text>
<text x="224.86" y="390.55" font-size="2.3" text-anchor="middle" fill="#7a7a7a" stroke="#7a7a7a" stroke-width="0.05">97</text>
<text x="229.59" y="390.55" font-size="2.3" text-anchor="middle" fill="#7a7a7a" stroke="#7a7a7a" stroke-width="0.05">79</text>
<text x="234.32" y="390.55" font-size="2.3" text-anchor="middle" fill="#7a7a7a" stroke="#7a7a7a" stroke-width="0.05">70</text>
<text x="239.05" y="390.55" font-size="2.3" text-anchor="middle" fill="#7a7a7a" stroke="#7a7a7a" stroke-width="0.05">64</text>
<text x="243.78" y="390.55" font-size="2.3" text-anchor="middle" fill="#7a7a7a" stroke="#7a7a7a" stroke-width="0.05">60</text>
<text x="248.51" y="390.55" font-size="2.3" text-anchor="middle" fill="#7a7a7a" stroke="#7a7a7a" stroke-width="0.05">56</text>
<text x="253.24" y="390.55" font-size="2.3" text-anchor="middle" fill="#7a7a7a" stroke="#7a7a7a" stroke-width="0.05">51</text>
<text x="257.97" y="390.55" font-size="2.3" text-anchor="middle" fill="#7a7a7a" stroke="#7a7a7a" stroke-width="0.05">46</text>
<text x="262.7" y="390.55" font-size="2.3" text-anchor="middle" fill="#7a7a7a" stroke="#7a7a7a" stroke-width="0.05">41</text>
<text x="267.43" y="390.55" font-size="2.3" text-anchor="middle" fill="#7a7a7a" stroke="#7a7a7a" stroke-width="0.05">37</text>
<text x="272.16" y="390.55" font-size="2.3" text-anchor="middle" fill="#7a7a7a" stroke="#7a7a7a" stroke-width="0.05">21</text>
<text x="276.89" y="390.55" font-size="2.3" text-anchor="middle" fill="#7a7a7a" stroke="#7a7a7a" stroke-width="0.05">16</text>
<text x="281.62" y="390.55" font-size="2.3" text-anchor="middle" fill="#7a7a7a" stroke="#7a7a7a" stroke-width="0.05">12</text>
<text x="286.35" y="390.55" font-size="2.3" text-anchor="middle" fill="#7a7a7a" stroke="#7a7a7a" stroke-width="0.05">9</text>
<text x="291.08" y="390.55" font-size="2.3" text-anchor="middle" fill="#7a7a7a" stroke="#7a7a7a" stroke-width="0.05">7</text>
<text x="295.81" y="390.55" font-size="2.3" text-anchor="middle" fill="#7a7a7a" stroke="#7a7a7a" stroke-width="0.05">5</text>
<text x="300.54" y="390.55" font-size="2.3" text-anchor="middle" fill="#7a7a7a" stroke="#7a7a7a" stroke-width="0.05">4</text>
<text x="305.27" y="390.55" font-size="2.3" text-anchor="middle" fill="#7a7a7a" stroke="#7a7a7a" stroke-width="0.05">3</text>
<text x="310" y="390.55" font-size="2.3" text-anchor="middle" fill="#7a7a7a" stroke="#7a7a7a" stroke-width="0.05">2</text>
<text x="314.73" y="390.55" font-size="2.3" text-anchor="middle" fill="#7a7a7a" stroke="#7a7a7a" stroke-width="0.05">1</text>
<text x="319.46" y="390.55" font-size="2.3" text-anchor="middle" fill="#7a7a7a" stroke="#7a7a7a" stroke-width="0.05">1</text>
<text x="324.19" y="390.55" font-size="2.3" text-anchor="middle" fill="#7a7a7a" stroke="#7a7a7a" stroke-width="0.05">0</text>
<text x="328.92" y="390.55" font-size="2.3" text-anchor="middle" fill="#7a7a7a" stroke="#7a7a7a" stroke-width="0.05">0</text>
<text x="333.65" y="390.55" font-size="2.3" text-anchor="middle" fill="#7a7a7a" stroke="#7a7a7a" stroke-width="0.05">0</text>
<text x="282.7" y="296.55" font-size="3.1" text-anchor="start" fill="#2a2a2a" font-weight="normal" >MRD<tspan font-size="1.9" dy="-1">TP1</tspan><tspan dy="1">−</tspan> (n = 156)</text>
<text x="282.7" y="300.55" font-size="3.1" text-anchor="start" fill="#2a2a2a" font-weight="normal" >Median, not reached</text>
<text x="282.7" y="304.55" font-size="3.1" text-anchor="start" fill="#2a2a2a" font-weight="normal" >(95% CI, NE-NE)</text>
<text x="282.7" y="310.85" font-size="3.1" text-anchor="start" fill="#2a2a2a" font-weight="normal" >MRD<tspan font-size="1.9" dy="-1">TP1</tspan><tspan dy="1">+</tspan> (n = 135)</text>
<text x="282.7" y="314.85" font-size="3.1" text-anchor="start" fill="#2a2a2a" font-weight="normal" >Median, 4.4 years</text>
<text x="282.7" y="318.85" font-size="3.1" text-anchor="start" fill="#2a2a2a" font-weight="normal" >(95% CI, 3.55-NE)</text>
<text x="282.6" y="358.75" font-size="3.1" text-anchor="start" fill="#2a2a2a" font-weight="normal" >Hazards ratio for death: 1.760</text>
<text x="282.6" y="362.55" font-size="3.1" text-anchor="start" fill="#2a2a2a" font-weight="normal" >(95% CI, 1.240-2.497)</text>
<text x="282.6" y="366.35" font-size="3.1" text-anchor="start" fill="#2a2a2a" font-weight="normal" >P = 0.001 by log-rank test</text>
<text x="0" y="0" font-size="4.0" text-anchor="middle" fill="#2a2a2a" stroke-width="0.22" textLength="46.5" lengthAdjust="spacingAndGlyphs" transform="translate(369.6 329) rotate(-90)">Probability of overall survival</text>
<text x="380.1" y="365.4" font-size="3.5" text-anchor="end" fill="#000" stroke-width="0.12" textLength="6.7" lengthAdjust="spacingAndGlyphs">0.00</text>
<text x="380.1" y="347.52" font-size="3.5" text-anchor="end" fill="#000" stroke-width="0.12" textLength="6.7" lengthAdjust="spacingAndGlyphs">0.25</text>
<text x="380.1" y="329.65" font-size="3.5" text-anchor="end" fill="#000" stroke-width="0.12" textLength="6.7" lengthAdjust="spacingAndGlyphs">0.50</text>
<text x="380.1" y="311.77" font-size="3.5" text-anchor="end" fill="#000" stroke-width="0.12" textLength="6.7" lengthAdjust="spacingAndGlyphs">0.75</text>
<text x="380.1" y="293.9" font-size="3.5" text-anchor="end" fill="#000" stroke-width="0.12" textLength="6.7" lengthAdjust="spacingAndGlyphs">1.00</text>
<text x="389.3" y="374.15" font-size="3.1" text-anchor="middle" fill="#000" stroke-width="0.08">0</text>
<text x="394.03" y="374.15" font-size="3.1" text-anchor="middle" fill="#000" stroke-width="0.08">1</text>
<text x="398.76" y="374.15" font-size="3.1" text-anchor="middle" fill="#000" stroke-width="0.08">2</text>
<text x="403.49" y="374.15" font-size="3.1" text-anchor="middle" fill="#000" stroke-width="0.08">3</text>
<text x="408.22" y="374.15" font-size="3.1" text-anchor="middle" fill="#000" stroke-width="0.08">4</text>
<text x="412.95" y="374.15" font-size="3.1" text-anchor="middle" fill="#000" stroke-width="0.08">5</text>
<text x="417.68" y="374.15" font-size="3.1" text-anchor="middle" fill="#000" stroke-width="0.08">6</text>
<text x="422.41" y="374.15" font-size="3.1" text-anchor="middle" fill="#000" stroke-width="0.08">7</text>
<text x="427.14" y="374.15" font-size="3.1" text-anchor="middle" fill="#000" stroke-width="0.08">8</text>
<text x="431.87" y="374.15" font-size="3.1" text-anchor="middle" fill="#000" stroke-width="0.08">9</text>
<text x="436.6" y="374.15" font-size="3.1" text-anchor="middle" fill="#000" stroke-width="0.08">10</text>
<text x="441.33" y="374.15" font-size="3.1" text-anchor="middle" fill="#000" stroke-width="0.08">11</text>
<text x="446.06" y="374.15" font-size="3.1" text-anchor="middle" fill="#000" stroke-width="0.08">12</text>
<text x="450.79" y="374.15" font-size="3.1" text-anchor="middle" fill="#000" stroke-width="0.08">13</text>
<text x="455.52" y="374.15" font-size="3.1" text-anchor="middle" fill="#000" stroke-width="0.08">14</text>
<text x="460.25" y="374.15" font-size="3.1" text-anchor="middle" fill="#000" stroke-width="0.08">15</text>
<text x="464.98" y="374.15" font-size="3.1" text-anchor="middle" fill="#000" stroke-width="0.08">16</text>
<text x="469.71" y="374.15" font-size="3.1" text-anchor="middle" fill="#000" stroke-width="0.08">17</text>
<text x="474.44" y="374.15" font-size="3.1" text-anchor="middle" fill="#000" stroke-width="0.08">18</text>
<text x="479.17" y="374.15" font-size="3.1" text-anchor="middle" fill="#000" stroke-width="0.08">19</text>
<text x="483.9" y="374.15" font-size="3.1" text-anchor="middle" fill="#000" stroke-width="0.08">20</text>
<text x="488.63" y="374.15" font-size="3.1" text-anchor="middle" fill="#000" stroke-width="0.08">21</text>
<text x="493.36" y="374.15" font-size="3.1" text-anchor="middle" fill="#000" stroke-width="0.08">22</text>
<text x="498.09" y="374.15" font-size="3.1" text-anchor="middle" fill="#000" stroke-width="0.08">23</text>
<text x="502.82" y="374.15" font-size="3.1" text-anchor="middle" fill="#000" stroke-width="0.08">24</text>
<text x="507.55" y="374.15" font-size="3.1" text-anchor="middle" fill="#000" stroke-width="0.08">25</text>
<text x="448.3" y="380.7" font-size="5.0" text-anchor="middle" fill="#000" stroke-width="0.24" textLength="9.1" lengthAdjust="spacingAndGlyphs">Years</text>
<text x="373.9" y="381.9" font-size="2.9" fill="#666" stroke="#666" textLength="12.0" lengthAdjust="spacingAndGlyphs">No. at risk</text>
<text x="389.3" y="387.95" font-size="2.3" text-anchor="middle" fill="#7a7a7a" stroke="#7a7a7a" stroke-width="0.05">207</text>
<text x="394.03" y="387.95" font-size="2.3" text-anchor="middle" fill="#7a7a7a" stroke="#7a7a7a" stroke-width="0.05">196</text>
<text x="398.76" y="387.95" font-size="2.3" text-anchor="middle" fill="#7a7a7a" stroke="#7a7a7a" stroke-width="0.05">158</text>
<text x="403.49" y="387.95" font-size="2.3" text-anchor="middle" fill="#7a7a7a" stroke="#7a7a7a" stroke-width="0.05">143</text>
<text x="408.22" y="387.95" font-size="2.3" text-anchor="middle" fill="#7a7a7a" stroke="#7a7a7a" stroke-width="0.05">132</text>
<text x="412.95" y="387.95" font-size="2.3" text-anchor="middle" fill="#7a7a7a" stroke="#7a7a7a" stroke-width="0.05">126</text>
<text x="417.68" y="387.95" font-size="2.3" text-anchor="middle" fill="#7a7a7a" stroke="#7a7a7a" stroke-width="0.05">110</text>
<text x="422.41" y="387.95" font-size="2.3" text-anchor="middle" fill="#7a7a7a" stroke="#7a7a7a" stroke-width="0.05">97</text>
<text x="427.14" y="387.95" font-size="2.3" text-anchor="middle" fill="#7a7a7a" stroke="#7a7a7a" stroke-width="0.05">79</text>
<text x="431.87" y="387.95" font-size="2.3" text-anchor="middle" fill="#7a7a7a" stroke="#7a7a7a" stroke-width="0.05">70</text>
<text x="436.6" y="387.95" font-size="2.3" text-anchor="middle" fill="#7a7a7a" stroke="#7a7a7a" stroke-width="0.05">63</text>
<text x="441.33" y="387.95" font-size="2.3" text-anchor="middle" fill="#7a7a7a" stroke="#7a7a7a" stroke-width="0.05">55</text>
<text x="446.06" y="387.95" font-size="2.3" text-anchor="middle" fill="#7a7a7a" stroke="#7a7a7a" stroke-width="0.05">33</text>
<text x="450.79" y="387.95" font-size="2.3" text-anchor="middle" fill="#7a7a7a" stroke="#7a7a7a" stroke-width="0.05">26</text>
<text x="455.52" y="387.95" font-size="2.3" text-anchor="middle" fill="#7a7a7a" stroke="#7a7a7a" stroke-width="0.05">21</text>
<text x="460.25" y="387.95" font-size="2.3" text-anchor="middle" fill="#7a7a7a" stroke="#7a7a7a" stroke-width="0.05">17</text>
<text x="464.98" y="387.95" font-size="2.3" text-anchor="middle" fill="#7a7a7a" stroke="#7a7a7a" stroke-width="0.05">12</text>
<text x="469.71" y="387.95" font-size="2.3" text-anchor="middle" fill="#7a7a7a" stroke="#7a7a7a" stroke-width="0.05">8</text>
<text x="474.44" y="387.95" font-size="2.3" text-anchor="middle" fill="#7a7a7a" stroke="#7a7a7a" stroke-width="0.05">7</text>
<text x="479.17" y="387.95" font-size="2.3" text-anchor="middle" fill="#7a7a7a" stroke="#7a7a7a" stroke-width="0.05">6</text>
<text x="483.9" y="387.95" font-size="2.3" text-anchor="middle" fill="#7a7a7a" stroke="#7a7a7a" stroke-width="0.05">5</text>
<text x="488.63" y="387.95" font-size="2.3" text-anchor="middle" fill="#7a7a7a" stroke="#7a7a7a" stroke-width="0.05">3</text>
<text x="493.36" y="387.95" font-size="2.3" text-anchor="middle" fill="#7a7a7a" stroke="#7a7a7a" stroke-width="0.05">3</text>
<text x="498.09" y="387.95" font-size="2.3" text-anchor="middle" fill="#7a7a7a" stroke="#7a7a7a" stroke-width="0.05">2</text>
<text x="502.82" y="387.95" font-size="2.3" text-anchor="middle" fill="#7a7a7a" stroke="#7a7a7a" stroke-width="0.05">1</text>
<text x="507.55" y="387.95" font-size="2.3" text-anchor="middle" fill="#7a7a7a" stroke="#7a7a7a" stroke-width="0.05">0</text>
<text x="389.3" y="390.55" font-size="2.3" text-anchor="middle" fill="#7a7a7a" stroke="#7a7a7a" stroke-width="0.05">84</text>
<text x="394.03" y="390.55" font-size="2.3" text-anchor="middle" fill="#7a7a7a" stroke="#7a7a7a" stroke-width="0.05">68</text>
<text x="398.76" y="390.55" font-size="2.3" text-anchor="middle" fill="#7a7a7a" stroke="#7a7a7a" stroke-width="0.05">60</text>
<text x="403.49" y="390.55" font-size="2.3" text-anchor="middle" fill="#7a7a7a" stroke="#7a7a7a" stroke-width="0.05">41</text>
<text x="408.22" y="390.55" font-size="2.3" text-anchor="middle" fill="#7a7a7a" stroke="#7a7a7a" stroke-width="0.05">31</text>
<text x="412.95" y="390.55" font-size="2.3" text-anchor="middle" fill="#7a7a7a" stroke="#7a7a7a" stroke-width="0.05">28</text>
<text x="417.68" y="390.55" font-size="2.3" text-anchor="middle" fill="#7a7a7a" stroke="#7a7a7a" stroke-width="0.05">24</text>
<text x="422.41" y="390.55" font-size="2.3" text-anchor="middle" fill="#7a7a7a" stroke="#7a7a7a" stroke-width="0.05">21</text>
<text x="427.14" y="390.55" font-size="2.3" text-anchor="middle" fill="#7a7a7a" stroke="#7a7a7a" stroke-width="0.05">19</text>
<text x="431.87" y="390.55" font-size="2.3" text-anchor="middle" fill="#7a7a7a" stroke="#7a7a7a" stroke-width="0.05">16</text>
<text x="436.6" y="390.55" font-size="2.3" text-anchor="middle" fill="#7a7a7a" stroke="#7a7a7a" stroke-width="0.05">12</text>
<text x="441.33" y="390.55" font-size="2.3" text-anchor="middle" fill="#7a7a7a" stroke="#7a7a7a" stroke-width="0.05">8</text>
<text x="446.06" y="390.55" font-size="2.3" text-anchor="middle" fill="#7a7a7a" stroke="#7a7a7a" stroke-width="0.05">6</text>
<text x="450.79" y="390.55" font-size="2.3" text-anchor="middle" fill="#7a7a7a" stroke="#7a7a7a" stroke-width="0.05">5</text>
<text x="455.52" y="390.55" font-size="2.3" text-anchor="middle" fill="#7a7a7a" stroke="#7a7a7a" stroke-width="0.05">3</text>
<text x="460.25" y="390.55" font-size="2.3" text-anchor="middle" fill="#7a7a7a" stroke="#7a7a7a" stroke-width="0.05">1</text>
<text x="464.98" y="390.55" font-size="2.3" text-anchor="middle" fill="#7a7a7a" stroke="#7a7a7a" stroke-width="0.05">0</text>
<text x="469.71" y="390.55" font-size="2.3" text-anchor="middle" fill="#7a7a7a" stroke="#7a7a7a" stroke-width="0.05">0</text>
<text x="474.44" y="390.55" font-size="2.3" text-anchor="middle" fill="#7a7a7a" stroke="#7a7a7a" stroke-width="0.05">0</text>
<text x="479.17" y="390.55" font-size="2.3" text-anchor="middle" fill="#7a7a7a" stroke="#7a7a7a" stroke-width="0.05">0</text>
<text x="483.9" y="390.55" font-size="2.3" text-anchor="middle" fill="#7a7a7a" stroke="#7a7a7a" stroke-width="0.05">0</text>
<text x="488.63" y="390.55" font-size="2.3" text-anchor="middle" fill="#7a7a7a" stroke="#7a7a7a" stroke-width="0.05">0</text>
<text x="493.36" y="390.55" font-size="2.3" text-anchor="middle" fill="#7a7a7a" stroke="#7a7a7a" stroke-width="0.05">0</text>
<text x="498.09" y="390.55" font-size="2.3" text-anchor="middle" fill="#7a7a7a" stroke="#7a7a7a" stroke-width="0.05">0</text>
<text x="502.82" y="390.55" font-size="2.3" text-anchor="middle" fill="#7a7a7a" stroke="#7a7a7a" stroke-width="0.05">0</text>
<text x="507.55" y="390.55" font-size="2.3" text-anchor="middle" fill="#7a7a7a" stroke="#7a7a7a" stroke-width="0.05">0</text>
<text x="456.5" y="297.25" font-size="3.1" text-anchor="start" fill="#2a2a2a" font-weight="normal" >MRD<tspan font-size="1.9" dy="-1">TP2</tspan><tspan dy="1">−</tspan> (n = 207)</text>
<text x="456.5" y="301.25" font-size="3.1" text-anchor="start" fill="#2a2a2a" font-weight="normal" >Median, not reached</text>
<text x="456.5" y="305.25" font-size="3.1" text-anchor="start" fill="#2a2a2a" font-weight="normal" >(95% CI, NE-NE)</text>
<text x="456.5" y="311.95" font-size="3.1" text-anchor="start" fill="#2a2a2a" font-weight="normal" >MRD<tspan font-size="1.9" dy="-1">TP2</tspan><tspan dy="1">+</tspan> (n = 84)</text>
<text x="456.5" y="315.95" font-size="3.1" text-anchor="start" fill="#2a2a2a" font-weight="normal" >Median, 3.1 years</text>
<text x="456.5" y="319.95" font-size="3.1" text-anchor="start" fill="#2a2a2a" font-weight="normal" >(95% CI, 1.86-6.16)</text>
<text x="456.3" y="358.75" font-size="3.1" text-anchor="start" fill="#2a2a2a" font-weight="normal" >Hazards ratio for death: 3.068</text>
<text x="456.3" y="362.55" font-size="3.1" text-anchor="start" fill="#2a2a2a" font-weight="normal" >(95% CI, 1.449-2.951)</text>
<text x="456.3" y="366.35" font-size="3.1" text-anchor="start" fill="#2a2a2a" font-weight="normal" >P &lt; 0.001 by log-rank test</text></g>
<rect x="0.5" y="0.5" width="519" height="397" fill="none" stroke="#000" stroke-width="1.2"/>
</svg>
</body></html>
